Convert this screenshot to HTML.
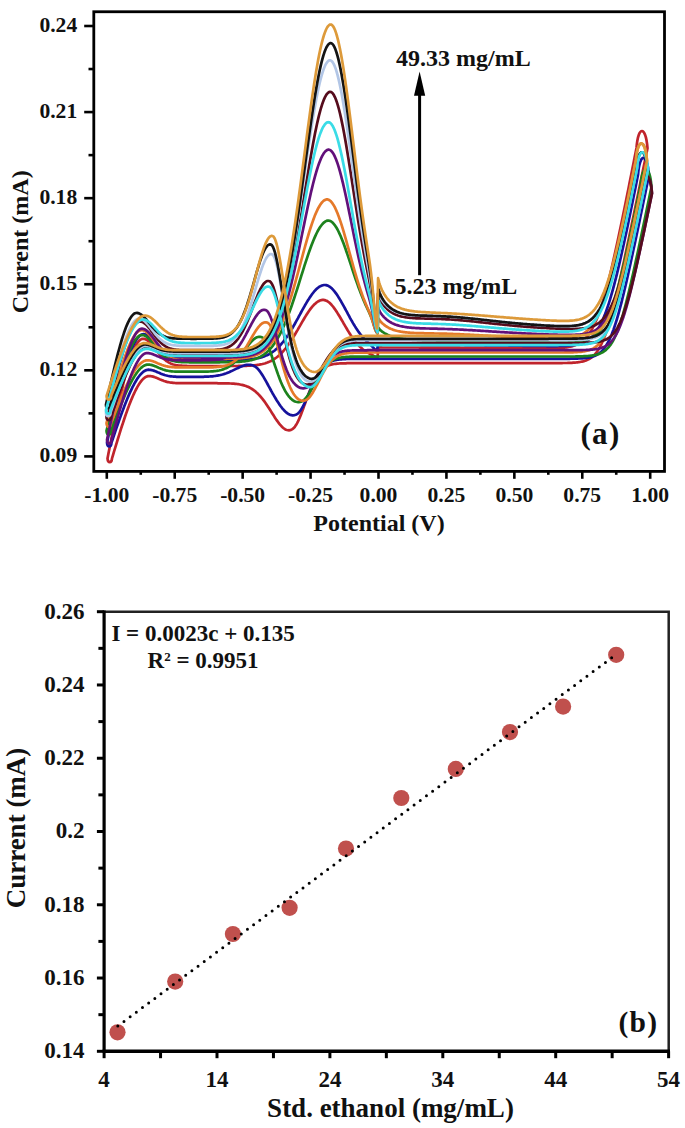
<!DOCTYPE html><html><head><meta charset="utf-8"><style>html,body{margin:0;padding:0;background:#fff;overflow:hidden;width:685px;height:1128px;}svg{display:block}text{font-family:"Liberation Serif",serif;font-weight:bold;fill:#111}</style></head><body>
<svg width="685" height="1128" viewBox="0 0 685 1128">
<g fill="none" stroke-width="2.7" stroke-linejoin="round">
<path d="M107.5,458.4 L108.5,453.3 L109.5,448.3 L110.5,443.3 L111.5,438.3 L112.5,433.3 L113.5,428.4 L114.5,423.5 L115.5,418.6 L116.5,413.9 L117.5,409.2 L118.5,404.6 L119.5,400.0 L120.5,395.6 L121.5,391.3 L122.5,387.1 L123.5,383.0 L124.5,379.0 L125.5,375.2 L126.5,371.5 L127.5,368.0 L128.5,364.6 L129.5,361.4 L130.5,358.4 L131.5,355.6 L132.5,352.9 L133.5,350.5 L134.5,348.2 L135.5,346.2 L136.5,344.4 L137.5,342.8 L138.5,341.5 L139.5,340.4 L140.5,339.6 L141.5,339.1 L142.5,338.8 L143.5,338.8 L144.5,338.9 L145.5,339.3 L146.5,339.8 L147.5,340.4 L148.5,341.2 L149.5,342.1 L150.5,343.1 L151.5,344.2 L152.5,345.4 L153.5,346.6 L154.5,347.9 L155.5,349.2 L156.5,350.5 L157.5,351.8 L158.5,353.0 L159.5,354.2 L160.5,355.4 L161.5,356.5 L162.5,357.6 L163.5,358.6 L164.5,359.5 L165.5,360.3 L166.5,361.1 L167.5,361.7 L168.5,362.3 L169.5,362.9 L170.5,363.4 L171.5,363.8 L172.5,364.2 L173.5,364.5 L174.5,364.7 L175.5,365.0 L176.5,365.2 L177.5,365.3 L178.5,365.5 L179.5,365.6 L180.5,365.7 L181.5,365.7 L182.5,365.8 L183.5,365.8 L184.5,365.9 L185.5,365.9 L186.5,365.9 L187.5,366.0 L188.5,366.0 L189.5,366.0 L190.5,366.0 L191.5,366.0 L192.5,366.0 L193.5,366.0 L194.5,366.0 L195.5,366.0 L196.5,366.0 L197.5,366.0 L198.5,366.0 L199.5,366.0 L200.5,366.0 L201.5,366.0 L202.5,366.0 L203.5,366.0 L204.5,366.0 L205.5,366.0 L206.5,366.0 L207.5,366.0 L208.5,366.0 L209.5,366.0 L210.5,366.0 L211.5,366.0 L212.5,366.0 L213.5,366.0 L214.5,366.0 L215.5,366.0 L216.5,366.0 L217.5,366.0 L218.5,366.0 L219.5,366.0 L220.5,366.0 L221.5,366.0 L222.5,366.0 L223.5,366.0 L224.5,366.0 L225.5,366.0 L226.5,366.0 L227.5,366.0 L228.5,366.0 L229.5,366.0 L230.5,366.0 L231.5,366.0 L232.5,366.0 L233.5,366.0 L234.5,366.0 L235.5,366.0 L236.5,366.0 L237.5,366.0 L238.5,365.9 L239.5,365.9 L240.5,365.9 L241.5,365.9 L242.5,365.9 L243.5,365.9 L244.5,365.8 L245.5,365.8 L246.5,365.8 L247.5,365.7 L248.5,365.7 L249.5,365.6 L250.5,365.6 L251.5,365.5 L252.5,365.4 L253.5,365.4 L254.5,365.3 L255.5,365.2 L256.5,365.0 L257.5,364.9 L258.5,364.8 L259.5,364.6 L260.5,364.4 L261.5,364.2 L262.5,364.0 L263.5,363.7 L264.5,363.5 L265.5,363.2 L266.5,362.8 L267.5,362.5 L268.5,362.1 L269.5,361.6 L270.5,361.2 L271.5,360.7 L272.5,360.1 L273.5,359.5 L274.5,358.9 L275.5,358.2 L276.5,357.5 L277.5,356.7 L278.5,355.9 L279.5,355.0 L280.5,354.0 L281.5,353.0 L282.5,352.0 L283.5,350.8 L284.5,349.7 L285.5,348.5 L286.5,347.2 L287.5,345.8 L288.5,344.5 L289.5,343.0 L290.5,341.5 L291.5,340.0 L292.5,338.4 L293.5,336.8 L294.5,335.2 L295.5,333.5 L296.5,331.8 L297.5,330.1 L298.5,328.3 L299.5,326.6 L300.5,324.9 L301.5,323.1 L302.5,321.4 L303.5,319.7 L304.5,318.0 L305.5,316.4 L306.5,314.8 L307.5,313.2 L308.5,311.7 L309.5,310.3 L310.5,308.9 L311.5,307.6 L312.5,306.4 L313.5,305.3 L314.5,304.3 L315.5,303.4 L316.5,302.5 L317.5,301.8 L318.5,301.2 L319.5,300.7 L320.5,300.3 L321.5,300.1 L322.5,299.9 L323.5,299.9 L324.5,300.1 L325.5,300.4 L326.5,300.8 L327.5,301.3 L328.5,302.0 L329.5,302.8 L330.5,303.8 L331.5,304.8 L332.5,306.0 L333.5,307.2 L334.5,308.6 L335.5,310.0 L336.5,311.5 L337.5,313.1 L338.5,314.7 L339.5,316.3 L340.5,318.0 L341.5,319.7 L342.5,321.4 L343.5,323.2 L344.5,324.9 L345.5,326.6 L346.5,328.3 L347.5,330.0 L348.5,331.6 L349.5,333.2 L350.5,334.8 L351.5,336.3 L352.5,337.7 L353.5,339.1 L354.5,340.5 L355.5,341.7 L356.5,343.0 L357.5,344.1 L358.5,345.2 L359.5,346.3 L360.5,347.2 L361.5,348.1 L362.5,349.0 L363.5,349.8 L364.5,350.5 L365.5,351.2 L366.5,351.8 L367.5,352.4 L368.5,353.0 L369.5,353.5 L370.5,354.1 L371.5,354.6 L372.5,355.2 L373.5,355.8 L374.5,356.4 L375.5,356.8 L376.5,357.1 L377.5,357.3 L378.5,347.4 L379.5,347.4 L380.5,347.4 L381.5,347.4 L382.5,347.5 L383.5,347.5 L384.5,347.5 L385.5,347.5 L386.5,347.5 L387.5,347.5 L388.5,347.5 L389.5,347.5 L390.5,347.5 L391.5,347.5 L392.5,347.5 L393.5,347.5 L394.5,347.5 L395.5,347.5 L396.5,347.5 L397.5,347.5 L398.5,347.5 L399.5,347.5 L400.5,347.5 L401.5,347.5 L402.5,347.5 L403.5,347.5 L404.5,347.5 L405.5,347.5 L406.5,347.5 L407.5,347.5 L408.5,347.5 L409.5,347.5 L410.5,347.5 L411.5,347.5 L412.5,347.5 L413.5,347.5 L414.5,347.5 L415.5,347.5 L416.5,347.5 L417.5,347.5 L418.5,347.5 L419.5,347.6 L420.5,347.6 L421.5,347.6 L422.5,347.6 L423.5,347.6 L424.5,347.6 L425.5,347.6 L426.5,347.6 L427.5,347.6 L428.5,347.6 L429.5,347.6 L430.5,347.6 L431.5,347.6 L432.5,347.6 L433.5,347.6 L434.5,347.6 L435.5,347.6 L436.5,347.6 L437.5,347.6 L438.5,347.6 L439.5,347.6 L440.5,347.6 L441.5,347.6 L442.5,347.6 L443.5,347.7 L444.5,347.7 L445.5,347.7 L446.5,347.7 L447.5,347.7 L448.5,347.7 L449.5,347.7 L450.5,347.7 L451.5,347.7 L452.5,347.7 L453.5,347.7 L454.5,347.7 L455.5,347.7 L456.5,347.7 L457.5,347.7 L458.5,347.7 L459.5,347.7 L460.5,347.8 L461.5,347.8 L462.5,347.8 L463.5,347.8 L464.5,347.8 L465.5,347.8 L466.5,347.8 L467.5,347.8 L468.5,347.8 L469.5,347.8 L470.5,347.8 L471.5,347.8 L472.5,347.8 L473.5,347.8 L474.5,347.8 L475.5,347.9 L476.5,347.9 L477.5,347.9 L478.5,347.9 L479.5,347.9 L480.5,347.9 L481.5,347.9 L482.5,347.9 L483.5,347.9 L484.5,347.9 L485.5,347.9 L486.5,347.9 L487.5,348.0 L488.5,348.0 L489.5,348.0 L490.5,348.0 L491.5,348.0 L492.5,348.0 L493.5,348.0 L494.5,348.0 L495.5,348.0 L496.5,348.0 L497.5,348.0 L498.5,348.1 L499.5,348.1 L500.5,348.1 L501.5,348.1 L502.5,348.1 L503.5,348.1 L504.5,348.1 L505.5,348.1 L506.5,348.1 L507.5,348.1 L508.5,348.2 L509.5,348.2 L510.5,348.2 L511.5,348.2 L512.5,348.2 L513.5,348.2 L514.5,348.2 L515.5,348.2 L516.5,348.2 L517.5,348.2 L518.5,348.3 L519.5,348.3 L520.5,348.3 L521.5,348.3 L522.5,348.3 L523.5,348.3 L524.5,348.3 L525.5,348.3 L526.5,348.3 L527.5,348.3 L528.5,348.4 L529.5,348.4 L530.5,348.4 L531.5,348.4 L532.5,348.4 L533.5,348.4 L534.5,348.4 L535.5,348.4 L536.5,348.4 L537.5,348.4 L538.5,348.4 L539.5,348.4 L540.5,348.4 L541.5,348.4 L542.5,348.4 L543.5,348.4 L544.5,348.4 L545.5,348.4 L546.5,348.4 L547.5,348.4 L548.5,348.4 L549.5,348.4 L550.5,348.4 L551.5,348.4 L552.5,348.3 L553.5,348.3 L554.5,348.3 L555.5,348.3 L556.5,348.2 L557.5,348.2 L558.5,348.1 L559.5,348.1 L560.5,348.0 L561.5,347.9 L562.5,347.8 L563.5,347.7 L564.5,347.6 L565.5,347.5 L566.5,347.4 L567.5,347.2 L568.5,347.0 L569.5,346.8 L570.5,346.6 L571.5,346.4 L572.5,346.1 L573.5,345.8 L574.5,345.5 L575.5,345.1 L576.5,344.7 L577.5,344.2 L578.5,343.7 L579.5,343.1 L580.5,342.5 L581.5,341.8 L582.5,341.0 L583.5,340.2 L584.5,339.3 L585.5,338.3 L586.5,337.1 L587.5,335.9 L588.5,334.6 L589.5,333.2 L590.5,331.7 L591.5,330.0 L592.5,328.2 L593.5,326.3 L594.5,324.2 L595.5,322.0 L596.5,319.7 L597.5,317.2 L598.5,314.6 L599.5,311.8 L600.5,308.9 L601.5,305.8 L602.5,302.6 L603.5,299.3 L604.5,295.9 L605.5,292.3 L606.5,288.6 L607.5,284.8 L608.5,280.9 L609.5,276.8 L610.5,272.7 L611.5,268.5 L612.5,264.2 L613.5,259.9 L614.5,255.4 L615.5,250.9 L616.5,246.4 L617.5,241.7 L618.5,237.1 L619.5,232.3 L620.5,227.6 L621.5,222.8 L622.5,217.9 L623.5,213.1 L624.5,208.2 L625.5,203.3 L626.5,198.3 L627.5,193.3 L628.5,188.4 L629.5,183.3 L630.5,178.3 L631.5,173.3 L632.5,168.2 L633.5,163.2 L634.5,158.1 L635.5,153.0 L636.5,147.9 C638.3,125.2 645.7,125.5 647.5,148.2 L647.5,148.2 L647.0,150.7 L646.0,155.5 L645.0,160.4 L644.0,165.3 L643.0,170.1 L642.0,175.0 L641.0,179.8 L640.0,184.7 L639.0,189.5 L638.0,194.4 L637.0,199.2 L636.0,204.1 L635.0,208.9 L634.0,213.7 L633.0,218.5 L632.0,223.3 L631.0,228.1 L630.0,232.9 L629.0,237.7 L628.0,242.4 L627.0,247.1 L626.0,251.8 L625.0,256.5 L624.0,261.2 L623.0,265.8 L622.0,270.3 L621.0,274.9 L620.0,279.4 L619.0,283.8 L618.0,288.2 L617.0,292.5 L616.0,296.7 L615.0,300.8 L614.0,304.9 L613.0,308.8 L612.0,312.6 L611.0,316.3 L610.0,319.9 L609.0,323.3 L608.0,326.6 L607.0,329.7 L606.0,332.7 L605.0,335.5 L604.0,338.1 L603.0,340.6 L602.0,342.8 L601.0,344.9 L600.0,346.9 L599.0,348.6 L598.0,350.2 L597.0,351.7 L596.0,353.0 L595.0,354.2 L594.0,355.3 L593.0,356.2 L592.0,357.1 L591.0,357.8 L590.0,358.5 L589.0,359.1 L588.0,359.6 L587.0,360.0 L586.0,360.4 L585.0,360.8 L584.0,361.1 L583.0,361.4 L582.0,361.6 L581.0,361.8 L580.0,362.0 L579.0,362.1 L578.0,362.3 L577.0,362.4 L576.0,362.5 L575.0,362.6 L574.0,362.6 L573.0,362.7 L572.0,362.8 L571.0,362.8 L570.0,362.9 L569.0,362.9 L568.0,362.9 L567.0,363.0 L566.0,363.0 L565.0,363.0 L564.0,363.0 L563.0,363.0 L562.0,363.1 L561.0,363.1 L560.0,363.1 L559.0,363.1 L558.0,363.1 L557.0,363.1 L556.0,363.1 L555.0,363.1 L554.0,363.1 L553.0,363.1 L552.0,363.1 L551.0,363.1 L550.0,363.1 L549.0,363.1 L548.0,363.1 L547.0,363.1 L546.0,363.1 L545.0,363.1 L544.0,363.1 L543.0,363.1 L542.0,363.1 L541.0,363.1 L540.0,363.1 L539.0,363.1 L538.0,363.1 L537.0,363.1 L536.0,363.1 L535.0,363.1 L534.0,363.1 L533.0,363.1 L532.0,363.1 L531.0,363.1 L530.0,363.1 L529.0,363.1 L528.0,363.1 L527.0,363.1 L526.0,363.1 L525.0,363.1 L524.0,363.1 L523.0,363.1 L522.0,363.1 L521.0,363.1 L520.0,363.1 L519.0,363.1 L518.0,363.1 L517.0,363.1 L516.0,363.1 L515.0,363.1 L514.0,363.1 L513.0,363.1 L512.0,363.1 L511.0,363.1 L510.0,363.1 L509.0,363.1 L508.0,363.1 L507.0,363.1 L506.0,363.1 L505.0,363.1 L504.0,363.1 L503.0,363.1 L502.0,363.1 L501.0,363.1 L500.0,363.1 L499.0,363.1 L498.0,363.1 L497.0,363.1 L496.0,363.1 L495.0,363.1 L494.0,363.1 L493.0,363.1 L492.0,363.1 L491.0,363.1 L490.0,363.1 L489.0,363.1 L488.0,363.1 L487.0,363.1 L486.0,363.1 L485.0,363.1 L484.0,363.1 L483.0,363.1 L482.0,363.1 L481.0,363.1 L480.0,363.1 L479.0,363.1 L478.0,363.1 L477.0,363.1 L476.0,363.1 L475.0,363.1 L474.0,363.1 L473.0,363.1 L472.0,363.1 L471.0,363.1 L470.0,363.1 L469.0,363.1 L468.0,363.1 L467.0,363.1 L466.0,363.1 L465.0,363.1 L464.0,363.1 L463.0,363.1 L462.0,363.1 L461.0,363.1 L460.0,363.1 L459.0,363.1 L458.0,363.1 L457.0,363.1 L456.0,363.1 L455.0,363.1 L454.0,363.1 L453.0,363.1 L452.0,363.1 L451.0,363.1 L450.0,363.1 L449.0,363.1 L448.0,363.1 L447.0,363.1 L446.0,363.1 L445.0,363.1 L444.0,363.1 L443.0,363.1 L442.0,363.1 L441.0,363.1 L440.0,363.1 L439.0,363.1 L438.0,363.1 L437.0,363.1 L436.0,363.1 L435.0,363.1 L434.0,363.1 L433.0,363.1 L432.0,363.1 L431.0,363.1 L430.0,363.1 L429.0,363.1 L428.0,363.1 L427.0,363.1 L426.0,363.1 L425.0,363.1 L424.0,363.1 L423.0,363.1 L422.0,363.1 L421.0,363.1 L420.0,363.1 L419.0,363.1 L418.0,363.1 L417.0,363.1 L416.0,363.1 L415.0,363.1 L414.0,363.1 L413.0,363.1 L412.0,363.1 L411.0,363.1 L410.0,363.1 L409.0,363.1 L408.0,363.1 L407.0,363.1 L406.0,363.1 L405.0,363.1 L404.0,363.1 L403.0,363.1 L402.0,363.1 L401.0,363.1 L400.0,363.1 L399.0,363.1 L398.0,363.1 L397.0,363.1 L396.0,363.1 L395.0,363.1 L394.0,363.1 L393.0,363.1 L392.0,363.1 L391.0,363.1 L390.0,363.1 L389.0,363.1 L388.0,363.1 L387.0,363.1 L386.0,363.1 L385.0,363.1 L384.0,363.1 L383.0,363.1 L382.0,363.1 L381.0,363.1 L380.0,363.1 L379.0,363.1 L378.0,363.1 L377.0,363.1 L376.0,363.1 L375.0,363.1 L374.0,363.1 L373.0,363.1 L372.0,363.1 L371.0,363.1 L370.0,363.1 L369.0,363.1 L368.0,363.1 L367.0,363.2 L366.0,363.2 L365.0,363.2 L364.0,363.2 L363.0,363.2 L362.0,363.2 L361.0,363.2 L360.0,363.2 L359.0,363.2 L358.0,363.2 L357.0,363.2 L356.0,363.2 L355.0,363.2 L354.0,363.2 L353.0,363.2 L352.0,363.2 L351.0,363.2 L350.0,363.2 L349.0,363.2 L348.0,363.2 L347.0,363.2 L346.0,363.3 L345.0,363.3 L344.0,363.3 L343.0,363.3 L342.0,363.4 L341.0,363.4 L340.0,363.4 L339.0,363.5 L338.0,363.6 L337.0,363.7 L336.0,363.8 L335.0,363.9 L334.0,364.0 L333.0,364.2 L332.0,364.4 L331.0,364.7 L330.0,365.0 L329.0,365.3 L328.0,365.7 L327.0,366.1 L326.0,366.7 L325.0,367.3 L324.0,368.0 L323.0,368.8 L322.0,369.6 L321.0,370.6 L320.0,371.8 L319.0,373.0 L318.0,374.4 L317.0,375.9 L316.0,377.5 L315.0,379.3 L314.0,381.3 L313.0,383.3 L312.0,385.5 L311.0,387.9 L310.0,390.3 L309.0,392.8 L308.0,395.5 L307.0,398.2 L306.0,400.9 L305.0,403.7 L304.0,406.4 L303.0,409.2 L302.0,411.8 L301.0,414.4 L300.0,416.9 L299.0,419.2 L298.0,421.4 L297.0,423.3 L296.0,425.1 L295.0,426.6 L294.0,427.8 L293.0,428.7 L292.0,429.4 L291.0,429.9 L290.0,430.2 L289.0,430.3 L288.0,430.2 L287.0,430.0 L286.0,429.7 L285.0,429.2 L284.0,428.5 L283.0,427.7 L282.0,426.8 L281.0,425.7 L280.0,424.6 L279.0,423.4 L278.0,422.0 L277.0,420.6 L276.0,419.2 L275.0,417.7 L274.0,416.1 L273.0,414.6 L272.0,413.0 L271.0,411.4 L270.0,409.8 L269.0,408.2 L268.0,406.7 L267.0,405.2 L266.0,403.7 L265.0,402.3 L264.0,400.9 L263.0,399.6 L262.0,398.3 L261.0,397.1 L260.0,396.0 L259.0,394.9 L258.0,393.8 L257.0,392.9 L256.0,392.0 L255.0,391.1 L254.0,390.4 L253.0,389.6 L252.0,389.0 L251.0,388.4 L250.0,387.8 L249.0,387.3 L248.0,386.8 L247.0,386.4 L246.0,386.0 L245.0,385.7 L244.0,385.4 L243.0,385.1 L242.0,384.9 L241.0,384.7 L240.0,384.5 L239.0,384.3 L238.0,384.1 L237.0,384.0 L236.0,383.9 L235.0,383.8 L234.0,383.7 L233.0,383.6 L232.0,383.6 L231.0,383.5 L230.0,383.5 L229.0,383.4 L228.0,383.4 L227.0,383.4 L226.0,383.3 L225.0,383.3 L224.0,383.3 L223.0,383.3 L222.0,383.3 L221.0,383.3 L220.0,383.3 L219.0,383.3 L218.0,383.3 L217.0,383.2 L216.0,383.2 L215.0,383.2 L214.0,383.2 L213.0,383.2 L212.0,383.2 L211.0,383.2 L210.0,383.2 L209.0,383.2 L208.0,383.2 L207.0,383.2 L206.0,383.2 L205.0,383.2 L204.0,383.2 L203.0,383.2 L202.0,383.2 L201.0,383.2 L200.0,383.2 L199.0,383.2 L198.0,383.2 L197.0,383.2 L196.0,383.2 L195.0,383.2 L194.0,383.2 L193.0,383.2 L192.0,383.2 L191.0,383.2 L190.0,383.2 L189.0,383.2 L188.0,383.2 L187.0,383.2 L186.0,383.2 L185.0,383.2 L184.0,383.2 L183.0,383.2 L182.0,383.2 L181.0,383.2 L180.0,383.2 L179.0,383.2 L178.0,383.1 L177.0,383.1 L176.0,383.1 L175.0,383.0 L174.0,382.9 L173.0,382.8 L172.0,382.7 L171.0,382.6 L170.0,382.5 L169.0,382.3 L168.0,382.1 L167.0,381.9 L166.0,381.6 L165.0,381.3 L164.0,381.0 L163.0,380.6 L162.0,380.2 L161.0,379.8 L160.0,379.4 L159.0,378.9 L158.0,378.5 L157.0,378.1 L156.0,377.6 L155.0,377.3 L154.0,376.9 L153.0,376.6 L152.0,376.4 L151.0,376.2 L150.0,376.1 L149.0,376.1 L148.0,376.1 L147.0,376.4 L146.0,376.8 L145.0,377.4 L144.0,378.2 L143.0,379.1 L142.0,380.2 L141.0,381.4 L140.0,382.8 L139.0,384.3 L138.0,385.9 L137.0,387.6 L136.0,389.5 L135.0,391.5 L134.0,393.6 L133.0,395.8 L132.0,398.1 L131.0,400.5 L130.0,403.1 L129.0,405.6 L128.0,408.3 L127.0,411.1 L126.0,413.9 L125.0,416.8 L124.0,419.7 L123.0,422.8 L122.0,425.8 L121.0,428.9 L120.0,432.1 L119.0,435.3 L118.0,438.5 L117.0,441.8 L116.0,445.1 L115.0,448.4 L114.0,451.7 L113.0,455.1 L112.0,458.4 C111.7,463.4 107.8,463.4 107.5,458.4 Z" stroke="#c0242c"/>
<path d="M107.0,442.6 L108.0,438.1 L109.0,433.7 L110.0,429.2 L111.0,424.8 L112.0,420.4 L113.0,416.0 L114.0,411.6 L115.0,407.3 L116.0,403.1 L117.0,398.9 L118.0,394.8 L119.0,390.8 L120.0,386.8 L121.0,383.0 L122.0,379.2 L123.0,375.6 L124.0,372.0 L125.0,368.6 L126.0,365.2 L127.0,362.1 L128.0,359.0 L129.0,356.1 L130.0,353.3 L131.0,350.7 L132.0,348.3 L133.0,346.0 L134.0,343.9 L135.0,342.0 L136.0,340.3 L137.0,338.8 L138.0,337.5 L139.0,336.4 L140.0,335.5 L141.0,334.8 L142.0,334.4 L143.0,334.2 L144.0,334.2 L145.0,334.4 L146.0,334.7 L147.0,335.2 L148.0,335.9 L149.0,336.6 L150.0,337.5 L151.0,338.5 L152.0,339.5 L153.0,340.7 L154.0,341.8 L155.0,343.1 L156.0,344.3 L157.0,345.5 L158.0,346.7 L159.0,347.9 L160.0,349.1 L161.0,350.2 L162.0,351.2 L163.0,352.2 L164.0,353.1 L165.0,353.9 L166.0,354.7 L167.0,355.4 L168.0,356.1 L169.0,356.6 L170.0,357.1 L171.0,357.6 L172.0,358.0 L173.0,358.3 L174.0,358.6 L175.0,358.8 L176.0,359.0 L177.0,359.2 L178.0,359.4 L179.0,359.5 L180.0,359.6 L181.0,359.7 L182.0,359.7 L183.0,359.8 L184.0,359.8 L185.0,359.9 L186.0,359.9 L187.0,359.9 L188.0,359.9 L189.0,359.9 L190.0,360.0 L191.0,360.0 L192.0,360.0 L193.0,360.0 L194.0,360.0 L195.0,360.0 L196.0,360.0 L197.0,360.0 L198.0,360.0 L199.0,360.0 L200.0,360.0 L201.0,360.0 L202.0,360.0 L203.0,360.0 L204.0,360.0 L205.0,360.0 L206.0,360.0 L207.0,360.0 L208.0,360.0 L209.0,360.0 L210.0,360.0 L211.0,360.0 L212.0,360.0 L213.0,360.0 L214.0,360.0 L215.0,360.0 L216.0,360.0 L217.0,360.0 L218.0,360.0 L219.0,360.0 L220.0,360.0 L221.0,360.0 L222.0,360.0 L223.0,360.0 L224.0,360.0 L225.0,360.0 L226.0,360.0 L227.0,360.0 L228.0,360.0 L229.0,360.0 L230.0,359.9 L231.0,359.9 L232.0,359.9 L233.0,359.9 L234.0,359.9 L235.0,359.9 L236.0,359.9 L237.0,359.9 L238.0,359.8 L239.0,359.8 L240.0,359.8 L241.0,359.8 L242.0,359.7 L243.0,359.7 L244.0,359.7 L245.0,359.6 L246.0,359.6 L247.0,359.5 L248.0,359.4 L249.0,359.3 L250.0,359.3 L251.0,359.2 L252.0,359.1 L253.0,358.9 L254.0,358.8 L255.0,358.7 L256.0,358.5 L257.0,358.3 L258.0,358.1 L259.0,357.9 L260.0,357.6 L261.0,357.4 L262.0,357.1 L263.0,356.8 L264.0,356.4 L265.0,356.0 L266.0,355.6 L267.0,355.2 L268.0,354.7 L269.0,354.2 L270.0,353.6 L271.0,353.0 L272.0,352.4 L273.0,351.7 L274.0,351.0 L275.0,350.2 L276.0,349.3 L277.0,348.5 L278.0,347.5 L279.0,346.5 L280.0,345.5 L281.0,344.4 L282.0,343.2 L283.0,342.0 L284.0,340.7 L285.0,339.4 L286.0,338.0 L287.0,336.6 L288.0,335.1 L289.0,333.6 L290.0,332.0 L291.0,330.4 L292.0,328.7 L293.0,327.0 L294.0,325.3 L295.0,323.5 L296.0,321.7 L297.0,319.9 L298.0,318.1 L299.0,316.2 L300.0,314.4 L301.0,312.5 L302.0,310.7 L303.0,308.9 L304.0,307.1 L305.0,305.3 L306.0,303.6 L307.0,301.9 L308.0,300.2 L309.0,298.7 L310.0,297.1 L311.0,295.7 L312.0,294.3 L313.0,293.0 L314.0,291.7 L315.0,290.6 L316.0,289.5 L317.0,288.6 L318.0,287.8 L319.0,287.0 L320.0,286.4 L321.0,285.9 L322.0,285.5 L323.0,285.2 L324.0,285.0 L325.0,285.0 L326.0,285.1 L327.0,285.4 L328.0,285.7 L329.0,286.3 L330.0,286.9 L331.0,287.7 L332.0,288.6 L333.0,289.7 L334.0,290.8 L335.0,292.1 L336.0,293.4 L337.0,294.8 L338.0,296.4 L339.0,298.0 L340.0,299.6 L341.0,301.3 L342.0,303.1 L343.0,304.9 L344.0,306.7 L345.0,308.5 L346.0,310.4 L347.0,312.2 L348.0,314.1 L349.0,315.9 L350.0,317.8 L351.0,319.6 L352.0,321.3 L353.0,323.1 L354.0,324.7 L355.0,326.4 L356.0,328.0 L357.0,329.5 L358.0,331.0 L359.0,332.4 L360.0,333.7 L361.0,335.0 L362.0,336.3 L363.0,337.4 L364.0,338.6 L365.0,339.6 L366.0,340.6 L367.0,341.6 L368.0,342.5 L369.0,343.4 L370.0,344.3 L371.0,345.2 L372.0,346.2 L373.0,347.4 L374.0,348.5 L375.0,349.6 L376.0,350.4 L377.0,350.9 L378.0,344.3 L379.0,344.5 L380.0,344.5 L381.0,344.6 L382.0,344.6 L383.0,344.6 L384.0,344.6 L385.0,344.6 L386.0,344.6 L387.0,344.6 L388.0,344.6 L389.0,344.6 L390.0,344.6 L391.0,344.6 L392.0,344.6 L393.0,344.6 L394.0,344.6 L395.0,344.7 L396.0,344.7 L397.0,344.7 L398.0,344.7 L399.0,344.7 L400.0,344.7 L401.0,344.7 L402.0,344.7 L403.0,344.7 L404.0,344.7 L405.0,344.7 L406.0,344.7 L407.0,344.7 L408.0,344.7 L409.0,344.7 L410.0,344.7 L411.0,344.7 L412.0,344.7 L413.0,344.7 L414.0,344.7 L415.0,344.7 L416.0,344.7 L417.0,344.7 L418.0,344.7 L419.0,344.7 L420.0,344.7 L421.0,344.8 L422.0,344.8 L423.0,344.8 L424.0,344.8 L425.0,344.8 L426.0,344.8 L427.0,344.8 L428.0,344.8 L429.0,344.8 L430.0,344.8 L431.0,344.8 L432.0,344.8 L433.0,344.8 L434.0,344.8 L435.0,344.8 L436.0,344.8 L437.0,344.8 L438.0,344.8 L439.0,344.9 L440.0,344.9 L441.0,344.9 L442.0,344.9 L443.0,344.9 L444.0,344.9 L445.0,344.9 L446.0,344.9 L447.0,344.9 L448.0,344.9 L449.0,344.9 L450.0,344.9 L451.0,344.9 L452.0,344.9 L453.0,344.9 L454.0,345.0 L455.0,345.0 L456.0,345.0 L457.0,345.0 L458.0,345.0 L459.0,345.0 L460.0,345.0 L461.0,345.0 L462.0,345.0 L463.0,345.0 L464.0,345.0 L465.0,345.1 L466.0,345.1 L467.0,345.1 L468.0,345.1 L469.0,345.1 L470.0,345.1 L471.0,345.1 L472.0,345.1 L473.0,345.1 L474.0,345.1 L475.0,345.1 L476.0,345.2 L477.0,345.2 L478.0,345.2 L479.0,345.2 L480.0,345.2 L481.0,345.2 L482.0,345.2 L483.0,345.2 L484.0,345.2 L485.0,345.3 L486.0,345.3 L487.0,345.3 L488.0,345.3 L489.0,345.3 L490.0,345.3 L491.0,345.3 L492.0,345.3 L493.0,345.4 L494.0,345.4 L495.0,345.4 L496.0,345.4 L497.0,345.4 L498.0,345.4 L499.0,345.4 L500.0,345.4 L501.0,345.5 L502.0,345.5 L503.0,345.5 L504.0,345.5 L505.0,345.5 L506.0,345.5 L507.0,345.5 L508.0,345.5 L509.0,345.6 L510.0,345.6 L511.0,345.6 L512.0,345.6 L513.0,345.6 L514.0,345.6 L515.0,345.6 L516.0,345.7 L517.0,345.7 L518.0,345.7 L519.0,345.7 L520.0,345.7 L521.0,345.7 L522.0,345.7 L523.0,345.8 L524.0,345.8 L525.0,345.8 L526.0,345.8 L527.0,345.8 L528.0,345.8 L529.0,345.8 L530.0,345.9 L531.0,345.9 L532.0,345.9 L533.0,345.9 L534.0,345.9 L535.0,345.9 L536.0,345.9 L537.0,346.0 L538.0,346.0 L539.0,346.0 L540.0,346.0 L541.0,346.0 L542.0,346.0 L543.0,346.0 L544.0,346.0 L545.0,346.0 L546.0,346.0 L547.0,346.1 L548.0,346.1 L549.0,346.1 L550.0,346.1 L551.0,346.1 L552.0,346.1 L553.0,346.1 L554.0,346.1 L555.0,346.1 L556.0,346.1 L557.0,346.1 L558.0,346.0 L559.0,346.0 L560.0,346.0 L561.0,346.0 L562.0,346.0 L563.0,345.9 L564.0,345.9 L565.0,345.8 L566.0,345.8 L567.0,345.7 L568.0,345.7 L569.0,345.6 L570.0,345.5 L571.0,345.4 L572.0,345.3 L573.0,345.2 L574.0,345.0 L575.0,344.9 L576.0,344.7 L577.0,344.5 L578.0,344.3 L579.0,344.0 L580.0,343.8 L581.0,343.4 L582.0,343.1 L583.0,342.7 L584.0,342.3 L585.0,341.8 L586.0,341.3 L587.0,340.7 L588.0,340.1 L589.0,339.3 L590.0,338.6 L591.0,337.7 L592.0,336.8 L593.0,335.7 L594.0,334.6 L595.0,333.4 L596.0,332.0 L597.0,330.6 L598.0,329.0 L599.0,327.3 L600.0,325.5 L601.0,323.5 L602.0,321.4 L603.0,319.2 L604.0,316.8 L605.0,314.3 L606.0,311.6 L607.0,308.8 L608.0,305.9 L609.0,302.8 L610.0,299.6 L611.0,296.2 L612.0,292.7 L613.0,289.1 L614.0,285.4 L615.0,281.5 L616.0,277.6 L617.0,273.6 L618.0,269.4 L619.0,265.2 L620.0,260.9 L621.0,256.5 L622.0,252.0 L623.0,247.5 L624.0,243.0 L625.0,238.3 L626.0,233.6 L627.0,228.9 L628.0,224.1 L629.0,219.3 L630.0,214.5 L631.0,209.6 L632.0,204.7 L633.0,199.8 L634.0,194.8 L635.0,189.9 L636.0,184.9 L637.0,179.8 L638.0,174.8 C639.8,152.1 647.2,152.5 649.0,175.2 L649.0,175.2 L648.5,177.6 L647.5,182.5 L646.5,187.3 L645.5,192.2 L644.5,197.0 L643.5,201.8 L642.5,206.7 L641.5,211.5 L640.5,216.3 L639.5,221.1 L638.5,225.9 L637.5,230.6 L636.5,235.4 L635.5,240.1 L634.5,244.9 L633.5,249.5 L632.5,254.2 L631.5,258.8 L630.5,263.4 L629.5,268.0 L628.5,272.5 L627.5,277.0 L626.5,281.4 L625.5,285.7 L624.5,290.0 L623.5,294.2 L622.5,298.3 L621.5,302.3 L620.5,306.2 L619.5,309.9 L618.5,313.6 L617.5,317.1 L616.5,320.5 L615.5,323.7 L614.5,326.7 L613.5,329.6 L612.5,332.3 L611.5,334.9 L610.5,337.3 L609.5,339.5 L608.5,341.5 L607.5,343.3 L606.5,345.0 L605.5,346.6 L604.5,348.0 L603.5,349.3 L602.5,350.4 L601.5,351.4 L600.5,352.3 L599.5,353.1 L598.5,353.8 L597.5,354.4 L596.5,355.0 L595.5,355.5 L594.5,355.9 L593.5,356.3 L592.5,356.6 L591.5,356.9 L590.5,357.2 L589.5,357.4 L588.5,357.6 L587.5,357.7 L586.5,357.9 L585.5,358.0 L584.5,358.1 L583.5,358.2 L582.5,358.3 L581.5,358.4 L580.5,358.4 L579.5,358.5 L578.5,358.5 L577.5,358.6 L576.5,358.6 L575.5,358.6 L574.5,358.7 L573.5,358.7 L572.5,358.7 L571.5,358.7 L570.5,358.7 L569.5,358.8 L568.5,358.8 L567.5,358.8 L566.5,358.8 L565.5,358.8 L564.5,358.8 L563.5,358.8 L562.5,358.8 L561.5,358.8 L560.5,358.8 L559.5,358.8 L558.5,358.8 L557.5,358.8 L556.5,358.8 L555.5,358.8 L554.5,358.8 L553.5,358.8 L552.5,358.8 L551.5,358.8 L550.5,358.8 L549.5,358.8 L548.5,358.8 L547.5,358.8 L546.5,358.8 L545.5,358.8 L544.5,358.8 L543.5,358.8 L542.5,358.8 L541.5,358.8 L540.5,358.8 L539.5,358.8 L538.5,358.8 L537.5,358.8 L536.5,358.8 L535.5,358.8 L534.5,358.8 L533.5,358.8 L532.5,358.8 L531.5,358.8 L530.5,358.8 L529.5,358.8 L528.5,358.8 L527.5,358.8 L526.5,358.8 L525.5,358.8 L524.5,358.8 L523.5,358.8 L522.5,358.8 L521.5,358.8 L520.5,358.8 L519.5,358.8 L518.5,358.8 L517.5,358.8 L516.5,358.8 L515.5,358.8 L514.5,358.8 L513.5,358.8 L512.5,358.8 L511.5,358.8 L510.5,358.8 L509.5,358.8 L508.5,358.8 L507.5,358.8 L506.5,358.8 L505.5,358.8 L504.5,358.8 L503.5,358.8 L502.5,358.8 L501.5,358.8 L500.5,358.8 L499.5,358.8 L498.5,358.8 L497.5,358.8 L496.5,358.8 L495.5,358.8 L494.5,358.8 L493.5,358.8 L492.5,358.8 L491.5,358.8 L490.5,358.8 L489.5,358.8 L488.5,358.8 L487.5,358.8 L486.5,358.8 L485.5,358.8 L484.5,358.8 L483.5,358.8 L482.5,358.8 L481.5,358.8 L480.5,358.8 L479.5,358.8 L478.5,358.8 L477.5,358.8 L476.5,358.8 L475.5,358.8 L474.5,358.8 L473.5,358.8 L472.5,358.8 L471.5,358.8 L470.5,358.8 L469.5,358.8 L468.5,358.8 L467.5,358.8 L466.5,358.8 L465.5,358.8 L464.5,358.8 L463.5,358.8 L462.5,358.8 L461.5,358.8 L460.5,358.8 L459.5,358.8 L458.5,358.8 L457.5,358.8 L456.5,358.8 L455.5,358.8 L454.5,358.8 L453.5,358.8 L452.5,358.8 L451.5,358.8 L450.5,358.8 L449.5,358.8 L448.5,358.8 L447.5,358.8 L446.5,358.8 L445.5,358.8 L444.5,358.8 L443.5,358.8 L442.5,358.8 L441.5,358.8 L440.5,358.8 L439.5,358.8 L438.5,358.8 L437.5,358.8 L436.5,358.8 L435.5,358.8 L434.5,358.8 L433.5,358.8 L432.5,358.8 L431.5,358.8 L430.5,358.8 L429.5,358.8 L428.5,358.8 L427.5,358.8 L426.5,358.8 L425.5,358.8 L424.5,358.8 L423.5,358.8 L422.5,358.8 L421.5,358.8 L420.5,358.8 L419.5,358.8 L418.5,358.8 L417.5,358.8 L416.5,358.8 L415.5,358.8 L414.5,358.8 L413.5,358.8 L412.5,358.8 L411.5,358.8 L410.5,358.8 L409.5,358.8 L408.5,358.8 L407.5,358.8 L406.5,358.8 L405.5,358.8 L404.5,358.8 L403.5,358.8 L402.5,358.8 L401.5,358.8 L400.5,358.8 L399.5,358.8 L398.5,358.8 L397.5,358.8 L396.5,358.8 L395.5,358.8 L394.5,358.8 L393.5,358.8 L392.5,358.8 L391.5,358.8 L390.5,358.8 L389.5,358.8 L388.5,358.8 L387.5,358.8 L386.5,358.8 L385.5,358.8 L384.5,358.8 L383.5,358.8 L382.5,358.8 L381.5,358.8 L380.5,358.8 L379.5,358.8 L378.5,358.8 L377.5,358.8 L376.5,358.8 L375.5,358.8 L374.5,358.8 L373.5,358.8 L372.5,358.8 L371.5,358.8 L370.5,358.8 L369.5,358.8 L368.5,358.8 L367.5,358.8 L366.5,358.9 L365.5,358.9 L364.5,358.9 L363.5,358.9 L362.5,358.9 L361.5,358.9 L360.5,358.9 L359.5,358.9 L358.5,358.9 L357.5,358.9 L356.5,358.9 L355.5,358.9 L354.5,358.9 L353.5,358.9 L352.5,358.9 L351.5,358.9 L350.5,358.9 L349.5,358.9 L348.5,359.0 L347.5,359.0 L346.5,359.0 L345.5,359.1 L344.5,359.1 L343.5,359.1 L342.5,359.2 L341.5,359.3 L340.5,359.3 L339.5,359.5 L338.5,359.6 L337.5,359.7 L336.5,359.9 L335.5,360.1 L334.5,360.3 L333.5,360.6 L332.5,360.9 L331.5,361.3 L330.5,361.7 L329.5,362.2 L328.5,362.8 L327.5,363.4 L326.5,364.1 L325.5,364.9 L324.5,365.9 L323.5,366.9 L322.5,368.0 L321.5,369.2 L320.5,370.6 L319.5,372.1 L318.5,373.7 L317.5,375.4 L316.5,377.2 L315.5,379.1 L314.5,381.1 L313.5,383.2 L312.5,385.4 L311.5,387.6 L310.5,389.9 L309.5,392.2 L308.5,394.6 L307.5,396.9 L306.5,399.1 L305.5,401.3 L304.5,403.4 L303.5,405.4 L302.5,407.3 L301.5,408.9 L300.5,410.5 L299.5,411.8 L298.5,412.9 L297.5,413.8 L296.5,414.4 L295.5,414.8 L294.5,415.1 L293.5,415.3 L292.5,415.3 L291.5,415.2 L290.5,414.9 L289.5,414.5 L288.5,414.0 L287.5,413.4 L286.5,412.6 L285.5,411.8 L284.5,410.8 L283.5,409.7 L282.5,408.6 L281.5,407.3 L280.5,406.0 L279.5,404.6 L278.5,403.1 L277.5,401.6 L276.5,400.0 L275.5,398.3 L274.5,396.6 L273.5,394.9 L272.5,393.2 L271.5,391.4 L270.5,389.5 L269.5,387.7 L268.5,385.9 L267.5,384.0 L266.5,382.2 L265.5,380.4 L264.5,378.6 L263.5,376.9 L262.5,375.3 L261.5,373.7 L260.5,372.2 L259.5,370.9 L258.5,369.6 L257.5,368.5 L256.5,367.6 L255.5,366.8 L254.5,366.2 L253.5,365.7 L252.5,365.3 L251.5,365.1 L250.5,364.9 L249.5,364.8 L248.5,364.8 L247.5,364.8 L246.5,364.9 L245.5,365.1 L244.5,365.4 L243.5,365.7 L242.5,366.0 L241.5,366.4 L240.5,366.8 L239.5,367.2 L238.5,367.7 L237.5,368.2 L236.5,368.6 L235.5,369.1 L234.5,369.6 L233.5,370.1 L232.5,370.6 L231.5,371.1 L230.5,371.5 L229.5,372.0 L228.5,372.4 L227.5,372.8 L226.5,373.2 L225.5,373.5 L224.5,373.9 L223.5,374.2 L222.5,374.5 L221.5,374.7 L220.5,375.0 L219.5,375.2 L218.5,375.4 L217.5,375.6 L216.5,375.7 L215.5,375.9 L214.5,376.0 L213.5,376.2 L212.5,376.3 L211.5,376.4 L210.5,376.4 L209.5,376.5 L208.5,376.6 L207.5,376.6 L206.5,376.7 L205.5,376.7 L204.5,376.7 L203.5,376.8 L202.5,376.8 L201.5,376.8 L200.5,376.8 L199.5,376.8 L198.5,376.9 L197.5,376.9 L196.5,376.9 L195.5,376.9 L194.5,376.9 L193.5,376.9 L192.5,376.9 L191.5,376.9 L190.5,376.9 L189.5,376.9 L188.5,376.9 L187.5,376.9 L186.5,376.9 L185.5,376.9 L184.5,376.9 L183.5,376.9 L182.5,376.9 L181.5,376.9 L180.5,376.9 L179.5,376.9 L178.5,376.8 L177.5,376.8 L176.5,376.8 L175.5,376.7 L174.5,376.7 L173.5,376.6 L172.5,376.5 L171.5,376.4 L170.5,376.3 L169.5,376.2 L168.5,376.0 L167.5,375.8 L166.5,375.5 L165.5,375.3 L164.5,375.0 L163.5,374.6 L162.5,374.3 L161.5,373.9 L160.5,373.5 L159.5,373.0 L158.5,372.6 L157.5,372.2 L156.5,371.7 L155.5,371.3 L154.5,370.9 L153.5,370.6 L152.5,370.3 L151.5,370.1 L150.5,369.9 L149.5,369.8 L148.5,369.7 L147.5,369.8 L146.5,370.1 L145.5,370.4 L144.5,371.0 L143.5,371.6 L142.5,372.5 L141.5,373.4 L140.5,374.5 L139.5,375.7 L138.5,377.0 L137.5,378.4 L136.5,380.0 L135.5,381.7 L134.5,383.4 L133.5,385.3 L132.5,387.2 L131.5,389.3 L130.5,391.4 L129.5,393.6 L128.5,395.9 L127.5,398.3 L126.5,400.7 L125.5,403.2 L124.5,405.8 L123.5,408.4 L122.5,411.1 L121.5,413.8 L120.5,416.6 L119.5,419.4 L118.5,422.2 L117.5,425.1 L116.5,427.9 L115.5,430.8 L114.5,433.8 L113.5,436.7 L112.5,439.7 L111.5,442.6 C111.2,447.6 107.3,447.6 107.0,442.6 Z" stroke="#16129c"/>
<path d="M106.5,430.9 L107.5,426.8 L108.5,422.8 L109.5,418.7 L110.5,414.7 L111.5,410.7 L112.5,406.8 L113.5,402.9 L114.5,399.0 L115.5,395.2 L116.5,391.4 L117.5,387.7 L118.5,384.1 L119.5,380.6 L120.5,377.1 L121.5,373.7 L122.5,370.5 L123.5,367.3 L124.5,364.2 L125.5,361.3 L126.5,358.4 L127.5,355.7 L128.5,353.2 L129.5,350.8 L130.5,348.5 L131.5,346.4 L132.5,344.4 L133.5,342.6 L134.5,341.0 L135.5,339.5 L136.5,338.3 L137.5,337.2 L138.5,336.4 L139.5,335.7 L140.5,335.3 L141.5,335.1 L142.5,335.0 L143.5,335.2 L144.5,335.5 L145.5,336.0 L146.5,336.7 L147.5,337.5 L148.5,338.4 L149.5,339.4 L150.5,340.5 L151.5,341.7 L152.5,342.9 L153.5,344.2 L154.5,345.5 L155.5,346.8 L156.5,348.0 L157.5,349.3 L158.5,350.5 L159.5,351.7 L160.5,352.8 L161.5,353.9 L162.5,354.8 L163.5,355.7 L164.5,356.6 L165.5,357.3 L166.5,358.0 L167.5,358.6 L168.5,359.2 L169.5,359.6 L170.5,360.1 L171.5,360.4 L172.5,360.7 L173.5,361.0 L174.5,361.2 L175.5,361.4 L176.5,361.6 L177.5,361.7 L178.5,361.8 L179.5,361.9 L180.5,362.0 L181.5,362.1 L182.5,362.1 L183.5,362.1 L184.5,362.2 L185.5,362.2 L186.5,362.2 L187.5,362.2 L188.5,362.2 L189.5,362.3 L190.5,362.3 L191.5,362.3 L192.5,362.3 L193.5,362.3 L194.5,362.3 L195.5,362.3 L196.5,362.3 L197.5,362.3 L198.5,362.3 L199.5,362.3 L200.5,362.3 L201.5,362.3 L202.5,362.3 L203.5,362.3 L204.5,362.3 L205.5,362.3 L206.5,362.3 L207.5,362.3 L208.5,362.3 L209.5,362.3 L210.5,362.3 L211.5,362.3 L212.5,362.3 L213.5,362.3 L214.5,362.3 L215.5,362.3 L216.5,362.3 L217.5,362.3 L218.5,362.3 L219.5,362.3 L220.5,362.2 L221.5,362.2 L222.5,362.2 L223.5,362.2 L224.5,362.2 L225.5,362.2 L226.5,362.2 L227.5,362.2 L228.5,362.2 L229.5,362.1 L230.5,362.1 L231.5,362.1 L232.5,362.1 L233.5,362.0 L234.5,362.0 L235.5,362.0 L236.5,361.9 L237.5,361.9 L238.5,361.8 L239.5,361.8 L240.5,361.7 L241.5,361.6 L242.5,361.5 L243.5,361.4 L244.5,361.3 L245.5,361.2 L246.5,361.0 L247.5,360.9 L248.5,360.7 L249.5,360.5 L250.5,360.3 L251.5,360.1 L252.5,359.8 L253.5,359.5 L254.5,359.2 L255.5,358.9 L256.5,358.5 L257.5,358.1 L258.5,357.7 L259.5,357.2 L260.5,356.7 L261.5,356.1 L262.5,355.5 L263.5,354.8 L264.5,354.1 L265.5,353.3 L266.5,352.5 L267.5,351.6 L268.5,350.6 L269.5,349.6 L270.5,348.5 L271.5,347.3 L272.5,346.1 L273.5,344.7 L274.5,343.3 L275.5,341.8 L276.5,340.3 L277.5,338.6 L278.5,336.8 L279.5,335.0 L280.5,333.1 L281.5,331.1 L282.5,329.0 L283.5,326.8 L284.5,324.5 L285.5,322.1 L286.5,319.7 L287.5,317.1 L288.5,314.5 L289.5,311.8 L290.5,309.0 L291.5,306.2 L292.5,303.3 L293.5,300.3 L294.5,297.3 L295.5,294.2 L296.5,291.1 L297.5,288.0 L298.5,284.8 L299.5,281.6 L300.5,278.4 L301.5,275.2 L302.5,272.1 L303.5,268.9 L304.5,265.7 L305.5,262.6 L306.5,259.6 L307.5,256.6 L308.5,253.6 L309.5,250.8 L310.5,248.0 L311.5,245.3 L312.5,242.7 L313.5,240.2 L314.5,237.9 L315.5,235.6 L316.5,233.5 L317.5,231.5 L318.5,229.7 L319.5,228.0 L320.5,226.5 L321.5,225.2 L322.5,224.0 L323.5,222.9 L324.5,222.1 L325.5,221.4 L326.5,220.9 L327.5,220.6 L328.5,220.6 L329.5,220.8 L330.5,221.1 L331.5,221.7 L332.5,222.5 L333.5,223.6 L334.5,224.8 L335.5,226.2 L336.5,227.8 L337.5,229.5 L338.5,231.5 L339.5,233.6 L340.5,235.8 L341.5,238.2 L342.5,240.7 L343.5,243.3 L344.5,246.0 L345.5,248.8 L346.5,251.7 L347.5,254.6 L348.5,257.6 L349.5,260.6 L350.5,263.6 L351.5,266.7 L352.5,269.7 L353.5,272.7 L354.5,275.7 L355.5,278.7 L356.5,281.6 L357.5,284.4 L358.5,287.2 L359.5,289.9 L360.5,292.6 L361.5,295.1 L362.5,297.6 L363.5,300.0 L364.5,302.3 L365.5,304.6 L366.5,306.7 L367.5,308.8 L368.5,310.9 L369.5,313.1 L370.5,315.4 L371.5,317.9 L372.5,320.8 L373.5,324.1 L374.5,327.4 L375.5,330.2 L376.5,332.2 L377.5,333.4 L378.5,327.8 L379.5,329.1 L380.5,330.2 L381.5,331.1 L382.5,331.8 L383.5,332.5 L384.5,333.2 L385.5,333.8 L386.5,334.3 L387.5,334.8 L388.5,335.2 L389.5,335.7 L390.5,336.0 L391.5,336.4 L392.5,336.7 L393.5,337.0 L394.5,337.3 L395.5,337.5 L396.5,337.8 L397.5,338.0 L398.5,338.2 L399.5,338.4 L400.5,338.5 L401.5,338.7 L402.5,338.8 L403.5,339.0 L404.5,339.1 L405.5,339.2 L406.5,339.3 L407.5,339.4 L408.5,339.5 L409.5,339.6 L410.5,339.7 L411.5,339.7 L412.5,339.8 L413.5,339.9 L414.5,339.9 L415.5,340.0 L416.5,340.0 L417.5,340.1 L418.5,340.1 L419.5,340.1 L420.5,340.2 L421.5,340.2 L422.5,340.3 L423.5,340.3 L424.5,340.3 L425.5,340.3 L426.5,340.4 L427.5,340.4 L428.5,340.4 L429.5,340.4 L430.5,340.5 L431.5,340.5 L432.5,340.5 L433.5,340.5 L434.5,340.5 L435.5,340.5 L436.5,340.6 L437.5,340.6 L438.5,340.6 L439.5,340.6 L440.5,340.6 L441.5,340.6 L442.5,340.7 L443.5,340.7 L444.5,340.7 L445.5,340.7 L446.5,340.7 L447.5,340.7 L448.5,340.7 L449.5,340.7 L450.5,340.8 L451.5,340.8 L452.5,340.8 L453.5,340.8 L454.5,340.8 L455.5,340.8 L456.5,340.8 L457.5,340.8 L458.5,340.9 L459.5,340.9 L460.5,340.9 L461.5,340.9 L462.5,340.9 L463.5,340.9 L464.5,340.9 L465.5,341.0 L466.5,341.0 L467.5,341.0 L468.5,341.0 L469.5,341.0 L470.5,341.0 L471.5,341.0 L472.5,341.1 L473.5,341.1 L474.5,341.1 L475.5,341.1 L476.5,341.1 L477.5,341.1 L478.5,341.1 L479.5,341.2 L480.5,341.2 L481.5,341.2 L482.5,341.2 L483.5,341.2 L484.5,341.2 L485.5,341.2 L486.5,341.3 L487.5,341.3 L488.5,341.3 L489.5,341.3 L490.5,341.3 L491.5,341.3 L492.5,341.4 L493.5,341.4 L494.5,341.4 L495.5,341.4 L496.5,341.4 L497.5,341.4 L498.5,341.5 L499.5,341.5 L500.5,341.5 L501.5,341.5 L502.5,341.5 L503.5,341.6 L504.5,341.6 L505.5,341.6 L506.5,341.6 L507.5,341.6 L508.5,341.6 L509.5,341.7 L510.5,341.7 L511.5,341.7 L512.5,341.7 L513.5,341.7 L514.5,341.8 L515.5,341.8 L516.5,341.8 L517.5,341.8 L518.5,341.8 L519.5,341.9 L520.5,341.9 L521.5,341.9 L522.5,341.9 L523.5,341.9 L524.5,342.0 L525.5,342.0 L526.5,342.0 L527.5,342.0 L528.5,342.0 L529.5,342.1 L530.5,342.1 L531.5,342.1 L532.5,342.1 L533.5,342.1 L534.5,342.2 L535.5,342.2 L536.5,342.2 L537.5,342.2 L538.5,342.2 L539.5,342.3 L540.5,342.3 L541.5,342.3 L542.5,342.3 L543.5,342.3 L544.5,342.4 L545.5,342.4 L546.5,342.4 L547.5,342.4 L548.5,342.4 L549.5,342.4 L550.5,342.5 L551.5,342.5 L552.5,342.5 L553.5,342.5 L554.5,342.5 L555.5,342.5 L556.5,342.5 L557.5,342.5 L558.5,342.5 L559.5,342.5 L560.5,342.5 L561.5,342.5 L562.5,342.5 L563.5,342.5 L564.5,342.5 L565.5,342.5 L566.5,342.5 L567.5,342.5 L568.5,342.4 L569.5,342.4 L570.5,342.4 L571.5,342.3 L572.5,342.3 L573.5,342.2 L574.5,342.1 L575.5,342.0 L576.5,342.0 L577.5,341.8 L578.5,341.7 L579.5,341.6 L580.5,341.4 L581.5,341.3 L582.5,341.1 L583.5,340.8 L584.5,340.6 L585.5,340.3 L586.5,340.0 L587.5,339.7 L588.5,339.3 L589.5,338.8 L590.5,338.4 L591.5,337.8 L592.5,337.3 L593.5,336.6 L594.5,335.9 L595.5,335.1 L596.5,334.3 L597.5,333.3 L598.5,332.3 L599.5,331.1 L600.5,329.9 L601.5,328.6 L602.5,327.1 L603.5,325.5 L604.5,323.8 L605.5,322.0 L606.5,320.0 L607.5,317.9 L608.5,315.7 L609.5,313.3 L610.5,310.8 L611.5,308.1 L612.5,305.3 L613.5,302.3 L614.5,299.2 L615.5,296.0 L616.5,292.6 L617.5,289.1 L618.5,285.5 L619.5,281.8 L620.5,277.9 L621.5,274.0 L622.5,269.9 L623.5,265.8 L624.5,261.6 L625.5,257.2 L626.5,252.9 L627.5,248.4 L628.5,243.9 L629.5,239.3 L630.5,234.7 L631.5,230.0 L632.5,225.2 L633.5,220.5 L634.5,215.7 L635.5,210.8 L636.5,205.9 L637.5,201.0 L638.5,196.1 L639.5,191.2 L640.5,186.2 C642.3,163.6 649.7,164.1 651.5,186.7 L651.5,186.7 L651.0,189.1 L650.0,193.9 L649.0,198.8 L648.0,203.6 L647.0,208.4 L646.0,213.2 L645.0,218.0 L644.0,222.8 L643.0,227.6 L642.0,232.3 L641.0,237.1 L640.0,241.8 L639.0,246.5 L638.0,251.2 L637.0,255.8 L636.0,260.4 L635.0,265.0 L634.0,269.5 L633.0,274.0 L632.0,278.4 L631.0,282.7 L630.0,287.0 L629.0,291.2 L628.0,295.3 L627.0,299.3 L626.0,303.3 L625.0,307.0 L624.0,310.7 L623.0,314.3 L622.0,317.6 L621.0,320.9 L620.0,324.0 L619.0,326.9 L618.0,329.6 L617.0,332.2 L616.0,334.6 L615.0,336.8 L614.0,338.9 L613.0,340.8 L612.0,342.5 L611.0,344.1 L610.0,345.5 L609.0,346.8 L608.0,347.9 L607.0,348.9 L606.0,349.9 L605.0,350.7 L604.0,351.4 L603.0,352.0 L602.0,352.6 L601.0,353.1 L600.0,353.5 L599.0,353.9 L598.0,354.3 L597.0,354.6 L596.0,354.8 L595.0,355.0 L594.0,355.2 L593.0,355.4 L592.0,355.6 L591.0,355.7 L590.0,355.8 L589.0,355.9 L588.0,356.0 L587.0,356.1 L586.0,356.1 L585.0,356.2 L584.0,356.2 L583.0,356.3 L582.0,356.3 L581.0,356.3 L580.0,356.4 L579.0,356.4 L578.0,356.4 L577.0,356.4 L576.0,356.4 L575.0,356.5 L574.0,356.5 L573.0,356.5 L572.0,356.5 L571.0,356.5 L570.0,356.5 L569.0,356.5 L568.0,356.5 L567.0,356.5 L566.0,356.5 L565.0,356.5 L564.0,356.5 L563.0,356.5 L562.0,356.5 L561.0,356.5 L560.0,356.5 L559.0,356.5 L558.0,356.5 L557.0,356.5 L556.0,356.5 L555.0,356.5 L554.0,356.5 L553.0,356.5 L552.0,356.5 L551.0,356.5 L550.0,356.5 L549.0,356.5 L548.0,356.5 L547.0,356.5 L546.0,356.5 L545.0,356.5 L544.0,356.5 L543.0,356.5 L542.0,356.5 L541.0,356.5 L540.0,356.5 L539.0,356.5 L538.0,356.5 L537.0,356.5 L536.0,356.5 L535.0,356.5 L534.0,356.5 L533.0,356.5 L532.0,356.5 L531.0,356.5 L530.0,356.5 L529.0,356.5 L528.0,356.5 L527.0,356.5 L526.0,356.5 L525.0,356.5 L524.0,356.5 L523.0,356.5 L522.0,356.5 L521.0,356.5 L520.0,356.5 L519.0,356.5 L518.0,356.5 L517.0,356.5 L516.0,356.5 L515.0,356.5 L514.0,356.5 L513.0,356.5 L512.0,356.5 L511.0,356.5 L510.0,356.5 L509.0,356.5 L508.0,356.5 L507.0,356.5 L506.0,356.5 L505.0,356.5 L504.0,356.5 L503.0,356.5 L502.0,356.5 L501.0,356.5 L500.0,356.5 L499.0,356.5 L498.0,356.5 L497.0,356.5 L496.0,356.5 L495.0,356.5 L494.0,356.5 L493.0,356.5 L492.0,356.5 L491.0,356.5 L490.0,356.5 L489.0,356.5 L488.0,356.5 L487.0,356.5 L486.0,356.5 L485.0,356.5 L484.0,356.5 L483.0,356.5 L482.0,356.5 L481.0,356.5 L480.0,356.5 L479.0,356.5 L478.0,356.5 L477.0,356.5 L476.0,356.5 L475.0,356.5 L474.0,356.5 L473.0,356.5 L472.0,356.5 L471.0,356.5 L470.0,356.5 L469.0,356.5 L468.0,356.5 L467.0,356.5 L466.0,356.5 L465.0,356.5 L464.0,356.5 L463.0,356.5 L462.0,356.5 L461.0,356.5 L460.0,356.5 L459.0,356.5 L458.0,356.5 L457.0,356.5 L456.0,356.5 L455.0,356.5 L454.0,356.5 L453.0,356.5 L452.0,356.5 L451.0,356.5 L450.0,356.5 L449.0,356.5 L448.0,356.5 L447.0,356.5 L446.0,356.5 L445.0,356.5 L444.0,356.5 L443.0,356.5 L442.0,356.5 L441.0,356.5 L440.0,356.5 L439.0,356.5 L438.0,356.5 L437.0,356.5 L436.0,356.5 L435.0,356.5 L434.0,356.5 L433.0,356.5 L432.0,356.5 L431.0,356.5 L430.0,356.5 L429.0,356.5 L428.0,356.5 L427.0,356.5 L426.0,356.5 L425.0,356.5 L424.0,356.5 L423.0,356.5 L422.0,356.5 L421.0,356.5 L420.0,356.5 L419.0,356.5 L418.0,356.5 L417.0,356.5 L416.0,356.5 L415.0,356.5 L414.0,356.5 L413.0,356.5 L412.0,356.5 L411.0,356.5 L410.0,356.5 L409.0,356.5 L408.0,356.5 L407.0,356.5 L406.0,356.5 L405.0,356.5 L404.0,356.5 L403.0,356.5 L402.0,356.5 L401.0,356.5 L400.0,356.5 L399.0,356.5 L398.0,356.5 L397.0,356.5 L396.0,356.5 L395.0,356.5 L394.0,356.5 L393.0,356.5 L392.0,356.5 L391.0,356.5 L390.0,356.5 L389.0,356.5 L388.0,356.5 L387.0,356.5 L386.0,356.5 L385.0,356.5 L384.0,356.5 L383.0,356.5 L382.0,356.5 L381.0,356.5 L380.0,356.5 L379.0,356.5 L378.0,356.5 L377.0,356.5 L376.0,356.5 L375.0,356.6 L374.0,356.6 L373.0,356.6 L372.0,356.6 L371.0,356.6 L370.0,356.6 L369.0,356.6 L368.0,356.6 L367.0,356.6 L366.0,356.6 L365.0,356.6 L364.0,356.6 L363.0,356.6 L362.0,356.6 L361.0,356.6 L360.0,356.6 L359.0,356.6 L358.0,356.6 L357.0,356.6 L356.0,356.6 L355.0,356.6 L354.0,356.6 L353.0,356.7 L352.0,356.7 L351.0,356.7 L350.0,356.7 L349.0,356.8 L348.0,356.8 L347.0,356.9 L346.0,356.9 L345.0,357.0 L344.0,357.1 L343.0,357.2 L342.0,357.3 L341.0,357.5 L340.0,357.7 L339.0,357.9 L338.0,358.1 L337.0,358.4 L336.0,358.8 L335.0,359.1 L334.0,359.6 L333.0,360.1 L332.0,360.6 L331.0,361.3 L330.0,362.0 L329.0,362.8 L328.0,363.7 L327.0,364.6 L326.0,365.7 L325.0,366.9 L324.0,368.1 L323.0,369.5 L322.0,370.9 L321.0,372.4 L320.0,374.0 L319.0,375.7 L318.0,377.4 L317.0,379.2 L316.0,381.1 L315.0,382.9 L314.0,384.8 L313.0,386.7 L312.0,388.5 L311.0,390.3 L310.0,392.0 L309.0,393.7 L308.0,395.2 L307.0,396.6 L306.0,397.9 L305.0,399.0 L304.0,400.0 L303.0,400.7 L302.0,401.3 L301.0,401.7 L300.0,402.0 L299.0,402.1 L298.0,402.1 L297.0,402.0 L296.0,401.8 L295.0,401.5 L294.0,401.0 L293.0,400.4 L292.0,399.6 L291.0,398.7 L290.0,397.7 L289.0,396.6 L288.0,395.3 L287.0,393.9 L286.0,392.3 L285.0,390.6 L284.0,388.7 L283.0,386.7 L282.0,384.5 L281.0,382.2 L280.0,379.7 L279.0,377.1 L278.0,374.4 L277.0,371.5 L276.0,368.6 L275.0,365.7 L274.0,362.7 L273.0,359.7 L272.0,356.7 L271.0,353.8 L270.0,351.0 L269.0,348.4 L268.0,346.0 L267.0,343.8 L266.0,341.8 L265.0,340.2 L264.0,338.9 L263.0,337.9 L262.0,337.3 L261.0,337.0 L260.0,336.8 L259.0,336.8 L258.0,337.0 L257.0,337.3 L256.0,337.7 L255.0,338.4 L254.0,339.1 L253.0,340.0 L252.0,340.9 L251.0,342.0 L250.0,343.1 L249.0,344.3 L248.0,345.6 L247.0,346.9 L246.0,348.2 L245.0,349.6 L244.0,350.9 L243.0,352.2 L242.0,353.6 L241.0,354.9 L240.0,356.1 L239.0,357.4 L238.0,358.5 L237.0,359.7 L236.0,360.7 L235.0,361.7 L234.0,362.7 L233.0,363.6 L232.0,364.4 L231.0,365.2 L230.0,365.9 L229.0,366.6 L228.0,367.2 L227.0,367.7 L226.0,368.2 L225.0,368.6 L224.0,369.0 L223.0,369.4 L222.0,369.7 L221.0,370.0 L220.0,370.2 L219.0,370.5 L218.0,370.7 L217.0,370.8 L216.0,371.0 L215.0,371.1 L214.0,371.2 L213.0,371.3 L212.0,371.4 L211.0,371.4 L210.0,371.5 L209.0,371.5 L208.0,371.6 L207.0,371.6 L206.0,371.6 L205.0,371.7 L204.0,371.7 L203.0,371.7 L202.0,371.7 L201.0,371.7 L200.0,371.7 L199.0,371.7 L198.0,371.7 L197.0,371.7 L196.0,371.7 L195.0,371.7 L194.0,371.7 L193.0,371.7 L192.0,371.7 L191.0,371.7 L190.0,371.7 L189.0,371.7 L188.0,371.7 L187.0,371.7 L186.0,371.7 L185.0,371.7 L184.0,371.7 L183.0,371.7 L182.0,371.7 L181.0,371.7 L180.0,371.7 L179.0,371.7 L178.0,371.7 L177.0,371.7 L176.0,371.6 L175.0,371.6 L174.0,371.5 L173.0,371.5 L172.0,371.4 L171.0,371.3 L170.0,371.1 L169.0,371.0 L168.0,370.8 L167.0,370.6 L166.0,370.4 L165.0,370.1 L164.0,369.8 L163.0,369.5 L162.0,369.1 L161.0,368.7 L160.0,368.3 L159.0,367.9 L158.0,367.4 L157.0,367.0 L156.0,366.6 L155.0,366.2 L154.0,365.8 L153.0,365.4 L152.0,365.1 L151.0,364.9 L150.0,364.7 L149.0,364.6 L148.0,364.6 L147.0,364.6 L146.0,364.9 L145.0,365.2 L144.0,365.7 L143.0,366.3 L142.0,367.1 L141.0,367.9 L140.0,368.9 L139.0,370.0 L138.0,371.2 L137.0,372.5 L136.0,373.9 L135.0,375.4 L134.0,377.0 L133.0,378.7 L132.0,380.5 L131.0,382.4 L130.0,384.3 L129.0,386.3 L128.0,388.4 L127.0,390.5 L126.0,392.8 L125.0,395.0 L124.0,397.4 L123.0,399.7 L122.0,402.2 L121.0,404.6 L120.0,407.2 L119.0,409.7 L118.0,412.3 L117.0,414.9 L116.0,417.5 L115.0,420.2 L114.0,422.8 L113.0,425.5 L112.0,428.2 L111.0,430.9 C110.7,435.9 106.8,435.9 106.5,430.9 Z" stroke="#1d821d"/>
<path d="M106.5,423.1 L107.5,419.2 L108.5,415.2 L109.5,411.3 L110.5,407.3 L111.5,403.4 L112.5,399.6 L113.5,395.7 L114.5,392.0 L115.5,388.2 L116.5,384.6 L117.5,381.0 L118.5,377.4 L119.5,374.0 L120.5,370.6 L121.5,367.3 L122.5,364.1 L123.5,361.0 L124.5,358.0 L125.5,355.2 L126.5,352.4 L127.5,349.8 L128.5,347.3 L129.5,345.0 L130.5,342.8 L131.5,340.7 L132.5,338.8 L133.5,337.1 L134.5,335.6 L135.5,334.2 L136.5,333.0 L137.5,332.1 L138.5,331.3 L139.5,330.7 L140.5,330.3 L141.5,330.2 L142.5,330.2 L143.5,330.4 L144.5,330.8 L145.5,331.4 L146.5,332.1 L147.5,333.0 L148.5,334.0 L149.5,335.1 L150.5,336.2 L151.5,337.5 L152.5,338.8 L153.5,340.2 L154.5,341.5 L155.5,342.9 L156.5,344.2 L157.5,345.6 L158.5,346.8 L159.5,348.0 L160.5,349.2 L161.5,350.3 L162.5,351.3 L163.5,352.2 L164.5,353.1 L165.5,353.8 L166.5,354.5 L167.5,355.2 L168.5,355.7 L169.5,356.2 L170.5,356.6 L171.5,357.0 L172.5,357.3 L173.5,357.6 L174.5,357.8 L175.5,358.0 L176.5,358.2 L177.5,358.3 L178.5,358.4 L179.5,358.5 L180.5,358.6 L181.5,358.6 L182.5,358.7 L183.5,358.7 L184.5,358.7 L185.5,358.8 L186.5,358.8 L187.5,358.8 L188.5,358.8 L189.5,358.8 L190.5,358.8 L191.5,358.8 L192.5,358.8 L193.5,358.8 L194.5,358.8 L195.5,358.8 L196.5,358.8 L197.5,358.8 L198.5,358.8 L199.5,358.8 L200.5,358.8 L201.5,358.8 L202.5,358.8 L203.5,358.8 L204.5,358.8 L205.5,358.8 L206.5,358.8 L207.5,358.8 L208.5,358.8 L209.5,358.8 L210.5,358.8 L211.5,358.8 L212.5,358.8 L213.5,358.8 L214.5,358.8 L215.5,358.8 L216.5,358.8 L217.5,358.8 L218.5,358.8 L219.5,358.8 L220.5,358.8 L221.5,358.8 L222.5,358.8 L223.5,358.8 L224.5,358.8 L225.5,358.8 L226.5,358.8 L227.5,358.7 L228.5,358.7 L229.5,358.7 L230.5,358.7 L231.5,358.7 L232.5,358.6 L233.5,358.6 L234.5,358.6 L235.5,358.5 L236.5,358.5 L237.5,358.5 L238.5,358.4 L239.5,358.3 L240.5,358.3 L241.5,358.2 L242.5,358.1 L243.5,358.0 L244.5,357.9 L245.5,357.7 L246.5,357.6 L247.5,357.4 L248.5,357.3 L249.5,357.1 L250.5,356.8 L251.5,356.6 L252.5,356.3 L253.5,356.0 L254.5,355.7 L255.5,355.3 L256.5,355.0 L257.5,354.5 L258.5,354.0 L259.5,353.5 L260.5,352.9 L261.5,352.3 L262.5,351.7 L263.5,350.9 L264.5,350.1 L265.5,349.3 L266.5,348.4 L267.5,347.4 L268.5,346.3 L269.5,345.1 L270.5,343.9 L271.5,342.6 L272.5,341.2 L273.5,339.7 L274.5,338.1 L275.5,336.4 L276.5,334.6 L277.5,332.8 L278.5,330.8 L279.5,328.7 L280.5,326.5 L281.5,324.2 L282.5,321.8 L283.5,319.2 L284.5,316.6 L285.5,313.9 L286.5,311.0 L287.5,308.1 L288.5,305.1 L289.5,302.0 L290.5,298.7 L291.5,295.5 L292.5,292.1 L293.5,288.6 L294.5,285.1 L295.5,281.6 L296.5,277.9 L297.5,274.3 L298.5,270.6 L299.5,266.9 L300.5,263.2 L301.5,259.5 L302.5,255.8 L303.5,252.1 L304.5,248.5 L305.5,244.9 L306.5,241.3 L307.5,237.9 L308.5,234.5 L309.5,231.2 L310.5,228.0 L311.5,225.0 L312.5,222.1 L313.5,219.3 L314.5,216.6 L315.5,214.1 L316.5,211.8 L317.5,209.7 L318.5,207.7 L319.5,206.0 L320.5,204.4 L321.5,203.0 L322.5,201.9 L323.5,200.9 L324.5,200.2 L325.5,199.7 L326.5,199.4 L327.5,199.4 L328.5,199.7 L329.5,200.2 L330.5,201.0 L331.5,202.1 L332.5,203.4 L333.5,204.9 L334.5,206.7 L335.5,208.7 L336.5,210.9 L337.5,213.3 L338.5,215.9 L339.5,218.7 L340.5,221.6 L341.5,224.7 L342.5,227.9 L343.5,231.2 L344.5,234.6 L345.5,238.1 L346.5,241.7 L347.5,245.3 L348.5,248.9 L349.5,252.5 L350.5,256.2 L351.5,259.8 L352.5,263.4 L353.5,267.0 L354.5,270.5 L355.5,273.9 L356.5,277.3 L357.5,280.6 L358.5,283.8 L359.5,286.9 L360.5,289.9 L361.5,292.8 L362.5,295.6 L363.5,298.3 L364.5,300.8 L365.5,303.3 L366.5,305.7 L367.5,308.0 L368.5,310.3 L369.5,312.6 L370.5,315.0 L371.5,317.7 L372.5,320.7 L373.5,324.0 L374.5,327.4 L375.5,330.2 L376.5,332.2 L377.5,333.4 L378.5,318.5 L379.5,320.1 L380.5,321.4 L381.5,322.5 L382.5,323.5 L383.5,324.3 L384.5,325.1 L385.5,325.9 L386.5,326.5 L387.5,327.1 L388.5,327.7 L389.5,328.2 L390.5,328.7 L391.5,329.1 L392.5,329.5 L393.5,329.9 L394.5,330.2 L395.5,330.5 L396.5,330.8 L397.5,331.0 L398.5,331.2 L399.5,331.4 L400.5,331.6 L401.5,331.8 L402.5,331.9 L403.5,332.1 L404.5,332.2 L405.5,332.3 L406.5,332.4 L407.5,332.5 L408.5,332.6 L409.5,332.7 L410.5,332.8 L411.5,332.8 L412.5,332.9 L413.5,332.9 L414.5,333.0 L415.5,333.0 L416.5,333.1 L417.5,333.1 L418.5,333.1 L419.5,333.2 L420.5,333.2 L421.5,333.2 L422.5,333.2 L423.5,333.2 L424.5,333.3 L425.5,333.3 L426.5,333.3 L427.5,333.3 L428.5,333.3 L429.5,333.4 L430.5,333.4 L431.5,333.4 L432.5,333.4 L433.5,333.4 L434.5,333.5 L435.5,333.5 L436.5,333.5 L437.5,333.5 L438.5,333.5 L439.5,333.6 L440.5,333.6 L441.5,333.6 L442.5,333.6 L443.5,333.7 L444.5,333.7 L445.5,333.7 L446.5,333.7 L447.5,333.8 L448.5,333.8 L449.5,333.8 L450.5,333.9 L451.5,333.9 L452.5,333.9 L453.5,334.0 L454.5,334.0 L455.5,334.1 L456.5,334.1 L457.5,334.1 L458.5,334.2 L459.5,334.2 L460.5,334.3 L461.5,334.3 L462.5,334.4 L463.5,334.4 L464.5,334.5 L465.5,334.5 L466.5,334.6 L467.5,334.6 L468.5,334.7 L469.5,334.7 L470.5,334.8 L471.5,334.8 L472.5,334.9 L473.5,334.9 L474.5,335.0 L475.5,335.0 L476.5,335.1 L477.5,335.2 L478.5,335.2 L479.5,335.3 L480.5,335.3 L481.5,335.4 L482.5,335.4 L483.5,335.5 L484.5,335.6 L485.5,335.6 L486.5,335.7 L487.5,335.7 L488.5,335.8 L489.5,335.9 L490.5,335.9 L491.5,336.0 L492.5,336.0 L493.5,336.1 L494.5,336.2 L495.5,336.2 L496.5,336.3 L497.5,336.3 L498.5,336.4 L499.5,336.4 L500.5,336.5 L501.5,336.6 L502.5,336.6 L503.5,336.7 L504.5,336.7 L505.5,336.8 L506.5,336.8 L507.5,336.9 L508.5,336.9 L509.5,337.0 L510.5,337.0 L511.5,337.1 L512.5,337.1 L513.5,337.2 L514.5,337.2 L515.5,337.3 L516.5,337.3 L517.5,337.4 L518.5,337.4 L519.5,337.5 L520.5,337.5 L521.5,337.6 L522.5,337.6 L523.5,337.7 L524.5,337.7 L525.5,337.8 L526.5,337.8 L527.5,337.8 L528.5,337.9 L529.5,337.9 L530.5,338.0 L531.5,338.0 L532.5,338.0 L533.5,338.1 L534.5,338.1 L535.5,338.1 L536.5,338.2 L537.5,338.2 L538.5,338.3 L539.5,338.3 L540.5,338.3 L541.5,338.3 L542.5,338.4 L543.5,338.4 L544.5,338.4 L545.5,338.5 L546.5,338.5 L547.5,338.5 L548.5,338.5 L549.5,338.5 L550.5,338.6 L551.5,338.6 L552.5,338.6 L553.5,338.6 L554.5,338.6 L555.5,338.6 L556.5,338.6 L557.5,338.6 L558.5,338.6 L559.5,338.6 L560.5,338.5 L561.5,338.5 L562.5,338.5 L563.5,338.4 L564.5,338.4 L565.5,338.3 L566.5,338.2 L567.5,338.2 L568.5,338.1 L569.5,337.9 L570.5,337.8 L571.5,337.7 L572.5,337.5 L573.5,337.3 L574.5,337.1 L575.5,336.9 L576.5,336.6 L577.5,336.3 L578.5,335.9 L579.5,335.6 L580.5,335.1 L581.5,334.7 L582.5,334.1 L583.5,333.6 L584.5,332.9 L585.5,332.2 L586.5,331.4 L587.5,330.6 L588.5,329.6 L589.5,328.6 L590.5,327.4 L591.5,326.2 L592.5,324.9 L593.5,323.4 L594.5,321.8 L595.5,320.1 L596.5,318.3 L597.5,316.3 L598.5,314.2 L599.5,312.0 L600.5,309.6 L601.5,307.0 L602.5,304.4 L603.5,301.5 L604.5,298.6 L605.5,295.5 L606.5,292.2 L607.5,288.9 L608.5,285.4 L609.5,281.8 L610.5,278.0 L611.5,274.2 L612.5,270.2 L613.5,266.2 L614.5,262.0 L615.5,257.8 L616.5,253.5 L617.5,249.1 L618.5,244.6 L619.5,240.1 L620.5,235.5 L621.5,230.9 L622.5,226.2 L623.5,221.5 L624.5,216.7 L625.5,211.9 L626.5,207.1 L627.5,202.2 L628.5,197.3 L629.5,192.4 L630.5,187.4 L631.5,182.5 L632.5,177.5 L633.5,172.5 L634.5,167.4 L635.5,162.4 L636.0,159.9 C637.8,137.4 645.2,138.1 647.0,160.6 L647.0,160.6 L646.0,165.4 L645.0,170.3 L644.0,175.1 L643.0,180.0 L642.0,184.8 L641.0,189.7 L640.0,194.5 L639.0,199.3 L638.0,204.1 L637.0,209.0 L636.0,213.8 L635.0,218.5 L634.0,223.3 L633.0,228.1 L632.0,232.8 L631.0,237.5 L630.0,242.2 L629.0,246.9 L628.0,251.6 L627.0,256.2 L626.0,260.7 L625.0,265.2 L624.0,269.7 L623.0,274.1 L622.0,278.5 L621.0,282.8 L620.0,287.0 L619.0,291.1 L618.0,295.1 L617.0,299.0 L616.0,302.8 L615.0,306.5 L614.0,310.1 L613.0,313.5 L612.0,316.7 L611.0,319.8 L610.0,322.7 L609.0,325.5 L608.0,328.1 L607.0,330.5 L606.0,332.7 L605.0,334.8 L604.0,336.7 L603.0,338.4 L602.0,340.0 L601.0,341.4 L600.0,342.7 L599.0,343.8 L598.0,344.9 L597.0,345.8 L596.0,346.6 L595.0,347.4 L594.0,348.0 L593.0,348.6 L592.0,349.1 L591.0,349.5 L590.0,349.9 L589.0,350.2 L588.0,350.5 L587.0,350.8 L586.0,351.0 L585.0,351.2 L584.0,351.4 L583.0,351.5 L582.0,351.7 L581.0,351.8 L580.0,351.9 L579.0,352.0 L578.0,352.0 L577.0,352.1 L576.0,352.2 L575.0,352.2 L574.0,352.2 L573.0,352.3 L572.0,352.3 L571.0,352.3 L570.0,352.4 L569.0,352.4 L568.0,352.4 L567.0,352.4 L566.0,352.4 L565.0,352.4 L564.0,352.5 L563.0,352.5 L562.0,352.5 L561.0,352.5 L560.0,352.5 L559.0,352.5 L558.0,352.5 L557.0,352.5 L556.0,352.5 L555.0,352.5 L554.0,352.5 L553.0,352.5 L552.0,352.5 L551.0,352.5 L550.0,352.5 L549.0,352.5 L548.0,352.5 L547.0,352.5 L546.0,352.5 L545.0,352.5 L544.0,352.5 L543.0,352.5 L542.0,352.5 L541.0,352.5 L540.0,352.5 L539.0,352.5 L538.0,352.5 L537.0,352.5 L536.0,352.5 L535.0,352.5 L534.0,352.5 L533.0,352.5 L532.0,352.5 L531.0,352.5 L530.0,352.5 L529.0,352.5 L528.0,352.5 L527.0,352.5 L526.0,352.5 L525.0,352.5 L524.0,352.5 L523.0,352.5 L522.0,352.5 L521.0,352.5 L520.0,352.5 L519.0,352.5 L518.0,352.5 L517.0,352.5 L516.0,352.5 L515.0,352.5 L514.0,352.5 L513.0,352.5 L512.0,352.5 L511.0,352.5 L510.0,352.5 L509.0,352.5 L508.0,352.5 L507.0,352.5 L506.0,352.5 L505.0,352.5 L504.0,352.5 L503.0,352.5 L502.0,352.5 L501.0,352.5 L500.0,352.5 L499.0,352.5 L498.0,352.5 L497.0,352.5 L496.0,352.5 L495.0,352.5 L494.0,352.5 L493.0,352.5 L492.0,352.5 L491.0,352.5 L490.0,352.5 L489.0,352.5 L488.0,352.5 L487.0,352.5 L486.0,352.5 L485.0,352.5 L484.0,352.5 L483.0,352.5 L482.0,352.5 L481.0,352.5 L480.0,352.5 L479.0,352.5 L478.0,352.5 L477.0,352.5 L476.0,352.5 L475.0,352.5 L474.0,352.5 L473.0,352.5 L472.0,352.5 L471.0,352.5 L470.0,352.5 L469.0,352.5 L468.0,352.5 L467.0,352.5 L466.0,352.5 L465.0,352.5 L464.0,352.5 L463.0,352.5 L462.0,352.5 L461.0,352.5 L460.0,352.5 L459.0,352.5 L458.0,352.5 L457.0,352.5 L456.0,352.5 L455.0,352.5 L454.0,352.5 L453.0,352.5 L452.0,352.5 L451.0,352.5 L450.0,352.5 L449.0,352.5 L448.0,352.5 L447.0,352.5 L446.0,352.5 L445.0,352.5 L444.0,352.5 L443.0,352.5 L442.0,352.5 L441.0,352.5 L440.0,352.5 L439.0,352.5 L438.0,352.5 L437.0,352.5 L436.0,352.5 L435.0,352.5 L434.0,352.5 L433.0,352.5 L432.0,352.5 L431.0,352.5 L430.0,352.5 L429.0,352.5 L428.0,352.5 L427.0,352.5 L426.0,352.5 L425.0,352.5 L424.0,352.5 L423.0,352.5 L422.0,352.5 L421.0,352.5 L420.0,352.5 L419.0,352.5 L418.0,352.5 L417.0,352.5 L416.0,352.5 L415.0,352.5 L414.0,352.5 L413.0,352.5 L412.0,352.5 L411.0,352.5 L410.0,352.5 L409.0,352.5 L408.0,352.5 L407.0,352.5 L406.0,352.5 L405.0,352.5 L404.0,352.5 L403.0,352.5 L402.0,352.5 L401.0,352.5 L400.0,352.5 L399.0,352.5 L398.0,352.5 L397.0,352.5 L396.0,352.5 L395.0,352.5 L394.0,352.5 L393.0,352.5 L392.0,352.5 L391.0,352.5 L390.0,352.5 L389.0,352.5 L388.0,352.5 L387.0,352.5 L386.0,352.5 L385.0,352.5 L384.0,352.5 L383.0,352.5 L382.0,352.5 L381.0,352.5 L380.0,352.5 L379.0,352.5 L378.0,352.5 L377.0,352.5 L376.0,352.5 L375.0,352.5 L374.0,352.5 L373.0,352.5 L372.0,352.5 L371.0,352.5 L370.0,352.5 L369.0,352.5 L368.0,352.6 L367.0,352.6 L366.0,352.6 L365.0,352.6 L364.0,352.6 L363.0,352.6 L362.0,352.6 L361.0,352.6 L360.0,352.6 L359.0,352.6 L358.0,352.6 L357.0,352.6 L356.0,352.7 L355.0,352.7 L354.0,352.7 L353.0,352.8 L352.0,352.8 L351.0,352.9 L350.0,352.9 L349.0,353.0 L348.0,353.1 L347.0,353.2 L346.0,353.4 L345.0,353.5 L344.0,353.7 L343.0,354.0 L342.0,354.2 L341.0,354.5 L340.0,354.9 L339.0,355.3 L338.0,355.8 L337.0,356.3 L336.0,356.9 L335.0,357.6 L334.0,358.3 L333.0,359.2 L332.0,360.1 L331.0,361.2 L330.0,362.3 L329.0,363.6 L328.0,364.9 L327.0,366.3 L326.0,367.9 L325.0,369.5 L324.0,371.2 L323.0,373.0 L322.0,374.9 L321.0,376.8 L320.0,378.8 L319.0,380.8 L318.0,382.8 L317.0,384.8 L316.0,386.7 L315.0,388.6 L314.0,390.4 L313.0,392.2 L312.0,393.8 L311.0,395.3 L310.0,396.6 L309.0,397.8 L308.0,398.8 L307.0,399.5 L306.0,400.1 L305.0,400.5 L304.0,400.7 L303.0,400.7 L302.0,400.7 L301.0,400.5 L300.0,400.1 L299.0,399.6 L298.0,398.9 L297.0,398.1 L296.0,397.0 L295.0,395.8 L294.0,394.5 L293.0,392.9 L292.0,391.1 L291.0,389.2 L290.0,387.0 L289.0,384.6 L288.0,382.0 L287.0,379.3 L286.0,376.3 L285.0,373.1 L284.0,369.8 L283.0,366.3 L282.0,362.7 L281.0,358.9 L280.0,355.2 L279.0,351.4 L278.0,347.6 L277.0,344.0 L276.0,340.5 L275.0,337.1 L274.0,334.0 L273.0,331.2 L272.0,328.8 L271.0,326.7 L270.0,325.0 L269.0,323.8 L268.0,323.0 L267.0,322.5 L266.0,322.3 L265.0,322.3 L264.0,322.5 L263.0,322.9 L262.0,323.5 L261.0,324.3 L260.0,325.3 L259.0,326.4 L258.0,327.6 L257.0,329.0 L256.0,330.4 L255.0,332.0 L254.0,333.6 L253.0,335.3 L252.0,337.0 L251.0,338.7 L250.0,340.5 L249.0,342.2 L248.0,343.9 L247.0,345.6 L246.0,347.2 L245.0,348.8 L244.0,350.3 L243.0,351.8 L242.0,353.2 L241.0,354.5 L240.0,355.7 L239.0,356.9 L238.0,358.0 L237.0,359.0 L236.0,359.9 L235.0,360.7 L234.0,361.5 L233.0,362.2 L232.0,362.9 L231.0,363.4 L230.0,363.9 L229.0,364.4 L228.0,364.8 L227.0,365.2 L226.0,365.5 L225.0,365.8 L224.0,366.0 L223.0,366.2 L222.0,366.4 L221.0,366.6 L220.0,366.7 L219.0,366.8 L218.0,366.9 L217.0,367.0 L216.0,367.1 L215.0,367.2 L214.0,367.2 L213.0,367.3 L212.0,367.3 L211.0,367.3 L210.0,367.3 L209.0,367.4 L208.0,367.4 L207.0,367.4 L206.0,367.4 L205.0,367.4 L204.0,367.4 L203.0,367.4 L202.0,367.4 L201.0,367.4 L200.0,367.4 L199.0,367.4 L198.0,367.4 L197.0,367.4 L196.0,367.4 L195.0,367.4 L194.0,367.4 L193.0,367.4 L192.0,367.4 L191.0,367.4 L190.0,367.4 L189.0,367.4 L188.0,367.4 L187.0,367.4 L186.0,367.4 L185.0,367.4 L184.0,367.4 L183.0,367.4 L182.0,367.4 L181.0,367.4 L180.0,367.4 L179.0,367.4 L178.0,367.4 L177.0,367.4 L176.0,367.3 L175.0,367.3 L174.0,367.2 L173.0,367.2 L172.0,367.1 L171.0,367.0 L170.0,366.9 L169.0,366.8 L168.0,366.6 L167.0,366.4 L166.0,366.2 L165.0,365.9 L164.0,365.7 L163.0,365.3 L162.0,365.0 L161.0,364.6 L160.0,364.2 L159.0,363.8 L158.0,363.4 L157.0,362.9 L156.0,362.5 L155.0,362.1 L154.0,361.7 L153.0,361.3 L152.0,361.0 L151.0,360.7 L150.0,360.5 L149.0,360.4 L148.0,360.3 L147.0,360.3 L146.0,360.4 L145.0,360.7 L144.0,361.1 L143.0,361.6 L142.0,362.3 L141.0,363.1 L140.0,364.0 L139.0,365.0 L138.0,366.1 L137.0,367.3 L136.0,368.6 L135.0,370.1 L134.0,371.6 L133.0,373.2 L132.0,374.9 L131.0,376.6 L130.0,378.5 L129.0,380.4 L128.0,382.4 L127.0,384.4 L126.0,386.6 L125.0,388.7 L124.0,391.0 L123.0,393.2 L122.0,395.6 L121.0,397.9 L120.0,400.3 L119.0,402.8 L118.0,405.3 L117.0,407.8 L116.0,410.3 L115.0,412.8 L114.0,415.4 L113.0,418.0 L112.0,420.5 L111.0,423.1 C110.7,428.1 106.8,428.1 106.5,423.1 Z" stroke="#e5792a"/>
<path d="M107.0,439.8 L108.0,435.0 L109.0,430.2 L110.0,425.5 L111.0,420.8 L112.0,416.1 L113.0,411.5 L114.0,406.9 L115.0,402.3 L116.0,397.9 L117.0,393.5 L118.0,389.1 L119.0,384.9 L120.0,380.7 L121.0,376.7 L122.0,372.7 L123.0,368.9 L124.0,365.2 L125.0,361.6 L126.0,358.2 L127.0,354.9 L128.0,351.8 L129.0,348.8 L130.0,346.1 L131.0,343.4 L132.0,341.0 L133.0,338.8 L134.0,336.8 L135.0,334.9 L136.0,333.3 L137.0,331.9 L138.0,330.8 L139.0,329.9 L140.0,329.2 L141.0,328.8 L142.0,328.7 L143.0,328.8 L144.0,329.1 L145.0,329.5 L146.0,330.1 L147.0,330.8 L148.0,331.7 L149.0,332.7 L150.0,333.9 L151.0,335.1 L152.0,336.3 L153.0,337.7 L154.0,339.0 L155.0,340.4 L156.0,341.7 L157.0,343.1 L158.0,344.4 L159.0,345.6 L160.0,346.8 L161.0,348.0 L162.0,349.1 L163.0,350.0 L164.0,351.0 L165.0,351.8 L166.0,352.6 L167.0,353.2 L168.0,353.8 L169.0,354.4 L170.0,354.9 L171.0,355.3 L172.0,355.6 L173.0,355.9 L174.0,356.2 L175.0,356.4 L176.0,356.6 L177.0,356.7 L178.0,356.9 L179.0,357.0 L180.0,357.1 L181.0,357.1 L182.0,357.2 L183.0,357.2 L184.0,357.3 L185.0,357.3 L186.0,357.3 L187.0,357.3 L188.0,357.4 L189.0,357.4 L190.0,357.4 L191.0,357.4 L192.0,357.4 L193.0,357.4 L194.0,357.4 L195.0,357.4 L196.0,357.4 L197.0,357.4 L198.0,357.4 L199.0,357.4 L200.0,357.4 L201.0,357.4 L202.0,357.4 L203.0,357.4 L204.0,357.4 L205.0,357.4 L206.0,357.4 L207.0,357.4 L208.0,357.4 L209.0,357.4 L210.0,357.4 L211.0,357.4 L212.0,357.4 L213.0,357.4 L214.0,357.4 L215.0,357.4 L216.0,357.4 L217.0,357.4 L218.0,357.4 L219.0,357.4 L220.0,357.4 L221.0,357.4 L222.0,357.4 L223.0,357.4 L224.0,357.4 L225.0,357.3 L226.0,357.3 L227.0,357.3 L228.0,357.3 L229.0,357.3 L230.0,357.3 L231.0,357.3 L232.0,357.2 L233.0,357.2 L234.0,357.2 L235.0,357.1 L236.0,357.1 L237.0,357.1 L238.0,357.0 L239.0,356.9 L240.0,356.9 L241.0,356.8 L242.0,356.7 L243.0,356.6 L244.0,356.5 L245.0,356.4 L246.0,356.2 L247.0,356.1 L248.0,355.9 L249.0,355.7 L250.0,355.5 L251.0,355.3 L252.0,355.0 L253.0,354.7 L254.0,354.3 L255.0,354.0 L256.0,353.6 L257.0,353.1 L258.0,352.6 L259.0,352.1 L260.0,351.5 L261.0,350.9 L262.0,350.2 L263.0,349.4 L264.0,348.5 L265.0,347.6 L266.0,346.6 L267.0,345.6 L268.0,344.4 L269.0,343.2 L270.0,341.8 L271.0,340.4 L272.0,338.8 L273.0,337.2 L274.0,335.4 L275.0,333.5 L276.0,331.5 L277.0,329.4 L278.0,327.1 L279.0,324.7 L280.0,322.2 L281.0,319.5 L282.0,316.7 L283.0,313.7 L284.0,310.6 L285.0,307.4 L286.0,304.0 L287.0,300.5 L288.0,296.9 L289.0,293.1 L290.0,289.2 L291.0,285.2 L292.0,281.0 L293.0,276.7 L294.0,272.3 L295.0,267.9 L296.0,263.3 L297.0,258.7 L298.0,253.9 L299.0,249.2 L300.0,244.3 L301.0,239.5 L302.0,234.6 L303.0,229.7 L304.0,224.9 L305.0,220.0 L306.0,215.2 L307.0,210.5 L308.0,205.8 L309.0,201.2 L310.0,196.7 L311.0,192.3 L312.0,188.1 L313.0,184.0 L314.0,180.1 L315.0,176.4 L316.0,172.8 L317.0,169.5 L318.0,166.4 L319.0,163.5 L320.0,160.9 L321.0,158.5 L322.0,156.4 L323.0,154.6 L324.0,153.0 L325.0,151.7 L326.0,150.8 L327.0,150.1 L328.0,149.7 L329.0,149.7 L330.0,150.0 L331.0,150.7 L332.0,151.7 L333.0,153.1 L334.0,154.8 L335.0,156.9 L336.0,159.3 L337.0,161.9 L338.0,164.9 L339.0,168.1 L340.0,171.6 L341.0,175.4 L342.0,179.3 L343.0,183.4 L344.0,187.8 L345.0,192.2 L346.0,196.8 L347.0,201.5 L348.0,206.3 L349.0,211.2 L350.0,216.1 L351.0,221.1 L352.0,226.0 L353.0,231.0 L354.0,235.9 L355.0,240.7 L356.0,245.5 L357.0,250.2 L358.0,254.9 L359.0,259.4 L360.0,263.8 L361.0,268.0 L362.0,272.2 L363.0,276.2 L364.0,280.0 L365.0,283.7 L366.0,287.3 L367.0,290.8 L368.0,294.3 L369.0,297.7 L370.0,301.4 L371.0,305.3 L372.0,309.7 L373.0,314.8 L374.0,320.2 L375.0,325.2 L376.0,329.2 L377.0,331.7 L378.0,307.6 L379.0,310.0 L380.0,311.9 L381.0,313.5 L382.0,314.8 L383.0,316.0 L384.0,317.1 L385.0,318.1 L386.0,319.0 L387.0,319.9 L388.0,320.6 L389.0,321.3 L390.0,322.0 L391.0,322.5 L392.0,323.1 L393.0,323.6 L394.0,324.0 L395.0,324.4 L396.0,324.8 L397.0,325.1 L398.0,325.4 L399.0,325.7 L400.0,326.0 L401.0,326.2 L402.0,326.4 L403.0,326.6 L404.0,326.8 L405.0,327.0 L406.0,327.1 L407.0,327.3 L408.0,327.4 L409.0,327.5 L410.0,327.6 L411.0,327.7 L412.0,327.8 L413.0,327.9 L414.0,327.9 L415.0,328.0 L416.0,328.1 L417.0,328.1 L418.0,328.2 L419.0,328.2 L420.0,328.3 L421.0,328.3 L422.0,328.3 L423.0,328.4 L424.0,328.4 L425.0,328.4 L426.0,328.5 L427.0,328.5 L428.0,328.5 L429.0,328.5 L430.0,328.6 L431.0,328.6 L432.0,328.6 L433.0,328.6 L434.0,328.7 L435.0,328.7 L436.0,328.7 L437.0,328.7 L438.0,328.8 L439.0,328.8 L440.0,328.8 L441.0,328.8 L442.0,328.9 L443.0,328.9 L444.0,328.9 L445.0,329.0 L446.0,329.0 L447.0,329.0 L448.0,329.1 L449.0,329.1 L450.0,329.1 L451.0,329.2 L452.0,329.2 L453.0,329.3 L454.0,329.3 L455.0,329.4 L456.0,329.4 L457.0,329.4 L458.0,329.5 L459.0,329.5 L460.0,329.6 L461.0,329.6 L462.0,329.7 L463.0,329.7 L464.0,329.8 L465.0,329.8 L466.0,329.9 L467.0,330.0 L468.0,330.0 L469.0,330.1 L470.0,330.1 L471.0,330.2 L472.0,330.2 L473.0,330.3 L474.0,330.4 L475.0,330.4 L476.0,330.5 L477.0,330.5 L478.0,330.6 L479.0,330.7 L480.0,330.7 L481.0,330.8 L482.0,330.9 L483.0,330.9 L484.0,331.0 L485.0,331.0 L486.0,331.1 L487.0,331.2 L488.0,331.2 L489.0,331.3 L490.0,331.4 L491.0,331.4 L492.0,331.5 L493.0,331.6 L494.0,331.6 L495.0,331.7 L496.0,331.7 L497.0,331.8 L498.0,331.9 L499.0,331.9 L500.0,332.0 L501.0,332.1 L502.0,332.1 L503.0,332.2 L504.0,332.2 L505.0,332.3 L506.0,332.4 L507.0,332.4 L508.0,332.5 L509.0,332.5 L510.0,332.6 L511.0,332.7 L512.0,332.7 L513.0,332.8 L514.0,332.8 L515.0,332.9 L516.0,332.9 L517.0,333.0 L518.0,333.0 L519.0,333.1 L520.0,333.2 L521.0,333.2 L522.0,333.3 L523.0,333.3 L524.0,333.4 L525.0,333.4 L526.0,333.5 L527.0,333.5 L528.0,333.6 L529.0,333.6 L530.0,333.7 L531.0,333.7 L532.0,333.8 L533.0,333.8 L534.0,333.8 L535.0,333.9 L536.0,333.9 L537.0,334.0 L538.0,334.0 L539.0,334.1 L540.0,334.1 L541.0,334.2 L542.0,334.2 L543.0,334.2 L544.0,334.3 L545.0,334.3 L546.0,334.4 L547.0,334.4 L548.0,334.4 L549.0,334.5 L550.0,334.5 L551.0,334.5 L552.0,334.6 L553.0,334.6 L554.0,334.6 L555.0,334.7 L556.0,334.7 L557.0,334.7 L558.0,334.8 L559.0,334.8 L560.0,334.8 L561.0,334.8 L562.0,334.8 L563.0,334.9 L564.0,334.9 L565.0,334.9 L566.0,334.9 L567.0,334.9 L568.0,334.9 L569.0,334.9 L570.0,334.9 L571.0,334.9 L572.0,334.9 L573.0,334.8 L574.0,334.8 L575.0,334.8 L576.0,334.7 L577.0,334.7 L578.0,334.6 L579.0,334.6 L580.0,334.5 L581.0,334.4 L582.0,334.3 L583.0,334.1 L584.0,334.0 L585.0,333.8 L586.0,333.6 L587.0,333.4 L588.0,333.1 L589.0,332.9 L590.0,332.6 L591.0,332.2 L592.0,331.8 L593.0,331.4 L594.0,330.9 L595.0,330.4 L596.0,329.8 L597.0,329.1 L598.0,328.4 L599.0,327.6 L600.0,326.7 L601.0,325.7 L602.0,324.7 L603.0,323.5 L604.0,322.3 L605.0,320.9 L606.0,319.4 L607.0,317.8 L608.0,316.1 L609.0,314.2 L610.0,312.2 L611.0,310.1 L612.0,307.8 L613.0,305.4 L614.0,302.8 L615.0,300.1 L616.0,297.2 L617.0,294.2 L618.0,291.1 L619.0,287.8 L620.0,284.4 L621.0,280.9 L622.0,277.2 L623.0,273.5 L624.0,269.6 L625.0,265.6 L626.0,261.6 L627.0,257.4 L628.0,253.1 L629.0,248.8 L630.0,244.4 L631.0,239.9 L632.0,235.4 L633.0,230.8 L634.0,226.2 L635.0,221.5 L636.0,216.7 L637.0,212.0 L638.0,207.1 L639.0,202.3 L640.0,197.4 L641.0,192.5 C642.8,170.1 650.2,170.8 652.0,193.3 L652.0,193.3 L651.5,195.7 L650.5,200.5 L649.5,205.3 L648.5,210.1 L647.5,214.9 L646.5,219.7 L645.5,224.5 L644.5,229.2 L643.5,233.9 L642.5,238.6 L641.5,243.3 L640.5,248.0 L639.5,252.6 L638.5,257.2 L637.5,261.7 L636.5,266.2 L635.5,270.6 L634.5,275.0 L633.5,279.3 L632.5,283.5 L631.5,287.7 L630.5,291.7 L629.5,295.7 L628.5,299.5 L627.5,303.2 L626.5,306.8 L625.5,310.2 L624.5,313.5 L623.5,316.7 L622.5,319.6 L621.5,322.4 L620.5,325.1 L619.5,327.5 L618.5,329.8 L617.5,331.9 L616.5,333.8 L615.5,335.6 L614.5,337.2 L613.5,338.7 L612.5,340.0 L611.5,341.2 L610.5,342.3 L609.5,343.3 L608.5,344.1 L607.5,344.9 L606.5,345.5 L605.5,346.1 L604.5,346.6 L603.5,347.1 L602.5,347.5 L601.5,347.8 L600.5,348.2 L599.5,348.4 L598.5,348.7 L597.5,348.9 L596.5,349.0 L595.5,349.2 L594.5,349.3 L593.5,349.5 L592.5,349.6 L591.5,349.6 L590.5,349.7 L589.5,349.8 L588.5,349.8 L587.5,349.9 L586.5,349.9 L585.5,350.0 L584.5,350.0 L583.5,350.0 L582.5,350.1 L581.5,350.1 L580.5,350.1 L579.5,350.1 L578.5,350.1 L577.5,350.2 L576.5,350.2 L575.5,350.2 L574.5,350.2 L573.5,350.2 L572.5,350.2 L571.5,350.2 L570.5,350.2 L569.5,350.2 L568.5,350.2 L567.5,350.2 L566.5,350.2 L565.5,350.2 L564.5,350.2 L563.5,350.2 L562.5,350.2 L561.5,350.2 L560.5,350.2 L559.5,350.2 L558.5,350.2 L557.5,350.2 L556.5,350.2 L555.5,350.2 L554.5,350.2 L553.5,350.2 L552.5,350.2 L551.5,350.2 L550.5,350.2 L549.5,350.2 L548.5,350.2 L547.5,350.2 L546.5,350.2 L545.5,350.2 L544.5,350.2 L543.5,350.2 L542.5,350.2 L541.5,350.2 L540.5,350.2 L539.5,350.2 L538.5,350.2 L537.5,350.2 L536.5,350.2 L535.5,350.2 L534.5,350.2 L533.5,350.2 L532.5,350.2 L531.5,350.2 L530.5,350.2 L529.5,350.2 L528.5,350.2 L527.5,350.2 L526.5,350.2 L525.5,350.2 L524.5,350.2 L523.5,350.2 L522.5,350.2 L521.5,350.2 L520.5,350.2 L519.5,350.2 L518.5,350.2 L517.5,350.2 L516.5,350.2 L515.5,350.2 L514.5,350.2 L513.5,350.2 L512.5,350.2 L511.5,350.2 L510.5,350.2 L509.5,350.2 L508.5,350.2 L507.5,350.2 L506.5,350.2 L505.5,350.2 L504.5,350.2 L503.5,350.2 L502.5,350.2 L501.5,350.2 L500.5,350.2 L499.5,350.2 L498.5,350.2 L497.5,350.2 L496.5,350.2 L495.5,350.2 L494.5,350.2 L493.5,350.2 L492.5,350.2 L491.5,350.2 L490.5,350.2 L489.5,350.2 L488.5,350.2 L487.5,350.2 L486.5,350.2 L485.5,350.2 L484.5,350.2 L483.5,350.2 L482.5,350.2 L481.5,350.2 L480.5,350.2 L479.5,350.2 L478.5,350.2 L477.5,350.2 L476.5,350.2 L475.5,350.2 L474.5,350.2 L473.5,350.2 L472.5,350.2 L471.5,350.2 L470.5,350.2 L469.5,350.2 L468.5,350.2 L467.5,350.2 L466.5,350.2 L465.5,350.2 L464.5,350.2 L463.5,350.2 L462.5,350.2 L461.5,350.2 L460.5,350.2 L459.5,350.2 L458.5,350.2 L457.5,350.2 L456.5,350.2 L455.5,350.2 L454.5,350.2 L453.5,350.2 L452.5,350.2 L451.5,350.2 L450.5,350.2 L449.5,350.2 L448.5,350.2 L447.5,350.2 L446.5,350.2 L445.5,350.2 L444.5,350.2 L443.5,350.2 L442.5,350.2 L441.5,350.2 L440.5,350.2 L439.5,350.2 L438.5,350.2 L437.5,350.2 L436.5,350.2 L435.5,350.2 L434.5,350.2 L433.5,350.2 L432.5,350.2 L431.5,350.2 L430.5,350.2 L429.5,350.2 L428.5,350.2 L427.5,350.2 L426.5,350.2 L425.5,350.2 L424.5,350.2 L423.5,350.2 L422.5,350.2 L421.5,350.2 L420.5,350.2 L419.5,350.2 L418.5,350.2 L417.5,350.2 L416.5,350.2 L415.5,350.2 L414.5,350.2 L413.5,350.2 L412.5,350.2 L411.5,350.2 L410.5,350.2 L409.5,350.2 L408.5,350.2 L407.5,350.2 L406.5,350.2 L405.5,350.2 L404.5,350.2 L403.5,350.2 L402.5,350.2 L401.5,350.2 L400.5,350.2 L399.5,350.2 L398.5,350.2 L397.5,350.2 L396.5,350.2 L395.5,350.2 L394.5,350.2 L393.5,350.2 L392.5,350.2 L391.5,350.2 L390.5,350.2 L389.5,350.2 L388.5,350.2 L387.5,350.2 L386.5,350.2 L385.5,350.2 L384.5,350.2 L383.5,350.2 L382.5,350.2 L381.5,350.2 L380.5,350.2 L379.5,350.2 L378.5,350.2 L377.5,350.2 L376.5,350.2 L375.5,350.2 L374.5,350.2 L373.5,350.2 L372.5,350.2 L371.5,350.2 L370.5,350.2 L369.5,350.2 L368.5,350.2 L367.5,350.2 L366.5,350.3 L365.5,350.3 L364.5,350.3 L363.5,350.3 L362.5,350.3 L361.5,350.3 L360.5,350.3 L359.5,350.3 L358.5,350.3 L357.5,350.3 L356.5,350.3 L355.5,350.3 L354.5,350.4 L353.5,350.4 L352.5,350.4 L351.5,350.5 L350.5,350.5 L349.5,350.6 L348.5,350.6 L347.5,350.7 L346.5,350.8 L345.5,350.9 L344.5,351.1 L343.5,351.3 L342.5,351.4 L341.5,351.7 L340.5,351.9 L339.5,352.2 L338.5,352.6 L337.5,353.0 L336.5,353.4 L335.5,354.0 L334.5,354.5 L333.5,355.2 L332.5,355.9 L331.5,356.7 L330.5,357.6 L329.5,358.5 L328.5,359.6 L327.5,360.7 L326.5,361.9 L325.5,363.1 L324.5,364.5 L323.5,365.9 L322.5,367.3 L321.5,368.9 L320.5,370.4 L319.5,372.0 L318.5,373.6 L317.5,375.1 L316.5,376.7 L315.5,378.2 L314.5,379.7 L313.5,381.1 L312.5,382.4 L311.5,383.7 L310.5,384.8 L309.5,385.7 L308.5,386.5 L307.5,387.2 L306.5,387.7 L305.5,388.0 L304.5,388.2 L303.5,388.3 L302.5,388.3 L301.5,388.1 L300.5,387.9 L299.5,387.5 L298.5,387.0 L297.5,386.4 L296.5,385.6 L295.5,384.8 L294.5,383.7 L293.5,382.6 L292.5,381.3 L291.5,379.8 L290.5,378.1 L289.5,376.3 L288.5,374.3 L287.5,372.1 L286.5,369.7 L285.5,367.1 L284.5,364.3 L283.5,361.3 L282.5,358.1 L281.5,354.7 L280.5,351.3 L279.5,347.6 L278.5,343.9 L277.5,340.2 L276.5,336.5 L275.5,332.8 L274.5,329.2 L273.5,325.7 L272.5,322.5 L271.5,319.6 L270.5,316.9 L269.5,314.7 L268.5,312.8 L267.5,311.4 L266.5,310.4 L265.5,310.0 L264.5,309.8 L263.5,309.8 L262.5,310.0 L261.5,310.5 L260.5,311.1 L259.5,312.0 L258.5,313.0 L257.5,314.2 L256.5,315.6 L255.5,317.0 L254.5,318.6 L253.5,320.3 L252.5,322.1 L251.5,323.9 L250.5,325.8 L249.5,327.7 L248.5,329.6 L247.5,331.5 L246.5,333.4 L245.5,335.3 L244.5,337.1 L243.5,338.9 L242.5,340.6 L241.5,342.2 L240.5,343.8 L239.5,345.3 L238.5,346.7 L237.5,348.0 L236.5,349.2 L235.5,350.4 L234.5,351.4 L233.5,352.4 L232.5,353.3 L231.5,354.1 L230.5,354.8 L229.5,355.5 L228.5,356.1 L227.5,356.6 L226.5,357.1 L225.5,357.6 L224.5,357.9 L223.5,358.3 L222.5,358.6 L221.5,358.8 L220.5,359.0 L219.5,359.2 L218.5,359.4 L217.5,359.5 L216.5,359.7 L215.5,359.8 L214.5,359.8 L213.5,359.9 L212.5,360.0 L211.5,360.0 L210.5,360.1 L209.5,360.1 L208.5,360.1 L207.5,360.2 L206.5,360.2 L205.5,360.2 L204.5,360.2 L203.5,360.2 L202.5,360.2 L201.5,360.2 L200.5,360.3 L199.5,360.3 L198.5,360.3 L197.5,360.3 L196.5,360.3 L195.5,360.3 L194.5,360.3 L193.5,360.3 L192.5,360.3 L191.5,360.3 L190.5,360.3 L189.5,360.3 L188.5,360.3 L187.5,360.3 L186.5,360.3 L185.5,360.3 L184.5,360.3 L183.5,360.3 L182.5,360.3 L181.5,360.3 L180.5,360.2 L179.5,360.2 L178.5,360.2 L177.5,360.2 L176.5,360.2 L175.5,360.2 L174.5,360.1 L173.5,360.1 L172.5,360.0 L171.5,359.9 L170.5,359.8 L169.5,359.7 L168.5,359.6 L167.5,359.4 L166.5,359.2 L165.5,359.0 L164.5,358.8 L163.5,358.5 L162.5,358.2 L161.5,357.8 L160.5,357.4 L159.5,357.0 L158.5,356.6 L157.5,356.2 L156.5,355.7 L155.5,355.3 L154.5,354.9 L153.5,354.5 L152.5,354.1 L151.5,353.8 L150.5,353.5 L149.5,353.3 L148.5,353.2 L147.5,353.1 L146.5,353.1 L145.5,353.3 L144.5,353.7 L143.5,354.3 L142.5,355.1 L141.5,356.1 L140.5,357.2 L139.5,358.5 L138.5,360.0 L137.5,361.6 L136.5,363.4 L135.5,365.3 L134.5,367.3 L133.5,369.5 L132.5,371.8 L131.5,374.3 L130.5,376.8 L129.5,379.5 L128.5,382.3 L127.5,385.1 L126.5,388.1 L125.5,391.2 L124.5,394.3 L123.5,397.5 L122.5,400.8 L121.5,404.1 L120.5,407.5 L119.5,411.0 L118.5,414.5 L117.5,418.0 L116.5,421.6 L115.5,425.2 L114.5,428.8 L113.5,432.4 L112.5,436.1 L111.5,439.8 C111.2,444.8 107.3,444.8 107.0,439.8 Z" stroke="#62107a"/>
<path d="M111.0,416.5 L112.0,413.5 L113.0,410.6 L114.0,407.6 L115.0,404.7 L116.0,401.8 L117.0,398.9 L118.0,396.0 L119.0,393.2 L120.0,390.4 L121.0,387.7 L122.0,385.0 L123.0,382.3 L124.0,379.8 L125.0,377.2 L126.0,374.8 L127.0,372.4 L128.0,370.1 L129.0,367.9 L130.0,365.7 L131.0,363.7 L132.0,361.7 L133.0,359.9 L134.0,358.2 L135.0,356.5 L136.0,355.0 L137.0,353.6 L138.0,352.4 L139.0,351.2 L140.0,350.2 L141.0,349.4 L142.0,348.7 L143.0,348.1 L144.0,347.7 L145.0,347.4 L146.0,347.4 L147.0,347.4 L148.0,347.5 L149.0,347.7 L150.0,347.9 L151.0,348.2 L152.0,348.6 L153.0,348.9 L154.0,349.4 L155.0,349.8 L156.0,350.2 L157.0,350.7 L158.0,351.1 L159.0,351.5 L160.0,351.9 L161.0,352.3 L162.0,352.6 L163.0,352.9 L164.0,353.2 L165.0,353.4 L166.0,353.6 L167.0,353.8 L168.0,353.9 L169.0,354.1 L170.0,354.2 L171.0,354.2 L172.0,354.3 L173.0,354.4 L174.0,354.4 L175.0,354.4 L176.0,354.5 L177.0,354.5 L178.0,354.5 L179.0,354.5 L180.0,354.5 L181.0,354.5 L182.0,354.5 L183.0,354.5 L184.0,354.5 L185.0,354.5 L186.0,354.5 L187.0,354.5 L188.0,354.5 L189.0,354.5 L190.0,354.5 L191.0,354.5 L192.0,354.5 L193.0,354.5 L194.0,354.5 L195.0,354.5 L196.0,354.5 L197.0,354.5 L198.0,354.5 L199.0,354.5 L200.0,354.5 L201.0,354.5 L202.0,354.5 L203.0,354.5 L204.0,354.5 L205.0,354.5 L206.0,354.5 L207.0,354.5 L208.0,354.5 L209.0,354.5 L210.0,354.5 L211.0,354.5 L212.0,354.5 L213.0,354.5 L214.0,354.5 L215.0,354.5 L216.0,354.5 L217.0,354.5 L218.0,354.5 L219.0,354.5 L220.0,354.5 L221.0,354.5 L222.0,354.5 L223.0,354.5 L224.0,354.5 L225.0,354.5 L226.0,354.5 L227.0,354.5 L228.0,354.4 L229.0,354.4 L230.0,354.4 L231.0,354.4 L232.0,354.4 L233.0,354.3 L234.0,354.3 L235.0,354.3 L236.0,354.2 L237.0,354.2 L238.0,354.1 L239.0,354.1 L240.0,354.0 L241.0,353.9 L242.0,353.9 L243.0,353.8 L244.0,353.6 L245.0,353.5 L246.0,353.4 L247.0,353.2 L248.0,353.0 L249.0,352.8 L250.0,352.6 L251.0,352.4 L252.0,352.1 L253.0,351.8 L254.0,351.4 L255.0,351.1 L256.0,350.6 L257.0,350.2 L258.0,349.6 L259.0,349.1 L260.0,348.4 L261.0,347.8 L262.0,347.0 L263.0,346.2 L264.0,345.3 L265.0,344.3 L266.0,343.2 L267.0,342.0 L268.0,340.8 L269.0,339.4 L270.0,337.9 L271.0,336.3 L272.0,334.6 L273.0,332.8 L274.0,330.8 L275.0,328.7 L276.0,326.4 L277.0,324.0 L278.0,321.4 L279.0,318.7 L280.0,315.8 L281.0,312.7 L282.0,309.5 L283.0,306.1 L284.0,302.5 L285.0,298.7 L286.0,294.8 L287.0,290.6 L288.0,286.3 L289.0,281.8 L290.0,277.2 L291.0,272.4 L292.0,267.4 L293.0,262.2 L294.0,256.9 L295.0,251.4 L296.0,245.9 L297.0,240.1 L298.0,234.3 L299.0,228.4 L300.0,222.4 L301.0,216.3 L302.0,210.1 L303.0,204.0 L304.0,197.8 L305.0,191.5 L306.0,185.3 L307.0,179.2 L308.0,173.1 L309.0,167.0 L310.0,161.1 L311.0,155.3 L312.0,149.6 L313.0,144.1 L314.0,138.7 L315.0,133.6 L316.0,128.7 L317.0,124.0 L318.0,119.6 L319.0,115.4 L320.0,111.6 L321.0,108.0 L322.0,104.8 L323.0,101.9 L324.0,99.3 L325.0,97.2 L326.0,95.3 L327.0,93.9 L328.0,92.8 L329.0,92.1 L330.0,91.8 L331.0,92.0 L332.0,92.6 L333.0,93.7 L334.0,95.3 L335.0,97.3 L336.0,99.7 L337.0,102.6 L338.0,105.9 L339.0,109.5 L340.0,113.5 L341.0,117.9 L342.0,122.6 L343.0,127.6 L344.0,132.8 L345.0,138.3 L346.0,144.0 L347.0,149.9 L348.0,156.0 L349.0,162.2 L350.0,168.5 L351.0,174.9 L352.0,181.4 L353.0,187.8 L354.0,194.3 L355.0,200.7 L356.0,207.1 L357.0,213.4 L358.0,219.7 L359.0,225.8 L360.0,231.8 L361.0,237.6 L362.0,243.3 L363.0,248.8 L364.0,254.2 L365.0,259.4 L366.0,264.5 L367.0,269.5 L368.0,274.4 L369.0,279.3 L370.0,284.6 L371.0,290.3 L372.0,296.9 L373.0,304.4 L374.0,312.5 L375.0,320.2 L376.0,326.2 L377.0,330.1 L378.0,293.5 L379.0,296.7 L380.0,299.2 L381.0,301.2 L382.0,302.8 L383.0,304.3 L384.0,305.6 L385.0,306.8 L386.0,307.9 L387.0,308.9 L388.0,309.8 L389.0,310.7 L390.0,311.4 L391.0,312.1 L392.0,312.7 L393.0,313.3 L394.0,313.8 L395.0,314.3 L396.0,314.7 L397.0,315.1 L398.0,315.5 L399.0,315.8 L400.0,316.1 L401.0,316.4 L402.0,316.6 L403.0,316.8 L404.0,317.0 L405.0,317.2 L406.0,317.4 L407.0,317.5 L408.0,317.6 L409.0,317.7 L410.0,317.8 L411.0,317.9 L412.0,318.0 L413.0,318.1 L414.0,318.1 L415.0,318.2 L416.0,318.3 L417.0,318.3 L418.0,318.3 L419.0,318.4 L420.0,318.4 L421.0,318.5 L422.0,318.5 L423.0,318.5 L424.0,318.5 L425.0,318.6 L426.0,318.6 L427.0,318.6 L428.0,318.6 L429.0,318.7 L430.0,318.7 L431.0,318.7 L432.0,318.7 L433.0,318.8 L434.0,318.8 L435.0,318.8 L436.0,318.8 L437.0,318.9 L438.0,318.9 L439.0,318.9 L440.0,319.0 L441.0,319.0 L442.0,319.1 L443.0,319.1 L444.0,319.2 L445.0,319.2 L446.0,319.3 L447.0,319.3 L448.0,319.4 L449.0,319.4 L450.0,319.5 L451.0,319.5 L452.0,319.6 L453.0,319.7 L454.0,319.7 L455.0,319.8 L456.0,319.9 L457.0,320.0 L458.0,320.0 L459.0,320.1 L460.0,320.2 L461.0,320.3 L462.0,320.4 L463.0,320.5 L464.0,320.6 L465.0,320.6 L466.0,320.7 L467.0,320.8 L468.0,320.9 L469.0,321.0 L470.0,321.1 L471.0,321.2 L472.0,321.3 L473.0,321.4 L474.0,321.5 L475.0,321.6 L476.0,321.7 L477.0,321.9 L478.0,322.0 L479.0,322.1 L480.0,322.2 L481.0,322.3 L482.0,322.4 L483.0,322.5 L484.0,322.6 L485.0,322.7 L486.0,322.8 L487.0,322.9 L488.0,323.0 L489.0,323.2 L490.0,323.3 L491.0,323.4 L492.0,323.5 L493.0,323.6 L494.0,323.7 L495.0,323.8 L496.0,323.9 L497.0,324.0 L498.0,324.1 L499.0,324.2 L500.0,324.3 L501.0,324.4 L502.0,324.5 L503.0,324.6 L504.0,324.7 L505.0,324.8 L506.0,324.9 L507.0,325.0 L508.0,325.1 L509.0,325.2 L510.0,325.3 L511.0,325.4 L512.0,325.5 L513.0,325.6 L514.0,325.7 L515.0,325.8 L516.0,325.9 L517.0,326.0 L518.0,326.1 L519.0,326.1 L520.0,326.2 L521.0,326.3 L522.0,326.4 L523.0,326.5 L524.0,326.6 L525.0,326.6 L526.0,326.7 L527.0,326.8 L528.0,326.9 L529.0,326.9 L530.0,327.0 L531.0,327.1 L532.0,327.2 L533.0,327.2 L534.0,327.3 L535.0,327.4 L536.0,327.4 L537.0,327.5 L538.0,327.6 L539.0,327.6 L540.0,327.7 L541.0,327.8 L542.0,327.8 L543.0,327.9 L544.0,327.9 L545.0,328.0 L546.0,328.0 L547.0,328.1 L548.0,328.2 L549.0,328.2 L550.0,328.3 L551.0,328.3 L552.0,328.4 L553.0,328.4 L554.0,328.5 L555.0,328.5 L556.0,328.6 L557.0,328.6 L558.0,328.6 L559.0,328.7 L560.0,328.7 L561.0,328.8 L562.0,328.8 L563.0,328.8 L564.0,328.9 L565.0,328.9 L566.0,328.9 L567.0,328.9 L568.0,328.9 L569.0,329.0 L570.0,329.0 L571.0,329.0 L572.0,329.0 L573.0,329.0 L574.0,329.0 L575.0,328.9 L576.0,328.9 L577.0,328.9 L578.0,328.8 L579.0,328.8 L580.0,328.7 L581.0,328.6 L582.0,328.6 L583.0,328.4 L584.0,328.3 L585.0,328.2 L586.0,328.0 L587.0,327.8 L588.0,327.6 L589.0,327.4 L590.0,327.1 L591.0,326.8 L592.0,326.5 L593.0,326.1 L594.0,325.7 L595.0,325.2 L596.0,324.7 L597.0,324.1 L598.0,323.5 L599.0,322.8 L600.0,322.0 L601.0,321.1 L602.0,320.2 L603.0,319.1 L604.0,318.0 L605.0,316.7 L606.0,315.4 L607.0,313.9 L608.0,312.3 L609.0,310.6 L610.0,308.7 L611.0,306.7 L612.0,304.6 L613.0,302.3 L614.0,299.9 L615.0,297.4 L616.0,294.7 L617.0,291.8 L618.0,288.9 L619.0,285.7 L620.0,282.5 L621.0,279.1 L622.0,275.6 L623.0,272.0 L624.0,268.2 L625.0,264.3 L626.0,260.4 L627.0,256.3 L628.0,252.2 L629.0,247.9 L630.0,243.6 L631.0,239.2 L632.0,234.7 L633.0,230.2 L634.0,225.6 L635.0,221.0 L636.0,216.3 L637.0,211.6 L638.0,206.8 L639.0,202.0 L640.0,197.2 L641.0,192.3 C642.8,170.0 650.2,171.0 652.0,193.3 L652.0,193.3 L651.5,195.7 L650.5,200.5 L649.5,205.3 L648.5,210.1 L647.5,214.8 L646.5,219.6 L645.5,224.3 L644.5,229.1 L643.5,233.8 L642.5,238.4 L641.5,243.0 L640.5,247.6 L639.5,252.2 L638.5,256.7 L637.5,261.2 L636.5,265.6 L635.5,269.9 L634.5,274.2 L633.5,278.4 L632.5,282.5 L631.5,286.5 L630.5,290.4 L629.5,294.1 L628.5,297.8 L627.5,301.3 L626.5,304.7 L625.5,307.9 L624.5,310.9 L623.5,313.8 L622.5,316.6 L621.5,319.1 L620.5,321.5 L619.5,323.7 L618.5,325.7 L617.5,327.6 L616.5,329.3 L615.5,330.8 L614.5,332.2 L613.5,333.5 L612.5,334.6 L611.5,335.6 L610.5,336.5 L609.5,337.3 L608.5,338.0 L607.5,338.7 L606.5,339.2 L605.5,339.7 L604.5,340.1 L603.5,340.5 L602.5,340.8 L601.5,341.1 L600.5,341.4 L599.5,341.6 L598.5,341.8 L597.5,341.9 L596.5,342.1 L595.5,342.2 L594.5,342.3 L593.5,342.4 L592.5,342.5 L591.5,342.6 L590.5,342.6 L589.5,342.7 L588.5,342.7 L587.5,342.8 L586.5,342.8 L585.5,342.9 L584.5,342.9 L583.5,342.9 L582.5,342.9 L581.5,342.9 L580.5,343.0 L579.5,343.0 L578.5,343.0 L577.5,343.0 L576.5,343.0 L575.5,343.0 L574.5,343.0 L573.5,343.0 L572.5,343.0 L571.5,343.0 L570.5,343.0 L569.5,343.0 L568.5,343.0 L567.5,343.0 L566.5,343.0 L565.5,343.0 L564.5,343.0 L563.5,343.0 L562.5,343.1 L561.5,343.1 L560.5,343.1 L559.5,343.1 L558.5,343.1 L557.5,343.1 L556.5,343.1 L555.5,343.1 L554.5,343.1 L553.5,343.1 L552.5,343.1 L551.5,343.1 L550.5,343.1 L549.5,343.1 L548.5,343.1 L547.5,343.1 L546.5,343.1 L545.5,343.1 L544.5,343.1 L543.5,343.1 L542.5,343.1 L541.5,343.1 L540.5,343.1 L539.5,343.1 L538.5,343.1 L537.5,343.1 L536.5,343.1 L535.5,343.1 L534.5,343.1 L533.5,343.1 L532.5,343.1 L531.5,343.1 L530.5,343.1 L529.5,343.1 L528.5,343.1 L527.5,343.1 L526.5,343.1 L525.5,343.1 L524.5,343.1 L523.5,343.1 L522.5,343.1 L521.5,343.1 L520.5,343.1 L519.5,343.1 L518.5,343.1 L517.5,343.1 L516.5,343.1 L515.5,343.1 L514.5,343.1 L513.5,343.1 L512.5,343.1 L511.5,343.1 L510.5,343.1 L509.5,343.1 L508.5,343.1 L507.5,343.1 L506.5,343.1 L505.5,343.1 L504.5,343.1 L503.5,343.1 L502.5,343.1 L501.5,343.1 L500.5,343.1 L499.5,343.1 L498.5,343.1 L497.5,343.1 L496.5,343.1 L495.5,343.1 L494.5,343.1 L493.5,343.1 L492.5,343.1 L491.5,343.1 L490.5,343.1 L489.5,343.1 L488.5,343.1 L487.5,343.1 L486.5,343.1 L485.5,343.1 L484.5,343.1 L483.5,343.1 L482.5,343.1 L481.5,343.1 L480.5,343.1 L479.5,343.1 L478.5,343.1 L477.5,343.1 L476.5,343.1 L475.5,343.1 L474.5,343.1 L473.5,343.1 L472.5,343.1 L471.5,343.1 L470.5,343.1 L469.5,343.1 L468.5,343.1 L467.5,343.1 L466.5,343.1 L465.5,343.1 L464.5,343.1 L463.5,343.1 L462.5,343.1 L461.5,343.1 L460.5,343.1 L459.5,343.1 L458.5,343.1 L457.5,343.1 L456.5,343.1 L455.5,343.1 L454.5,343.1 L453.5,343.1 L452.5,343.1 L451.5,343.1 L450.5,343.1 L449.5,343.1 L448.5,343.1 L447.5,343.1 L446.5,343.1 L445.5,343.1 L444.5,343.1 L443.5,343.1 L442.5,343.1 L441.5,343.1 L440.5,343.1 L439.5,343.1 L438.5,343.1 L437.5,343.1 L436.5,343.1 L435.5,343.1 L434.5,343.1 L433.5,343.1 L432.5,343.1 L431.5,343.1 L430.5,343.1 L429.5,343.1 L428.5,343.1 L427.5,343.1 L426.5,343.1 L425.5,343.1 L424.5,343.1 L423.5,343.1 L422.5,343.1 L421.5,343.1 L420.5,343.1 L419.5,343.1 L418.5,343.1 L417.5,343.1 L416.5,343.1 L415.5,343.1 L414.5,343.1 L413.5,343.1 L412.5,343.1 L411.5,343.1 L410.5,343.1 L409.5,343.1 L408.5,343.1 L407.5,343.1 L406.5,343.1 L405.5,343.1 L404.5,343.1 L403.5,343.1 L402.5,343.1 L401.5,343.1 L400.5,343.1 L399.5,343.1 L398.5,343.1 L397.5,343.1 L396.5,343.1 L395.5,343.1 L394.5,343.1 L393.5,343.1 L392.5,343.1 L391.5,343.1 L390.5,343.1 L389.5,343.1 L388.5,343.1 L387.5,343.1 L386.5,343.1 L385.5,343.1 L384.5,343.1 L383.5,343.1 L382.5,343.1 L381.5,343.1 L380.5,343.1 L379.5,343.1 L378.5,343.1 L377.5,343.1 L376.5,343.1 L375.5,343.1 L374.5,343.1 L373.5,343.1 L372.5,343.1 L371.5,343.1 L370.5,343.1 L369.5,343.1 L368.5,343.1 L367.5,343.1 L366.5,343.1 L365.5,343.1 L364.5,343.1 L363.5,343.1 L362.5,343.1 L361.5,343.1 L360.5,343.1 L359.5,343.1 L358.5,343.2 L357.5,343.2 L356.5,343.2 L355.5,343.2 L354.5,343.3 L353.5,343.3 L352.5,343.4 L351.5,343.4 L350.5,343.5 L349.5,343.6 L348.5,343.7 L347.5,343.9 L346.5,344.1 L345.5,344.3 L344.5,344.5 L343.5,344.8 L342.5,345.1 L341.5,345.4 L340.5,345.9 L339.5,346.3 L338.5,346.9 L337.5,347.5 L336.5,348.2 L335.5,349.0 L334.5,349.8 L333.5,350.7 L332.5,351.8 L331.5,352.9 L330.5,354.1 L329.5,355.4 L328.5,356.8 L327.5,358.3 L326.5,359.8 L325.5,361.4 L324.5,363.1 L323.5,364.8 L322.5,366.5 L321.5,368.3 L320.5,370.1 L319.5,371.8 L318.5,373.5 L317.5,375.2 L316.5,376.7 L315.5,378.2 L314.5,379.6 L313.5,380.8 L312.5,381.9 L311.5,382.8 L310.5,383.5 L309.5,384.1 L308.5,384.4 L307.5,384.5 L306.5,384.5 L305.5,384.4 L304.5,384.2 L303.5,383.8 L302.5,383.2 L301.5,382.5 L300.5,381.6 L299.5,380.6 L298.5,379.3 L297.5,377.9 L296.5,376.3 L295.5,374.4 L294.5,372.3 L293.5,370.0 L292.5,367.4 L291.5,364.6 L290.5,361.4 L289.5,358.0 L288.5,354.3 L287.5,350.4 L286.5,346.2 L285.5,341.7 L284.5,337.0 L283.5,332.2 L282.5,327.2 L281.5,322.2 L280.5,317.1 L279.5,312.1 L278.5,307.3 L277.5,302.6 L276.5,298.3 L275.5,294.3 L274.5,290.7 L273.5,287.6 L272.5,285.1 L271.5,283.2 L270.5,281.9 L269.5,281.2 L268.5,281.0 L267.5,281.0 L266.5,281.3 L265.5,282.0 L264.5,282.9 L263.5,284.0 L262.5,285.5 L261.5,287.1 L260.5,288.9 L259.5,291.0 L258.5,293.1 L257.5,295.5 L256.5,297.9 L255.5,300.4 L254.5,303.0 L253.5,305.6 L252.5,308.2 L251.5,310.8 L250.5,313.4 L249.5,316.0 L248.5,318.5 L247.5,320.9 L246.5,323.2 L245.5,325.5 L244.5,327.6 L243.5,329.6 L242.5,331.6 L241.5,333.4 L240.5,335.1 L239.5,336.6 L238.5,338.1 L237.5,339.4 L236.5,340.6 L235.5,341.8 L234.5,342.8 L233.5,343.7 L232.5,344.5 L231.5,345.3 L230.5,345.9 L229.5,346.5 L228.5,347.0 L227.5,347.5 L226.5,347.9 L225.5,348.2 L224.5,348.5 L223.5,348.8 L222.5,349.0 L221.5,349.2 L220.5,349.4 L219.5,349.5 L218.5,349.6 L217.5,349.7 L216.5,349.8 L215.5,349.9 L214.5,350.0 L213.5,350.0 L212.5,350.1 L211.5,350.1 L210.5,350.1 L209.5,350.1 L208.5,350.2 L207.5,350.2 L206.5,350.2 L205.5,350.2 L204.5,350.2 L203.5,350.2 L202.5,350.2 L201.5,350.2 L200.5,350.2 L199.5,350.2 L198.5,350.2 L197.5,350.2 L196.5,350.2 L195.5,350.2 L194.5,350.2 L193.5,350.2 L192.5,350.2 L191.5,350.2 L190.5,350.2 L189.5,350.2 L188.5,350.2 L187.5,350.2 L186.5,350.2 L185.5,350.2 L184.5,350.2 L183.5,350.1 L182.5,350.1 L181.5,350.1 L180.5,350.0 L179.5,350.0 L178.5,349.9 L177.5,349.9 L176.5,349.8 L175.5,349.6 L174.5,349.5 L173.5,349.3 L172.5,349.1 L171.5,348.9 L170.5,348.6 L169.5,348.3 L168.5,347.9 L167.5,347.5 L166.5,346.9 L165.5,346.4 L164.5,345.7 L163.5,345.0 L162.5,344.2 L161.5,343.3 L160.5,342.4 L159.5,341.4 L158.5,340.3 L157.5,339.1 L156.5,337.8 L155.5,336.6 L154.5,335.2 L153.5,333.9 L152.5,332.5 L151.5,331.2 L150.5,329.8 L149.5,328.5 L148.5,327.3 L147.5,326.1 L146.5,325.0 L145.5,324.1 L144.5,323.3 L143.5,322.6 L142.5,322.1 L141.5,321.7 L140.5,321.6 L139.5,321.6 L138.5,321.8 L137.5,322.3 L136.5,323.0 L135.5,324.0 L134.5,325.2 L133.5,326.6 L132.5,328.1 L131.5,329.9 L130.5,331.9 L129.5,334.1 L128.5,336.4 L127.5,338.9 L126.5,341.6 L125.5,344.4 L124.5,347.3 L123.5,350.4 L122.5,353.6 L121.5,357.0 L120.5,360.4 L119.5,364.0 L118.5,367.7 L117.5,371.4 L116.5,375.2 L115.5,379.2 L114.5,383.1 L113.5,387.2 L112.5,391.3 L111.5,395.4 L110.5,399.6 L109.5,403.8 L108.5,408.0 L107.5,412.3 L106.5,416.5 C106.2,421.5 111.3,421.5 111.0,416.5 Z" stroke="#560c1c"/>
<path d="M110.5,412.5 L111.5,409.6 L112.5,406.8 L113.5,404.0 L114.5,401.1 L115.5,398.3 L116.5,395.5 L117.5,392.8 L118.5,390.1 L119.5,387.4 L120.5,384.7 L121.5,382.1 L122.5,379.6 L123.5,377.1 L124.5,374.7 L125.5,372.3 L126.5,370.0 L127.5,367.8 L128.5,365.7 L129.5,363.6 L130.5,361.6 L131.5,359.8 L132.5,358.0 L133.5,356.3 L134.5,354.8 L135.5,353.3 L136.5,352.0 L137.5,350.7 L138.5,349.7 L139.5,348.7 L140.5,347.9 L141.5,347.2 L142.5,346.6 L143.5,346.2 L144.5,346.0 L145.5,345.9 L146.5,346.0 L147.5,346.1 L148.5,346.2 L149.5,346.5 L150.5,346.8 L151.5,347.1 L152.5,347.5 L153.5,347.9 L154.5,348.4 L155.5,348.8 L156.5,349.2 L157.5,349.7 L158.5,350.1 L159.5,350.5 L160.5,350.8 L161.5,351.2 L162.5,351.5 L163.5,351.7 L164.5,352.0 L165.5,352.2 L166.5,352.3 L167.5,352.5 L168.5,352.6 L169.5,352.7 L170.5,352.8 L171.5,352.9 L172.5,352.9 L173.5,353.0 L174.5,353.0 L175.5,353.0 L176.5,353.0 L177.5,353.1 L178.5,353.1 L179.5,353.1 L180.5,353.1 L181.5,353.1 L182.5,353.1 L183.5,353.1 L184.5,353.1 L185.5,353.1 L186.5,353.1 L187.5,353.1 L188.5,353.1 L189.5,353.1 L190.5,353.1 L191.5,353.1 L192.5,353.1 L193.5,353.1 L194.5,353.1 L195.5,353.1 L196.5,353.1 L197.5,353.1 L198.5,353.1 L199.5,353.1 L200.5,353.1 L201.5,353.1 L202.5,353.1 L203.5,353.1 L204.5,353.1 L205.5,353.1 L206.5,353.1 L207.5,353.1 L208.5,353.1 L209.5,353.1 L210.5,353.1 L211.5,353.1 L212.5,353.1 L213.5,353.1 L214.5,353.1 L215.5,353.1 L216.5,353.1 L217.5,353.1 L218.5,353.1 L219.5,353.1 L220.5,353.1 L221.5,353.1 L222.5,353.1 L223.5,353.1 L224.5,353.0 L225.5,353.0 L226.5,353.0 L227.5,353.0 L228.5,353.0 L229.5,353.0 L230.5,353.0 L231.5,352.9 L232.5,352.9 L233.5,352.9 L234.5,352.8 L235.5,352.8 L236.5,352.8 L237.5,352.7 L238.5,352.6 L239.5,352.6 L240.5,352.5 L241.5,352.4 L242.5,352.3 L243.5,352.2 L244.5,352.0 L245.5,351.9 L246.5,351.7 L247.5,351.5 L248.5,351.3 L249.5,351.1 L250.5,350.8 L251.5,350.5 L252.5,350.2 L253.5,349.8 L254.5,349.4 L255.5,349.0 L256.5,348.5 L257.5,347.9 L258.5,347.3 L259.5,346.6 L260.5,345.9 L261.5,345.1 L262.5,344.2 L263.5,343.2 L264.5,342.2 L265.5,341.0 L266.5,339.8 L267.5,338.4 L268.5,336.9 L269.5,335.4 L270.5,333.6 L271.5,331.8 L272.5,329.8 L273.5,327.6 L274.5,325.4 L275.5,322.9 L276.5,320.3 L277.5,317.5 L278.5,314.5 L279.5,311.4 L280.5,308.0 L281.5,304.5 L282.5,300.8 L283.5,296.9 L284.5,292.8 L285.5,288.5 L286.5,283.9 L287.5,279.2 L288.5,274.3 L289.5,269.2 L290.5,263.9 L291.5,258.4 L292.5,252.7 L293.5,246.9 L294.5,240.8 L295.5,234.7 L296.5,228.3 L297.5,221.9 L298.5,215.3 L299.5,208.6 L300.5,201.9 L301.5,195.0 L302.5,188.2 L303.5,181.2 L304.5,174.3 L305.5,167.4 L306.5,160.4 L307.5,153.6 L308.5,146.8 L309.5,140.1 L310.5,133.6 L311.5,127.2 L312.5,120.9 L313.5,114.9 L314.5,109.0 L315.5,103.4 L316.5,98.1 L317.5,93.0 L318.5,88.3 L319.5,83.8 L320.5,79.7 L321.5,76.0 L322.5,72.6 L323.5,69.6 L324.5,67.0 L325.5,64.8 L326.5,63.1 L327.5,61.7 L328.5,60.8 L329.5,60.3 L330.5,60.4 L331.5,60.9 L332.5,62.0 L333.5,63.6 L334.5,65.7 L335.5,68.2 L336.5,71.3 L337.5,74.8 L338.5,78.8 L339.5,83.2 L340.5,88.0 L341.5,93.1 L342.5,98.6 L343.5,104.5 L344.5,110.6 L345.5,116.9 L346.5,123.5 L347.5,130.3 L348.5,137.3 L349.5,144.3 L350.5,151.5 L351.5,158.8 L352.5,166.0 L353.5,173.3 L354.5,180.6 L355.5,187.8 L356.5,195.0 L357.5,202.0 L358.5,209.0 L359.5,215.8 L360.5,222.5 L361.5,229.0 L362.5,235.3 L363.5,241.4 L364.5,247.4 L365.5,253.1 L366.5,258.7 L367.5,264.3 L368.5,269.8 L369.5,275.5 L370.5,281.6 L371.5,288.5 L372.5,296.4 L373.5,305.3 L374.5,314.3 L375.5,322.0 L376.5,327.6 L377.5,331.0 L378.5,292.2 L379.5,295.1 L380.5,297.3 L381.5,299.2 L382.5,300.7 L383.5,302.2 L384.5,303.4 L385.5,304.6 L386.5,305.6 L387.5,306.6 L388.5,307.4 L389.5,308.2 L390.5,308.9 L391.5,309.6 L392.5,310.2 L393.5,310.7 L394.5,311.2 L395.5,311.7 L396.5,312.1 L397.5,312.5 L398.5,312.8 L399.5,313.1 L400.5,313.4 L401.5,313.7 L402.5,313.9 L403.5,314.1 L404.5,314.3 L405.5,314.5 L406.5,314.6 L407.5,314.7 L408.5,314.9 L409.5,315.0 L410.5,315.1 L411.5,315.2 L412.5,315.2 L413.5,315.3 L414.5,315.4 L415.5,315.4 L416.5,315.5 L417.5,315.5 L418.5,315.6 L419.5,315.6 L420.5,315.6 L421.5,315.7 L422.5,315.7 L423.5,315.7 L424.5,315.7 L425.5,315.8 L426.5,315.8 L427.5,315.8 L428.5,315.8 L429.5,315.9 L430.5,315.9 L431.5,315.9 L432.5,316.0 L433.5,316.0 L434.5,316.0 L435.5,316.0 L436.5,316.1 L437.5,316.1 L438.5,316.1 L439.5,316.2 L440.5,316.2 L441.5,316.3 L442.5,316.3 L443.5,316.4 L444.5,316.4 L445.5,316.5 L446.5,316.5 L447.5,316.6 L448.5,316.6 L449.5,316.7 L450.5,316.8 L451.5,316.8 L452.5,316.9 L453.5,317.0 L454.5,317.0 L455.5,317.1 L456.5,317.2 L457.5,317.3 L458.5,317.3 L459.5,317.4 L460.5,317.5 L461.5,317.6 L462.5,317.7 L463.5,317.8 L464.5,317.9 L465.5,318.0 L466.5,318.1 L467.5,318.2 L468.5,318.3 L469.5,318.4 L470.5,318.5 L471.5,318.6 L472.5,318.7 L473.5,318.8 L474.5,318.9 L475.5,319.0 L476.5,319.1 L477.5,319.2 L478.5,319.3 L479.5,319.4 L480.5,319.5 L481.5,319.7 L482.5,319.8 L483.5,319.9 L484.5,320.0 L485.5,320.1 L486.5,320.2 L487.5,320.3 L488.5,320.4 L489.5,320.5 L490.5,320.7 L491.5,320.8 L492.5,320.9 L493.5,321.0 L494.5,321.1 L495.5,321.2 L496.5,321.3 L497.5,321.4 L498.5,321.5 L499.5,321.6 L500.5,321.8 L501.5,321.9 L502.5,322.0 L503.5,322.1 L504.5,322.2 L505.5,322.3 L506.5,322.4 L507.5,322.5 L508.5,322.6 L509.5,322.7 L510.5,322.8 L511.5,322.9 L512.5,323.0 L513.5,323.1 L514.5,323.2 L515.5,323.3 L516.5,323.3 L517.5,323.4 L518.5,323.5 L519.5,323.6 L520.5,323.7 L521.5,323.8 L522.5,323.9 L523.5,324.0 L524.5,324.0 L525.5,324.1 L526.5,324.2 L527.5,324.3 L528.5,324.4 L529.5,324.4 L530.5,324.5 L531.5,324.6 L532.5,324.7 L533.5,324.7 L534.5,324.8 L535.5,324.9 L536.5,324.9 L537.5,325.0 L538.5,325.1 L539.5,325.2 L540.5,325.2 L541.5,325.3 L542.5,325.3 L543.5,325.4 L544.5,325.5 L545.5,325.5 L546.5,325.6 L547.5,325.6 L548.5,325.7 L549.5,325.7 L550.5,325.8 L551.5,325.8 L552.5,325.9 L553.5,325.9 L554.5,326.0 L555.5,326.0 L556.5,326.0 L557.5,326.1 L558.5,326.1 L559.5,326.1 L560.5,326.2 L561.5,326.2 L562.5,326.2 L563.5,326.2 L564.5,326.2 L565.5,326.2 L566.5,326.2 L567.5,326.2 L568.5,326.1 L569.5,326.1 L570.5,326.1 L571.5,326.0 L572.5,325.9 L573.5,325.9 L574.5,325.8 L575.5,325.7 L576.5,325.5 L577.5,325.4 L578.5,325.2 L579.5,325.0 L580.5,324.8 L581.5,324.5 L582.5,324.2 L583.5,323.9 L584.5,323.5 L585.5,323.1 L586.5,322.7 L587.5,322.2 L588.5,321.6 L589.5,321.0 L590.5,320.3 L591.5,319.5 L592.5,318.6 L593.5,317.7 L594.5,316.7 L595.5,315.6 L596.5,314.3 L597.5,313.0 L598.5,311.5 L599.5,310.0 L600.5,308.3 L601.5,306.4 L602.5,304.5 L603.5,302.4 L604.5,300.1 L605.5,297.7 L606.5,295.2 L607.5,292.5 L608.5,289.7 L609.5,286.8 L610.5,283.7 L611.5,280.4 L612.5,277.1 L613.5,273.6 L614.5,270.0 L615.5,266.2 L616.5,262.4 L617.5,258.4 L618.5,254.4 L619.5,250.2 L620.5,246.0 L621.5,241.7 L622.5,237.3 L623.5,232.9 L624.5,228.4 L625.5,223.8 L626.5,219.2 L627.5,214.5 L628.5,209.8 L629.5,205.0 L630.5,200.2 L631.5,195.4 L632.5,190.5 L633.5,185.6 L634.5,180.7 L635.5,175.7 L636.5,170.8 L637.0,168.3 C638.8,146.1 646.2,147.3 648.0,169.5 L648.0,169.5 L647.0,174.3 L646.0,179.1 L645.0,184.0 L644.0,188.8 L643.0,193.6 L642.0,198.4 L641.0,203.2 L640.0,208.0 L639.0,212.8 L638.0,217.5 L637.0,222.3 L636.0,227.0 L635.0,231.7 L634.0,236.3 L633.0,240.9 L632.0,245.5 L631.0,250.1 L630.0,254.6 L629.0,259.0 L628.0,263.4 L627.0,267.8 L626.0,272.0 L625.0,276.2 L624.0,280.3 L623.0,284.3 L622.0,288.1 L621.0,291.9 L620.0,295.5 L619.0,299.0 L618.0,302.3 L617.0,305.5 L616.0,308.6 L615.0,311.4 L614.0,314.1 L613.0,316.6 L612.0,319.0 L611.0,321.2 L610.0,323.2 L609.0,325.0 L608.0,326.7 L607.0,328.2 L606.0,329.6 L605.0,330.8 L604.0,331.9 L603.0,332.9 L602.0,333.8 L601.0,334.6 L600.0,335.3 L599.0,335.9 L598.0,336.4 L597.0,336.9 L596.0,337.3 L595.0,337.7 L594.0,338.0 L593.0,338.3 L592.0,338.5 L591.0,338.8 L590.0,338.9 L589.0,339.1 L588.0,339.2 L587.0,339.4 L586.0,339.5 L585.0,339.6 L584.0,339.7 L583.0,339.7 L582.0,339.8 L581.0,339.8 L580.0,339.9 L579.0,339.9 L578.0,340.0 L577.0,340.0 L576.0,340.0 L575.0,340.0 L574.0,340.1 L573.0,340.1 L572.0,340.1 L571.0,340.1 L570.0,340.1 L569.0,340.1 L568.0,340.1 L567.0,340.1 L566.0,340.1 L565.0,340.2 L564.0,340.2 L563.0,340.2 L562.0,340.2 L561.0,340.2 L560.0,340.2 L559.0,340.2 L558.0,340.2 L557.0,340.2 L556.0,340.2 L555.0,340.2 L554.0,340.2 L553.0,340.2 L552.0,340.2 L551.0,340.2 L550.0,340.2 L549.0,340.2 L548.0,340.2 L547.0,340.2 L546.0,340.2 L545.0,340.2 L544.0,340.2 L543.0,340.2 L542.0,340.2 L541.0,340.2 L540.0,340.2 L539.0,340.2 L538.0,340.2 L537.0,340.2 L536.0,340.2 L535.0,340.2 L534.0,340.2 L533.0,340.2 L532.0,340.2 L531.0,340.2 L530.0,340.2 L529.0,340.2 L528.0,340.2 L527.0,340.2 L526.0,340.2 L525.0,340.2 L524.0,340.2 L523.0,340.2 L522.0,340.2 L521.0,340.2 L520.0,340.2 L519.0,340.2 L518.0,340.2 L517.0,340.2 L516.0,340.2 L515.0,340.2 L514.0,340.2 L513.0,340.2 L512.0,340.2 L511.0,340.2 L510.0,340.2 L509.0,340.2 L508.0,340.2 L507.0,340.2 L506.0,340.2 L505.0,340.2 L504.0,340.2 L503.0,340.2 L502.0,340.2 L501.0,340.2 L500.0,340.2 L499.0,340.2 L498.0,340.2 L497.0,340.2 L496.0,340.2 L495.0,340.2 L494.0,340.2 L493.0,340.2 L492.0,340.2 L491.0,340.2 L490.0,340.2 L489.0,340.2 L488.0,340.2 L487.0,340.2 L486.0,340.2 L485.0,340.2 L484.0,340.2 L483.0,340.2 L482.0,340.2 L481.0,340.2 L480.0,340.2 L479.0,340.2 L478.0,340.2 L477.0,340.2 L476.0,340.2 L475.0,340.2 L474.0,340.2 L473.0,340.2 L472.0,340.2 L471.0,340.2 L470.0,340.2 L469.0,340.2 L468.0,340.2 L467.0,340.2 L466.0,340.2 L465.0,340.2 L464.0,340.2 L463.0,340.2 L462.0,340.2 L461.0,340.2 L460.0,340.2 L459.0,340.2 L458.0,340.2 L457.0,340.2 L456.0,340.2 L455.0,340.2 L454.0,340.2 L453.0,340.2 L452.0,340.2 L451.0,340.2 L450.0,340.2 L449.0,340.2 L448.0,340.2 L447.0,340.2 L446.0,340.2 L445.0,340.2 L444.0,340.2 L443.0,340.2 L442.0,340.2 L441.0,340.2 L440.0,340.2 L439.0,340.2 L438.0,340.2 L437.0,340.2 L436.0,340.2 L435.0,340.2 L434.0,340.2 L433.0,340.2 L432.0,340.2 L431.0,340.2 L430.0,340.2 L429.0,340.2 L428.0,340.2 L427.0,340.2 L426.0,340.2 L425.0,340.2 L424.0,340.2 L423.0,340.2 L422.0,340.2 L421.0,340.2 L420.0,340.2 L419.0,340.2 L418.0,340.2 L417.0,340.2 L416.0,340.2 L415.0,340.2 L414.0,340.2 L413.0,340.2 L412.0,340.2 L411.0,340.2 L410.0,340.2 L409.0,340.2 L408.0,340.2 L407.0,340.2 L406.0,340.2 L405.0,340.2 L404.0,340.2 L403.0,340.2 L402.0,340.2 L401.0,340.2 L400.0,340.2 L399.0,340.2 L398.0,340.2 L397.0,340.2 L396.0,340.2 L395.0,340.2 L394.0,340.2 L393.0,340.2 L392.0,340.2 L391.0,340.2 L390.0,340.2 L389.0,340.2 L388.0,340.2 L387.0,340.2 L386.0,340.2 L385.0,340.2 L384.0,340.2 L383.0,340.2 L382.0,340.2 L381.0,340.2 L380.0,340.2 L379.0,340.2 L378.0,340.2 L377.0,340.2 L376.0,340.2 L375.0,340.2 L374.0,340.2 L373.0,340.2 L372.0,340.2 L371.0,340.2 L370.0,340.2 L369.0,340.2 L368.0,340.2 L367.0,340.2 L366.0,340.2 L365.0,340.2 L364.0,340.2 L363.0,340.3 L362.0,340.3 L361.0,340.3 L360.0,340.3 L359.0,340.3 L358.0,340.4 L357.0,340.4 L356.0,340.5 L355.0,340.5 L354.0,340.6 L353.0,340.7 L352.0,340.8 L351.0,340.9 L350.0,341.1 L349.0,341.3 L348.0,341.5 L347.0,341.7 L346.0,342.0 L345.0,342.4 L344.0,342.8 L343.0,343.2 L342.0,343.7 L341.0,344.3 L340.0,345.0 L339.0,345.7 L338.0,346.5 L337.0,347.4 L336.0,348.4 L335.0,349.5 L334.0,350.7 L333.0,352.0 L332.0,353.3 L331.0,354.8 L330.0,356.3 L329.0,357.9 L328.0,359.5 L327.0,361.2 L326.0,363.0 L325.0,364.7 L324.0,366.5 L323.0,368.3 L322.0,370.0 L321.0,371.7 L320.0,373.3 L319.0,374.8 L318.0,376.2 L317.0,377.5 L316.0,378.6 L315.0,379.6 L314.0,380.4 L313.0,381.0 L312.0,381.4 L311.0,381.6 L310.0,381.6 L309.0,381.5 L308.0,381.3 L307.0,380.9 L306.0,380.3 L305.0,379.6 L304.0,378.8 L303.0,377.7 L302.0,376.4 L301.0,375.0 L300.0,373.3 L299.0,371.4 L298.0,369.2 L297.0,366.7 L296.0,363.9 L295.0,360.9 L294.0,357.5 L293.0,353.7 L292.0,349.6 L291.0,345.1 L290.0,340.3 L289.0,335.1 L288.0,329.7 L287.0,323.9 L286.0,317.9 L285.0,311.8 L284.0,305.5 L283.0,299.2 L282.0,293.0 L281.0,286.9 L280.0,281.1 L279.0,275.6 L278.0,270.5 L277.0,266.0 L276.0,262.2 L275.0,259.0 L274.0,256.7 L273.0,255.1 L272.0,254.3 L271.0,254.1 L270.0,254.2 L269.0,254.8 L268.0,255.7 L267.0,257.0 L266.0,258.5 L265.0,260.5 L264.0,262.7 L263.0,265.1 L262.0,267.8 L261.0,270.7 L260.0,273.7 L259.0,276.9 L258.0,280.3 L257.0,283.6 L256.0,287.1 L255.0,290.5 L254.0,294.0 L253.0,297.4 L252.0,300.8 L251.0,304.0 L250.0,307.2 L249.0,310.3 L248.0,313.3 L247.0,316.1 L246.0,318.8 L245.0,321.3 L244.0,323.7 L243.0,325.9 L242.0,328.0 L241.0,329.9 L240.0,331.6 L239.0,333.2 L238.0,334.7 L237.0,336.1 L236.0,337.3 L235.0,338.4 L234.0,339.3 L233.0,340.2 L232.0,341.0 L231.0,341.7 L230.0,342.3 L229.0,342.8 L228.0,343.3 L227.0,343.7 L226.0,344.0 L225.0,344.3 L224.0,344.6 L223.0,344.8 L222.0,345.0 L221.0,345.1 L220.0,345.3 L219.0,345.4 L218.0,345.5 L217.0,345.6 L216.0,345.6 L215.0,345.7 L214.0,345.7 L213.0,345.8 L212.0,345.8 L211.0,345.8 L210.0,345.8 L209.0,345.9 L208.0,345.9 L207.0,345.9 L206.0,345.9 L205.0,345.9 L204.0,345.9 L203.0,345.9 L202.0,345.9 L201.0,345.9 L200.0,345.9 L199.0,345.9 L198.0,345.9 L197.0,345.9 L196.0,345.9 L195.0,345.9 L194.0,345.9 L193.0,345.9 L192.0,345.9 L191.0,345.9 L190.0,345.9 L189.0,345.9 L188.0,345.9 L187.0,345.9 L186.0,345.9 L185.0,345.9 L184.0,345.9 L183.0,345.9 L182.0,345.8 L181.0,345.8 L180.0,345.8 L179.0,345.7 L178.0,345.7 L177.0,345.6 L176.0,345.5 L175.0,345.4 L174.0,345.3 L173.0,345.2 L172.0,345.0 L171.0,344.8 L170.0,344.5 L169.0,344.2 L168.0,343.9 L167.0,343.5 L166.0,343.1 L165.0,342.5 L164.0,342.0 L163.0,341.3 L162.0,340.6 L161.0,339.8 L160.0,338.9 L159.0,338.0 L158.0,337.0 L157.0,335.9 L156.0,334.8 L155.0,333.6 L154.0,332.3 L153.0,331.0 L152.0,329.7 L151.0,328.4 L150.0,327.2 L149.0,325.9 L148.0,324.7 L147.0,323.6 L146.0,322.5 L145.0,321.5 L144.0,320.7 L143.0,320.0 L142.0,319.4 L141.0,319.0 L140.0,318.8 L139.0,318.7 L138.0,318.8 L137.0,319.2 L136.0,319.8 L135.0,320.7 L134.0,321.7 L133.0,323.0 L132.0,324.6 L131.0,326.3 L130.0,328.2 L129.0,330.3 L128.0,332.6 L127.0,335.0 L126.0,337.6 L125.0,340.4 L124.0,343.3 L123.0,346.4 L122.0,349.6 L121.0,352.9 L120.0,356.4 L119.0,359.9 L118.0,363.6 L117.0,367.3 L116.0,371.2 L115.0,375.1 L114.0,379.0 L113.0,383.1 L112.0,387.2 L111.0,391.3 L110.0,395.5 L109.0,399.7 L108.0,404.0 L107.0,408.2 L106.0,412.5 C105.7,417.5 110.8,417.5 110.5,412.5 Z" stroke="#b2c6e6"/>
<path d="M110.5,404.5 L111.5,401.9 L112.5,399.3 L113.5,396.7 L114.5,394.1 L115.5,391.5 L116.5,389.0 L117.5,386.5 L118.5,384.0 L119.5,381.5 L120.5,379.1 L121.5,376.8 L122.5,374.4 L123.5,372.2 L124.5,370.0 L125.5,367.8 L126.5,365.7 L127.5,363.7 L128.5,361.8 L129.5,359.9 L130.5,358.2 L131.5,356.5 L132.5,354.9 L133.5,353.4 L134.5,352.0 L135.5,350.7 L136.5,349.5 L137.5,348.4 L138.5,347.5 L139.5,346.7 L140.5,346.0 L141.5,345.4 L142.5,345.0 L143.5,344.7 L144.5,344.5 L145.5,344.5 L146.5,344.6 L147.5,344.7 L148.5,344.9 L149.5,345.2 L150.5,345.5 L151.5,345.9 L152.5,346.3 L153.5,346.7 L154.5,347.1 L155.5,347.6 L156.5,348.0 L157.5,348.4 L158.5,348.8 L159.5,349.2 L160.5,349.6 L161.5,349.9 L162.5,350.2 L163.5,350.4 L164.5,350.6 L165.5,350.8 L166.5,351.0 L167.5,351.1 L168.5,351.2 L169.5,351.3 L170.5,351.4 L171.5,351.5 L172.5,351.5 L173.5,351.6 L174.5,351.6 L175.5,351.6 L176.5,351.6 L177.5,351.6 L178.5,351.6 L179.5,351.6 L180.5,351.7 L181.5,351.7 L182.5,351.7 L183.5,351.7 L184.5,351.7 L185.5,351.7 L186.5,351.7 L187.5,351.7 L188.5,351.7 L189.5,351.7 L190.5,351.7 L191.5,351.7 L192.5,351.7 L193.5,351.7 L194.5,351.7 L195.5,351.7 L196.5,351.7 L197.5,351.7 L198.5,351.7 L199.5,351.7 L200.5,351.7 L201.5,351.7 L202.5,351.7 L203.5,351.7 L204.5,351.7 L205.5,351.7 L206.5,351.7 L207.5,351.7 L208.5,351.7 L209.5,351.7 L210.5,351.7 L211.5,351.7 L212.5,351.7 L213.5,351.7 L214.5,351.7 L215.5,351.7 L216.5,351.7 L217.5,351.7 L218.5,351.6 L219.5,351.6 L220.5,351.6 L221.5,351.6 L222.5,351.6 L223.5,351.6 L224.5,351.6 L225.5,351.6 L226.5,351.6 L227.5,351.6 L228.5,351.6 L229.5,351.6 L230.5,351.5 L231.5,351.5 L232.5,351.5 L233.5,351.5 L234.5,351.4 L235.5,351.4 L236.5,351.3 L237.5,351.3 L238.5,351.2 L239.5,351.2 L240.5,351.1 L241.5,351.0 L242.5,350.9 L243.5,350.8 L244.5,350.7 L245.5,350.5 L246.5,350.4 L247.5,350.2 L248.5,350.0 L249.5,349.7 L250.5,349.5 L251.5,349.2 L252.5,348.9 L253.5,348.5 L254.5,348.1 L255.5,347.7 L256.5,347.2 L257.5,346.7 L258.5,346.1 L259.5,345.4 L260.5,344.7 L261.5,343.9 L262.5,343.0 L263.5,342.1 L264.5,341.0 L265.5,339.9 L266.5,338.7 L267.5,337.3 L268.5,335.9 L269.5,334.3 L270.5,332.6 L271.5,330.7 L272.5,328.7 L273.5,326.6 L274.5,324.3 L275.5,321.8 L276.5,319.2 L277.5,316.4 L278.5,313.4 L279.5,310.3 L280.5,306.9 L281.5,303.3 L282.5,299.6 L283.5,295.6 L284.5,291.4 L285.5,287.0 L286.5,282.4 L287.5,277.6 L288.5,272.6 L289.5,267.4 L290.5,261.9 L291.5,256.3 L292.5,250.4 L293.5,244.4 L294.5,238.2 L295.5,231.8 L296.5,225.2 L297.5,218.5 L298.5,211.7 L299.5,204.7 L300.5,197.7 L301.5,190.5 L302.5,183.3 L303.5,176.0 L304.5,168.7 L305.5,161.4 L306.5,154.1 L307.5,146.8 L308.5,139.6 L309.5,132.4 L310.5,125.4 L311.5,118.5 L312.5,111.8 L313.5,105.3 L314.5,98.9 L315.5,92.8 L316.5,87.0 L317.5,81.4 L318.5,76.2 L319.5,71.2 L320.5,66.6 L321.5,62.4 L322.5,58.6 L323.5,55.1 L324.5,52.1 L325.5,49.5 L326.5,47.3 L327.5,45.6 L328.5,44.3 L329.5,43.5 L330.5,43.1 L331.5,43.3 L332.5,44.0 L333.5,45.3 L334.5,47.2 L335.5,49.6 L336.5,52.5 L337.5,55.9 L338.5,59.7 L339.5,64.1 L340.5,68.9 L341.5,74.1 L342.5,79.7 L343.5,85.6 L344.5,91.9 L345.5,98.4 L346.5,105.3 L347.5,112.3 L348.5,119.6 L349.5,127.0 L350.5,134.5 L351.5,142.2 L352.5,149.9 L353.5,157.6 L354.5,165.3 L355.5,173.1 L356.5,180.7 L357.5,188.3 L358.5,195.8 L359.5,203.1 L360.5,210.3 L361.5,217.3 L362.5,224.2 L363.5,230.8 L364.5,237.3 L365.5,243.6 L366.5,249.8 L367.5,255.8 L368.5,261.9 L369.5,268.2 L370.5,275.0 L371.5,282.6 L372.5,291.5 L373.5,301.4 L374.5,311.6 L375.5,320.3 L376.5,326.6 L377.5,330.5 L378.5,289.2 L379.5,292.4 L380.5,294.9 L381.5,297.0 L382.5,298.8 L383.5,300.3 L384.5,301.7 L385.5,303.0 L386.5,304.2 L387.5,305.2 L388.5,306.2 L389.5,307.1 L390.5,307.9 L391.5,308.7 L392.5,309.3 L393.5,310.0 L394.5,310.5 L395.5,311.0 L396.5,311.5 L397.5,311.9 L398.5,312.3 L399.5,312.7 L400.5,313.0 L401.5,313.3 L402.5,313.5 L403.5,313.8 L404.5,314.0 L405.5,314.2 L406.5,314.3 L407.5,314.5 L408.5,314.6 L409.5,314.8 L410.5,314.9 L411.5,315.0 L412.5,315.1 L413.5,315.2 L414.5,315.2 L415.5,315.3 L416.5,315.4 L417.5,315.4 L418.5,315.5 L419.5,315.5 L420.5,315.6 L421.5,315.6 L422.5,315.6 L423.5,315.7 L424.5,315.7 L425.5,315.7 L426.5,315.7 L427.5,315.8 L428.5,315.8 L429.5,315.8 L430.5,315.9 L431.5,315.9 L432.5,315.9 L433.5,316.0 L434.5,316.0 L435.5,316.0 L436.5,316.1 L437.5,316.1 L438.5,316.1 L439.5,316.2 L440.5,316.2 L441.5,316.3 L442.5,316.3 L443.5,316.3 L444.5,316.4 L445.5,316.4 L446.5,316.5 L447.5,316.6 L448.5,316.6 L449.5,316.7 L450.5,316.7 L451.5,316.8 L452.5,316.9 L453.5,317.0 L454.5,317.0 L455.5,317.1 L456.5,317.2 L457.5,317.3 L458.5,317.3 L459.5,317.4 L460.5,317.5 L461.5,317.6 L462.5,317.7 L463.5,317.8 L464.5,317.9 L465.5,318.0 L466.5,318.1 L467.5,318.2 L468.5,318.3 L469.5,318.4 L470.5,318.5 L471.5,318.6 L472.5,318.7 L473.5,318.8 L474.5,318.9 L475.5,319.0 L476.5,319.1 L477.5,319.2 L478.5,319.3 L479.5,319.4 L480.5,319.5 L481.5,319.7 L482.5,319.8 L483.5,319.9 L484.5,320.0 L485.5,320.1 L486.5,320.2 L487.5,320.3 L488.5,320.4 L489.5,320.5 L490.5,320.7 L491.5,320.8 L492.5,320.9 L493.5,321.0 L494.5,321.1 L495.5,321.2 L496.5,321.3 L497.5,321.4 L498.5,321.5 L499.5,321.6 L500.5,321.8 L501.5,321.9 L502.5,322.0 L503.5,322.1 L504.5,322.2 L505.5,322.3 L506.5,322.4 L507.5,322.5 L508.5,322.6 L509.5,322.7 L510.5,322.8 L511.5,322.9 L512.5,323.0 L513.5,323.1 L514.5,323.2 L515.5,323.3 L516.5,323.3 L517.5,323.4 L518.5,323.5 L519.5,323.6 L520.5,323.7 L521.5,323.8 L522.5,323.9 L523.5,324.0 L524.5,324.0 L525.5,324.1 L526.5,324.2 L527.5,324.3 L528.5,324.4 L529.5,324.4 L530.5,324.5 L531.5,324.6 L532.5,324.7 L533.5,324.7 L534.5,324.8 L535.5,324.9 L536.5,324.9 L537.5,325.0 L538.5,325.1 L539.5,325.1 L540.5,325.2 L541.5,325.3 L542.5,325.3 L543.5,325.4 L544.5,325.5 L545.5,325.5 L546.5,325.6 L547.5,325.6 L548.5,325.7 L549.5,325.7 L550.5,325.8 L551.5,325.8 L552.5,325.9 L553.5,325.9 L554.5,326.0 L555.5,326.0 L556.5,326.0 L557.5,326.1 L558.5,326.1 L559.5,326.1 L560.5,326.1 L561.5,326.2 L562.5,326.2 L563.5,326.2 L564.5,326.2 L565.5,326.2 L566.5,326.2 L567.5,326.1 L568.5,326.1 L569.5,326.1 L570.5,326.0 L571.5,326.0 L572.5,325.9 L573.5,325.8 L574.5,325.7 L575.5,325.6 L576.5,325.4 L577.5,325.3 L578.5,325.1 L579.5,324.9 L580.5,324.6 L581.5,324.4 L582.5,324.1 L583.5,323.7 L584.5,323.3 L585.5,322.9 L586.5,322.4 L587.5,321.9 L588.5,321.3 L589.5,320.6 L590.5,319.9 L591.5,319.1 L592.5,318.2 L593.5,317.2 L594.5,316.1 L595.5,314.9 L596.5,313.7 L597.5,312.3 L598.5,310.7 L599.5,309.1 L600.5,307.3 L601.5,305.4 L602.5,303.4 L603.5,301.2 L604.5,298.9 L605.5,296.5 L606.5,293.9 L607.5,291.1 L608.5,288.2 L609.5,285.2 L610.5,282.0 L611.5,278.7 L612.5,275.3 L613.5,271.8 L614.5,268.1 L615.5,264.3 L616.5,260.4 L617.5,256.4 L618.5,252.3 L619.5,248.1 L620.5,243.9 L621.5,239.5 L622.5,235.1 L623.5,230.6 L624.5,226.1 L625.5,221.5 L626.5,216.8 L627.5,212.1 L628.5,207.4 L629.5,202.6 L630.5,197.8 L631.5,192.9 L632.5,188.0 L633.5,183.1 L634.5,178.2 L635.5,173.3 L636.5,168.3 C638.3,146.1 645.7,147.3 647.5,169.5 L647.5,169.5 L647.0,171.9 L646.0,176.7 L645.0,181.6 L644.0,186.4 L643.0,191.2 L642.0,196.0 L641.0,200.8 L640.0,205.6 L639.0,210.4 L638.0,215.1 L637.0,219.9 L636.0,224.6 L635.0,229.3 L634.0,233.9 L633.0,238.6 L632.0,243.2 L631.0,247.7 L630.0,252.2 L629.0,256.7 L628.0,261.1 L627.0,265.5 L626.0,269.7 L625.0,273.9 L624.0,278.0 L623.0,282.0 L622.0,285.9 L621.0,289.7 L620.0,293.4 L619.0,296.9 L618.0,300.2 L617.0,303.5 L616.0,306.5 L615.0,309.4 L614.0,312.1 L613.0,314.7 L612.0,317.1 L611.0,319.3 L610.0,321.3 L609.0,323.2 L608.0,324.9 L607.0,326.4 L606.0,327.9 L605.0,329.1 L604.0,330.3 L603.0,331.3 L602.0,332.2 L601.0,333.0 L600.0,333.7 L599.0,334.3 L598.0,334.9 L597.0,335.4 L596.0,335.8 L595.0,336.2 L594.0,336.5 L593.0,336.8 L592.0,337.1 L591.0,337.3 L590.0,337.5 L589.0,337.6 L588.0,337.8 L587.0,337.9 L586.0,338.0 L585.0,338.1 L584.0,338.2 L583.0,338.3 L582.0,338.3 L581.0,338.4 L580.0,338.4 L579.0,338.5 L578.0,338.5 L577.0,338.6 L576.0,338.6 L575.0,338.6 L574.0,338.6 L573.0,338.6 L572.0,338.7 L571.0,338.7 L570.0,338.7 L569.0,338.7 L568.0,338.7 L567.0,338.7 L566.0,338.7 L565.0,338.7 L564.0,338.7 L563.0,338.7 L562.0,338.7 L561.0,338.7 L560.0,338.7 L559.0,338.7 L558.0,338.7 L557.0,338.7 L556.0,338.7 L555.0,338.7 L554.0,338.7 L553.0,338.7 L552.0,338.7 L551.0,338.7 L550.0,338.7 L549.0,338.7 L548.0,338.8 L547.0,338.8 L546.0,338.8 L545.0,338.8 L544.0,338.8 L543.0,338.8 L542.0,338.8 L541.0,338.8 L540.0,338.8 L539.0,338.8 L538.0,338.8 L537.0,338.8 L536.0,338.8 L535.0,338.8 L534.0,338.8 L533.0,338.8 L532.0,338.8 L531.0,338.8 L530.0,338.8 L529.0,338.8 L528.0,338.8 L527.0,338.8 L526.0,338.8 L525.0,338.8 L524.0,338.8 L523.0,338.8 L522.0,338.8 L521.0,338.8 L520.0,338.8 L519.0,338.8 L518.0,338.8 L517.0,338.8 L516.0,338.8 L515.0,338.8 L514.0,338.8 L513.0,338.8 L512.0,338.8 L511.0,338.8 L510.0,338.8 L509.0,338.8 L508.0,338.8 L507.0,338.8 L506.0,338.8 L505.0,338.8 L504.0,338.8 L503.0,338.8 L502.0,338.8 L501.0,338.8 L500.0,338.8 L499.0,338.8 L498.0,338.8 L497.0,338.8 L496.0,338.8 L495.0,338.8 L494.0,338.8 L493.0,338.8 L492.0,338.8 L491.0,338.8 L490.0,338.8 L489.0,338.8 L488.0,338.8 L487.0,338.8 L486.0,338.8 L485.0,338.8 L484.0,338.8 L483.0,338.8 L482.0,338.8 L481.0,338.8 L480.0,338.8 L479.0,338.8 L478.0,338.8 L477.0,338.8 L476.0,338.8 L475.0,338.8 L474.0,338.8 L473.0,338.8 L472.0,338.8 L471.0,338.8 L470.0,338.8 L469.0,338.8 L468.0,338.8 L467.0,338.8 L466.0,338.8 L465.0,338.8 L464.0,338.8 L463.0,338.8 L462.0,338.8 L461.0,338.8 L460.0,338.8 L459.0,338.8 L458.0,338.8 L457.0,338.8 L456.0,338.8 L455.0,338.8 L454.0,338.8 L453.0,338.8 L452.0,338.8 L451.0,338.8 L450.0,338.8 L449.0,338.8 L448.0,338.8 L447.0,338.8 L446.0,338.8 L445.0,338.8 L444.0,338.8 L443.0,338.8 L442.0,338.8 L441.0,338.8 L440.0,338.8 L439.0,338.8 L438.0,338.8 L437.0,338.8 L436.0,338.8 L435.0,338.8 L434.0,338.8 L433.0,338.8 L432.0,338.8 L431.0,338.8 L430.0,338.8 L429.0,338.8 L428.0,338.8 L427.0,338.8 L426.0,338.8 L425.0,338.8 L424.0,338.8 L423.0,338.8 L422.0,338.8 L421.0,338.8 L420.0,338.8 L419.0,338.8 L418.0,338.8 L417.0,338.8 L416.0,338.8 L415.0,338.8 L414.0,338.8 L413.0,338.8 L412.0,338.8 L411.0,338.8 L410.0,338.8 L409.0,338.8 L408.0,338.8 L407.0,338.8 L406.0,338.8 L405.0,338.8 L404.0,338.8 L403.0,338.8 L402.0,338.8 L401.0,338.8 L400.0,338.8 L399.0,338.8 L398.0,338.8 L397.0,338.8 L396.0,338.8 L395.0,338.8 L394.0,338.8 L393.0,338.8 L392.0,338.8 L391.0,338.8 L390.0,338.8 L389.0,338.8 L388.0,338.8 L387.0,338.8 L386.0,338.8 L385.0,338.8 L384.0,338.8 L383.0,338.8 L382.0,338.8 L381.0,338.8 L380.0,338.8 L379.0,338.8 L378.0,338.8 L377.0,338.8 L376.0,338.8 L375.0,338.8 L374.0,338.8 L373.0,338.8 L372.0,338.8 L371.0,338.8 L370.0,338.8 L369.0,338.8 L368.0,338.8 L367.0,338.8 L366.0,338.8 L365.0,338.8 L364.0,338.8 L363.0,338.8 L362.0,338.8 L361.0,338.8 L360.0,338.9 L359.0,338.9 L358.0,338.9 L357.0,339.0 L356.0,339.0 L355.0,339.1 L354.0,339.2 L353.0,339.3 L352.0,339.4 L351.0,339.5 L350.0,339.7 L349.0,339.9 L348.0,340.1 L347.0,340.4 L346.0,340.8 L345.0,341.1 L344.0,341.6 L343.0,342.1 L342.0,342.6 L341.0,343.2 L340.0,344.0 L339.0,344.8 L338.0,345.6 L337.0,346.6 L336.0,347.7 L335.0,348.8 L334.0,350.1 L333.0,351.4 L332.0,352.8 L331.0,354.3 L330.0,355.8 L329.0,357.5 L328.0,359.1 L327.0,360.9 L326.0,362.6 L325.0,364.3 L324.0,366.1 L323.0,367.8 L322.0,369.4 L321.0,371.0 L320.0,372.4 L319.0,373.8 L318.0,375.0 L317.0,376.1 L316.0,377.0 L315.0,377.8 L314.0,378.3 L313.0,378.7 L312.0,378.8 L311.0,378.8 L310.0,378.6 L309.0,378.3 L308.0,377.8 L307.0,377.2 L306.0,376.5 L305.0,375.7 L304.0,374.6 L303.0,373.5 L302.0,372.1 L301.0,370.6 L300.0,368.9 L299.0,366.9 L298.0,364.8 L297.0,362.4 L296.0,359.7 L295.0,356.8 L294.0,353.5 L293.0,350.0 L292.0,346.1 L291.0,341.8 L290.0,337.2 L289.0,332.3 L288.0,327.0 L287.0,321.5 L286.0,315.6 L285.0,309.5 L284.0,303.3 L283.0,296.9 L282.0,290.5 L281.0,284.1 L280.0,277.9 L279.0,272.0 L278.0,266.4 L277.0,261.3 L276.0,256.7 L275.0,252.7 L274.0,249.5 L273.0,247.0 L272.0,245.4 L271.0,244.6 L270.0,244.4 L269.0,244.6 L268.0,245.1 L267.0,246.1 L266.0,247.4 L265.0,249.0 L264.0,250.9 L263.0,253.2 L262.0,255.7 L261.0,258.5 L260.0,261.4 L259.0,264.6 L258.0,267.8 L257.0,271.2 L256.0,274.7 L255.0,278.2 L254.0,281.8 L253.0,285.3 L252.0,288.8 L251.0,292.2 L250.0,295.6 L249.0,298.9 L248.0,302.0 L247.0,305.1 L246.0,308.0 L245.0,310.7 L244.0,313.3 L243.0,315.8 L242.0,318.1 L241.0,320.2 L240.0,322.2 L239.0,324.0 L238.0,325.6 L237.0,327.2 L236.0,328.5 L235.0,329.8 L234.0,330.9 L233.0,331.9 L232.0,332.8 L231.0,333.6 L230.0,334.3 L229.0,335.0 L228.0,335.5 L227.0,336.0 L226.0,336.4 L225.0,336.8 L224.0,337.1 L223.0,337.4 L222.0,337.6 L221.0,337.8 L220.0,337.9 L219.0,338.1 L218.0,338.2 L217.0,338.3 L216.0,338.4 L215.0,338.5 L214.0,338.5 L213.0,338.6 L212.0,338.6 L211.0,338.6 L210.0,338.7 L209.0,338.7 L208.0,338.7 L207.0,338.7 L206.0,338.7 L205.0,338.7 L204.0,338.7 L203.0,338.7 L202.0,338.7 L201.0,338.7 L200.0,338.7 L199.0,338.7 L198.0,338.7 L197.0,338.7 L196.0,338.8 L195.0,338.8 L194.0,338.8 L193.0,338.8 L192.0,338.8 L191.0,338.8 L190.0,338.7 L189.0,338.7 L188.0,338.7 L187.0,338.7 L186.0,338.7 L185.0,338.7 L184.0,338.7 L183.0,338.7 L182.0,338.7 L181.0,338.7 L180.0,338.7 L179.0,338.7 L178.0,338.6 L177.0,338.6 L176.0,338.5 L175.0,338.5 L174.0,338.4 L173.0,338.3 L172.0,338.2 L171.0,338.1 L170.0,337.9 L169.0,337.8 L168.0,337.5 L167.0,337.3 L166.0,337.0 L165.0,336.6 L164.0,336.3 L163.0,335.8 L162.0,335.3 L161.0,334.7 L160.0,334.1 L159.0,333.3 L158.0,332.6 L157.0,331.7 L156.0,330.8 L155.0,329.8 L154.0,328.7 L153.0,327.6 L152.0,326.5 L151.0,325.3 L150.0,324.0 L149.0,322.8 L148.0,321.6 L147.0,320.4 L146.0,319.2 L145.0,318.1 L144.0,317.0 L143.0,316.1 L142.0,315.2 L141.0,314.5 L140.0,313.9 L139.0,313.4 L138.0,313.1 L137.0,312.9 L136.0,313.0 L135.0,313.3 L134.0,313.8 L133.0,314.7 L132.0,315.8 L131.0,317.1 L130.0,318.7 L129.0,320.6 L128.0,322.6 L127.0,324.9 L126.0,327.3 L125.0,330.0 L124.0,332.8 L123.0,335.9 L122.0,339.0 L121.0,342.4 L120.0,345.9 L119.0,349.5 L118.0,353.2 L117.0,357.1 L116.0,361.1 L115.0,365.1 L114.0,369.3 L113.0,373.5 L112.0,377.8 L111.0,382.2 L110.0,386.6 L109.0,391.0 L108.0,395.5 L107.0,400.0 L106.0,404.5 C105.7,409.5 110.8,409.5 110.5,404.5 Z" stroke="#141414"/>
<path d="M110.5,409.9 L111.5,407.4 L112.5,404.8 L113.5,402.3 L114.5,399.8 L115.5,397.3 L116.5,394.8 L117.5,392.3 L118.5,389.9 L119.5,387.5 L120.5,385.1 L121.5,382.8 L122.5,380.5 L123.5,378.2 L124.5,376.1 L125.5,373.9 L126.5,371.9 L127.5,369.8 L128.5,367.9 L129.5,366.0 L130.5,364.2 L131.5,362.5 L132.5,360.9 L133.5,359.3 L134.5,357.9 L135.5,356.5 L136.5,355.2 L137.5,354.0 L138.5,353.0 L139.5,352.0 L140.5,351.2 L141.5,350.5 L142.5,349.9 L143.5,349.4 L144.5,349.1 L145.5,348.9 L146.5,348.8 L147.5,348.8 L148.5,348.9 L149.5,349.1 L150.5,349.4 L151.5,349.7 L152.5,350.0 L153.5,350.4 L154.5,350.8 L155.5,351.2 L156.5,351.7 L157.5,352.1 L158.5,352.5 L159.5,352.9 L160.5,353.3 L161.5,353.7 L162.5,354.0 L163.5,354.3 L164.5,354.6 L165.5,354.8 L166.5,355.0 L167.5,355.2 L168.5,355.4 L169.5,355.5 L170.5,355.6 L171.5,355.7 L172.5,355.7 L173.5,355.8 L174.5,355.8 L175.5,355.9 L176.5,355.9 L177.5,355.9 L178.5,355.9 L179.5,355.9 L180.5,355.9 L181.5,356.0 L182.5,356.0 L183.5,356.0 L184.5,356.0 L185.5,356.0 L186.5,356.0 L187.5,356.0 L188.5,356.0 L189.5,356.0 L190.5,356.0 L191.5,356.0 L192.5,356.0 L193.5,356.0 L194.5,356.0 L195.5,356.0 L196.5,356.0 L197.5,356.0 L198.5,356.0 L199.5,356.0 L200.5,356.0 L201.5,356.0 L202.5,356.0 L203.5,356.0 L204.5,356.0 L205.5,356.0 L206.5,356.0 L207.5,356.0 L208.5,356.0 L209.5,356.0 L210.5,356.0 L211.5,356.0 L212.5,356.0 L213.5,356.0 L214.5,356.0 L215.5,356.0 L216.5,356.0 L217.5,356.0 L218.5,355.9 L219.5,355.9 L220.5,355.9 L221.5,355.9 L222.5,355.9 L223.5,355.9 L224.5,355.9 L225.5,355.9 L226.5,355.9 L227.5,355.9 L228.5,355.9 L229.5,355.8 L230.5,355.8 L231.5,355.8 L232.5,355.8 L233.5,355.7 L234.5,355.7 L235.5,355.6 L236.5,355.6 L237.5,355.5 L238.5,355.5 L239.5,355.4 L240.5,355.3 L241.5,355.2 L242.5,355.1 L243.5,355.0 L244.5,354.9 L245.5,354.7 L246.5,354.6 L247.5,354.4 L248.5,354.2 L249.5,353.9 L250.5,353.7 L251.5,353.4 L252.5,353.1 L253.5,352.7 L254.5,352.3 L255.5,351.9 L256.5,351.4 L257.5,350.9 L258.5,350.3 L259.5,349.6 L260.5,348.9 L261.5,348.2 L262.5,347.3 L263.5,346.4 L264.5,345.4 L265.5,344.4 L266.5,343.2 L267.5,341.9 L268.5,340.6 L269.5,339.1 L270.5,337.5 L271.5,335.8 L272.5,334.0 L273.5,332.1 L274.5,330.0 L275.5,327.8 L276.5,325.4 L277.5,323.0 L278.5,320.3 L279.5,317.5 L280.5,314.6 L281.5,311.5 L282.5,308.2 L283.5,304.8 L284.5,301.2 L285.5,297.5 L286.5,293.6 L287.5,289.5 L288.5,285.3 L289.5,281.0 L290.5,276.5 L291.5,271.9 L292.5,267.1 L293.5,262.2 L294.5,257.2 L295.5,252.1 L296.5,246.9 L297.5,241.6 L298.5,236.2 L299.5,230.8 L300.5,225.3 L301.5,219.8 L302.5,214.3 L303.5,208.8 L304.5,203.3 L305.5,197.9 L306.5,192.5 L307.5,187.1 L308.5,181.9 L309.5,176.8 L310.5,171.8 L311.5,167.0 L312.5,162.3 L313.5,157.8 L314.5,153.5 L315.5,149.5 L316.5,145.6 L317.5,142.0 L318.5,138.7 L319.5,135.6 L320.5,132.9 L321.5,130.4 L322.5,128.2 L323.5,126.4 L324.5,124.9 L325.5,123.7 L326.5,122.8 L327.5,122.3 L328.5,122.2 L329.5,122.4 L330.5,123.1 L331.5,124.2 L332.5,125.7 L333.5,127.6 L334.5,129.8 L335.5,132.5 L336.5,135.4 L337.5,138.7 L338.5,142.4 L339.5,146.3 L340.5,150.5 L341.5,154.9 L342.5,159.6 L343.5,164.5 L344.5,169.6 L345.5,174.8 L346.5,180.1 L347.5,185.6 L348.5,191.2 L349.5,196.8 L350.5,202.5 L351.5,208.1 L352.5,213.8 L353.5,219.4 L354.5,225.0 L355.5,230.5 L356.5,235.9 L357.5,241.3 L358.5,246.5 L359.5,251.6 L360.5,256.5 L361.5,261.3 L362.5,265.9 L363.5,270.4 L364.5,274.7 L365.5,278.9 L366.5,282.9 L367.5,286.8 L368.5,290.8 L369.5,294.7 L370.5,299.0 L371.5,303.7 L372.5,309.1 L373.5,315.1 L374.5,321.2 L375.5,326.3 L376.5,330.0 L377.5,332.3 L378.5,300.6 L379.5,303.1 L380.5,305.1 L381.5,306.9 L382.5,308.4 L383.5,309.8 L384.5,311.0 L385.5,312.1 L386.5,313.2 L387.5,314.1 L388.5,315.0 L389.5,315.8 L390.5,316.5 L391.5,317.2 L392.5,317.8 L393.5,318.3 L394.5,318.8 L395.5,319.3 L396.5,319.7 L397.5,320.1 L398.5,320.4 L399.5,320.7 L400.5,321.0 L401.5,321.3 L402.5,321.5 L403.5,321.7 L404.5,321.9 L405.5,322.1 L406.5,322.3 L407.5,322.4 L408.5,322.6 L409.5,322.7 L410.5,322.8 L411.5,322.9 L412.5,323.0 L413.5,323.1 L414.5,323.1 L415.5,323.2 L416.5,323.3 L417.5,323.3 L418.5,323.4 L419.5,323.4 L420.5,323.4 L421.5,323.5 L422.5,323.5 L423.5,323.6 L424.5,323.6 L425.5,323.6 L426.5,323.6 L427.5,323.7 L428.5,323.7 L429.5,323.7 L430.5,323.7 L431.5,323.8 L432.5,323.8 L433.5,323.8 L434.5,323.9 L435.5,323.9 L436.5,323.9 L437.5,323.9 L438.5,324.0 L439.5,324.0 L440.5,324.0 L441.5,324.1 L442.5,324.1 L443.5,324.2 L444.5,324.2 L445.5,324.2 L446.5,324.3 L447.5,324.3 L448.5,324.4 L449.5,324.4 L450.5,324.5 L451.5,324.5 L452.5,324.6 L453.5,324.6 L454.5,324.7 L455.5,324.7 L456.5,324.8 L457.5,324.9 L458.5,324.9 L459.5,325.0 L460.5,325.1 L461.5,325.1 L462.5,325.2 L463.5,325.3 L464.5,325.3 L465.5,325.4 L466.5,325.5 L467.5,325.6 L468.5,325.6 L469.5,325.7 L470.5,325.8 L471.5,325.9 L472.5,326.0 L473.5,326.0 L474.5,326.1 L475.5,326.2 L476.5,326.3 L477.5,326.4 L478.5,326.5 L479.5,326.5 L480.5,326.6 L481.5,326.7 L482.5,326.8 L483.5,326.9 L484.5,327.0 L485.5,327.1 L486.5,327.1 L487.5,327.2 L488.5,327.3 L489.5,327.4 L490.5,327.5 L491.5,327.6 L492.5,327.7 L493.5,327.7 L494.5,327.8 L495.5,327.9 L496.5,328.0 L497.5,328.1 L498.5,328.2 L499.5,328.3 L500.5,328.3 L501.5,328.4 L502.5,328.5 L503.5,328.6 L504.5,328.7 L505.5,328.7 L506.5,328.8 L507.5,328.9 L508.5,329.0 L509.5,329.1 L510.5,329.1 L511.5,329.2 L512.5,329.3 L513.5,329.4 L514.5,329.4 L515.5,329.5 L516.5,329.6 L517.5,329.6 L518.5,329.7 L519.5,329.8 L520.5,329.8 L521.5,329.9 L522.5,330.0 L523.5,330.0 L524.5,330.1 L525.5,330.2 L526.5,330.2 L527.5,330.3 L528.5,330.4 L529.5,330.4 L530.5,330.5 L531.5,330.5 L532.5,330.6 L533.5,330.7 L534.5,330.7 L535.5,330.8 L536.5,330.8 L537.5,330.9 L538.5,330.9 L539.5,331.0 L540.5,331.0 L541.5,331.1 L542.5,331.1 L543.5,331.2 L544.5,331.2 L545.5,331.3 L546.5,331.3 L547.5,331.3 L548.5,331.4 L549.5,331.4 L550.5,331.5 L551.5,331.5 L552.5,331.5 L553.5,331.6 L554.5,331.6 L555.5,331.6 L556.5,331.6 L557.5,331.7 L558.5,331.7 L559.5,331.7 L560.5,331.7 L561.5,331.7 L562.5,331.7 L563.5,331.7 L564.5,331.7 L565.5,331.7 L566.5,331.6 L567.5,331.6 L568.5,331.6 L569.5,331.5 L570.5,331.4 L571.5,331.4 L572.5,331.3 L573.5,331.2 L574.5,331.1 L575.5,330.9 L576.5,330.8 L577.5,330.6 L578.5,330.4 L579.5,330.1 L580.5,329.9 L581.5,329.6 L582.5,329.3 L583.5,328.9 L584.5,328.5 L585.5,328.0 L586.5,327.5 L587.5,326.9 L588.5,326.3 L589.5,325.6 L590.5,324.8 L591.5,323.9 L592.5,323.0 L593.5,322.0 L594.5,320.8 L595.5,319.6 L596.5,318.3 L597.5,316.8 L598.5,315.2 L599.5,313.5 L600.5,311.7 L601.5,309.7 L602.5,307.6 L603.5,305.4 L604.5,303.0 L605.5,300.5 L606.5,297.8 L607.5,295.0 L608.5,292.0 L609.5,288.9 L610.5,285.7 L611.5,282.3 L612.5,278.8 L613.5,275.2 L614.5,271.5 L615.5,267.6 L616.5,263.7 L617.5,259.6 L618.5,255.5 L619.5,251.3 L620.5,247.0 L621.5,242.6 L622.5,238.1 L623.5,233.6 L624.5,229.0 L625.5,224.4 L626.5,219.7 L627.5,215.0 L628.5,210.2 L629.5,205.4 L630.5,200.6 L631.5,195.7 L632.5,190.8 L633.5,185.9 L634.5,181.0 L635.5,176.0 L636.5,171.0 L637.0,168.5 C638.8,146.2 646.2,147.1 648.0,169.5 L648.0,169.5 L647.0,174.3 L646.0,179.2 L645.0,184.0 L644.0,188.8 L643.0,193.6 L642.0,198.5 L641.0,203.3 L640.0,208.1 L639.0,212.8 L638.0,217.6 L637.0,222.4 L636.0,227.1 L635.0,231.8 L634.0,236.5 L633.0,241.2 L632.0,245.8 L631.0,250.4 L630.0,254.9 L629.0,259.4 L628.0,263.9 L627.0,268.3 L626.0,272.6 L625.0,276.9 L624.0,281.0 L623.0,285.1 L622.0,289.1 L621.0,293.0 L620.0,296.7 L619.0,300.4 L618.0,303.9 L617.0,307.2 L616.0,310.4 L615.0,313.4 L614.0,316.3 L613.0,319.0 L612.0,321.5 L611.0,323.8 L610.0,326.0 L609.0,328.0 L608.0,329.9 L607.0,331.5 L606.0,333.0 L605.0,334.4 L604.0,335.7 L603.0,336.8 L602.0,337.8 L601.0,338.7 L600.0,339.4 L599.0,340.1 L598.0,340.8 L597.0,341.3 L596.0,341.8 L595.0,342.2 L594.0,342.6 L593.0,342.9 L592.0,343.2 L591.0,343.4 L590.0,343.6 L589.0,343.8 L588.0,344.0 L587.0,344.1 L586.0,344.2 L585.0,344.4 L584.0,344.5 L583.0,344.5 L582.0,344.6 L581.0,344.7 L580.0,344.7 L579.0,344.8 L578.0,344.8 L577.0,344.8 L576.0,344.9 L575.0,344.9 L574.0,344.9 L573.0,344.9 L572.0,345.0 L571.0,345.0 L570.0,345.0 L569.0,345.0 L568.0,345.0 L567.0,345.0 L566.0,345.0 L565.0,345.0 L564.0,345.0 L563.0,345.0 L562.0,345.0 L561.0,345.0 L560.0,345.0 L559.0,345.0 L558.0,345.1 L557.0,345.1 L556.0,345.1 L555.0,345.1 L554.0,345.1 L553.0,345.1 L552.0,345.1 L551.0,345.1 L550.0,345.1 L549.0,345.1 L548.0,345.1 L547.0,345.1 L546.0,345.1 L545.0,345.1 L544.0,345.1 L543.0,345.1 L542.0,345.1 L541.0,345.1 L540.0,345.1 L539.0,345.1 L538.0,345.1 L537.0,345.1 L536.0,345.1 L535.0,345.1 L534.0,345.1 L533.0,345.1 L532.0,345.1 L531.0,345.1 L530.0,345.1 L529.0,345.1 L528.0,345.1 L527.0,345.1 L526.0,345.1 L525.0,345.1 L524.0,345.1 L523.0,345.1 L522.0,345.1 L521.0,345.1 L520.0,345.1 L519.0,345.1 L518.0,345.1 L517.0,345.1 L516.0,345.1 L515.0,345.1 L514.0,345.1 L513.0,345.1 L512.0,345.1 L511.0,345.1 L510.0,345.1 L509.0,345.1 L508.0,345.1 L507.0,345.1 L506.0,345.1 L505.0,345.1 L504.0,345.1 L503.0,345.1 L502.0,345.1 L501.0,345.1 L500.0,345.1 L499.0,345.1 L498.0,345.1 L497.0,345.1 L496.0,345.1 L495.0,345.1 L494.0,345.1 L493.0,345.1 L492.0,345.1 L491.0,345.1 L490.0,345.1 L489.0,345.1 L488.0,345.1 L487.0,345.1 L486.0,345.1 L485.0,345.1 L484.0,345.1 L483.0,345.1 L482.0,345.1 L481.0,345.1 L480.0,345.1 L479.0,345.1 L478.0,345.1 L477.0,345.1 L476.0,345.1 L475.0,345.1 L474.0,345.1 L473.0,345.1 L472.0,345.1 L471.0,345.1 L470.0,345.1 L469.0,345.1 L468.0,345.1 L467.0,345.1 L466.0,345.1 L465.0,345.1 L464.0,345.1 L463.0,345.1 L462.0,345.1 L461.0,345.1 L460.0,345.1 L459.0,345.1 L458.0,345.1 L457.0,345.1 L456.0,345.1 L455.0,345.1 L454.0,345.1 L453.0,345.1 L452.0,345.1 L451.0,345.1 L450.0,345.1 L449.0,345.1 L448.0,345.1 L447.0,345.1 L446.0,345.1 L445.0,345.1 L444.0,345.1 L443.0,345.1 L442.0,345.1 L441.0,345.1 L440.0,345.1 L439.0,345.1 L438.0,345.1 L437.0,345.1 L436.0,345.1 L435.0,345.1 L434.0,345.1 L433.0,345.1 L432.0,345.1 L431.0,345.1 L430.0,345.1 L429.0,345.1 L428.0,345.1 L427.0,345.1 L426.0,345.1 L425.0,345.1 L424.0,345.1 L423.0,345.1 L422.0,345.1 L421.0,345.1 L420.0,345.1 L419.0,345.1 L418.0,345.1 L417.0,345.1 L416.0,345.1 L415.0,345.1 L414.0,345.1 L413.0,345.1 L412.0,345.1 L411.0,345.1 L410.0,345.1 L409.0,345.1 L408.0,345.1 L407.0,345.1 L406.0,345.1 L405.0,345.1 L404.0,345.1 L403.0,345.1 L402.0,345.1 L401.0,345.1 L400.0,345.1 L399.0,345.1 L398.0,345.1 L397.0,345.1 L396.0,345.1 L395.0,345.1 L394.0,345.1 L393.0,345.1 L392.0,345.1 L391.0,345.1 L390.0,345.1 L389.0,345.1 L388.0,345.1 L387.0,345.1 L386.0,345.1 L385.0,345.1 L384.0,345.1 L383.0,345.1 L382.0,345.1 L381.0,345.1 L380.0,345.1 L379.0,345.1 L378.0,345.1 L377.0,345.1 L376.0,345.1 L375.0,345.1 L374.0,345.1 L373.0,345.1 L372.0,345.1 L371.0,345.1 L370.0,345.1 L369.0,345.1 L368.0,345.1 L367.0,345.1 L366.0,345.1 L365.0,345.1 L364.0,345.1 L363.0,345.1 L362.0,345.1 L361.0,345.1 L360.0,345.1 L359.0,345.1 L358.0,345.2 L357.0,345.2 L356.0,345.2 L355.0,345.3 L354.0,345.3 L353.0,345.4 L352.0,345.5 L351.0,345.6 L350.0,345.7 L349.0,345.9 L348.0,346.0 L347.0,346.2 L346.0,346.5 L345.0,346.8 L344.0,347.1 L343.0,347.5 L342.0,348.0 L341.0,348.5 L340.0,349.1 L339.0,349.7 L338.0,350.5 L337.0,351.3 L336.0,352.2 L335.0,353.3 L334.0,354.4 L333.0,355.6 L332.0,356.9 L331.0,358.3 L330.0,359.8 L329.0,361.4 L328.0,363.0 L327.0,364.7 L326.0,366.5 L325.0,368.3 L324.0,370.2 L323.0,372.0 L322.0,373.8 L321.0,375.6 L320.0,377.3 L319.0,379.0 L318.0,380.6 L317.0,382.0 L316.0,383.3 L315.0,384.4 L314.0,385.4 L313.0,386.1 L312.0,386.7 L311.0,387.0 L310.0,387.2 L309.0,387.1 L308.0,386.9 L307.0,386.5 L306.0,386.0 L305.0,385.4 L304.0,384.6 L303.0,383.7 L302.0,382.7 L301.0,381.5 L300.0,380.1 L299.0,378.7 L298.0,377.0 L297.0,375.2 L296.0,373.2 L295.0,371.0 L294.0,368.6 L293.0,366.0 L292.0,363.2 L291.0,360.2 L290.0,357.0 L289.0,353.6 L288.0,349.9 L287.0,346.1 L286.0,342.1 L285.0,337.9 L284.0,333.5 L283.0,329.1 L282.0,324.6 L281.0,320.1 L280.0,315.7 L279.0,311.4 L278.0,307.2 L277.0,303.3 L276.0,299.7 L275.0,296.4 L274.0,293.6 L273.0,291.2 L272.0,289.3 L271.0,287.9 L270.0,287.1 L269.0,286.7 L268.0,286.6 L267.0,286.7 L266.0,287.0 L265.0,287.6 L264.0,288.5 L263.0,289.5 L262.0,290.8 L261.0,292.2 L260.0,293.8 L259.0,295.5 L258.0,297.4 L257.0,299.3 L256.0,301.4 L255.0,303.5 L254.0,305.6 L253.0,307.7 L252.0,309.9 L251.0,312.0 L250.0,314.2 L249.0,316.2 L248.0,318.2 L247.0,320.2 L246.0,322.1 L245.0,323.9 L244.0,325.6 L243.0,327.2 L242.0,328.7 L241.0,330.1 L240.0,331.4 L239.0,332.7 L238.0,333.8 L237.0,334.8 L236.0,335.8 L235.0,336.7 L234.0,337.4 L233.0,338.1 L232.0,338.8 L231.0,339.3 L230.0,339.8 L229.0,340.3 L228.0,340.7 L227.0,341.0 L226.0,341.3 L225.0,341.6 L224.0,341.8 L223.0,342.0 L222.0,342.2 L221.0,342.3 L220.0,342.4 L219.0,342.5 L218.0,342.6 L217.0,342.7 L216.0,342.8 L215.0,342.8 L214.0,342.9 L213.0,342.9 L212.0,342.9 L211.0,343.0 L210.0,343.0 L209.0,343.0 L208.0,343.0 L207.0,343.0 L206.0,343.0 L205.0,343.0 L204.0,343.0 L203.0,343.0 L202.0,343.0 L201.0,343.0 L200.0,343.1 L199.0,343.1 L198.0,343.1 L197.0,343.1 L196.0,343.1 L195.0,343.1 L194.0,343.0 L193.0,343.0 L192.0,343.0 L191.0,343.0 L190.0,343.0 L189.0,343.0 L188.0,343.0 L187.0,343.0 L186.0,343.0 L185.0,343.0 L184.0,342.9 L183.0,342.9 L182.0,342.8 L181.0,342.8 L180.0,342.7 L179.0,342.6 L178.0,342.5 L177.0,342.4 L176.0,342.2 L175.0,342.1 L174.0,341.8 L173.0,341.6 L172.0,341.3 L171.0,341.0 L170.0,340.6 L169.0,340.1 L168.0,339.6 L167.0,339.1 L166.0,338.5 L165.0,337.8 L164.0,337.0 L163.0,336.2 L162.0,335.3 L161.0,334.4 L160.0,333.4 L159.0,332.4 L158.0,331.3 L157.0,330.2 L156.0,329.1 L155.0,328.0 L154.0,326.9 L153.0,325.8 L152.0,324.7 L151.0,323.7 L150.0,322.8 L149.0,322.0 L148.0,321.3 L147.0,320.7 L146.0,320.2 L145.0,319.8 L144.0,319.6 L143.0,319.5 L142.0,319.6 L141.0,319.9 L140.0,320.4 L139.0,321.1 L138.0,321.9 L137.0,322.9 L136.0,324.1 L135.0,325.4 L134.0,326.9 L133.0,328.5 L132.0,330.3 L131.0,332.2 L130.0,334.3 L129.0,336.5 L128.0,338.8 L127.0,341.2 L126.0,343.8 L125.0,346.4 L124.0,349.2 L123.0,352.0 L122.0,354.9 L121.0,358.0 L120.0,361.1 L119.0,364.2 L118.0,367.5 L117.0,370.8 L116.0,374.2 L115.0,377.6 L114.0,381.1 L113.0,384.6 L112.0,388.1 L111.0,391.7 L110.0,395.3 L109.0,398.9 L108.0,402.6 L107.0,406.2 L106.0,409.9 C105.7,414.9 110.8,414.9 110.5,409.9 Z" stroke="#3adce6"/>
<path d="M111.1,395.9 L112.1,393.5 L113.1,391.1 L114.1,388.8 L115.1,386.4 L116.1,384.1 L117.1,381.8 L118.1,379.5 L119.1,377.2 L120.1,375.0 L121.1,372.9 L122.1,370.7 L123.1,368.6 L124.1,366.6 L125.1,364.6 L126.1,362.7 L127.1,360.8 L128.1,359.0 L129.1,357.3 L130.1,355.7 L131.1,354.1 L132.1,352.6 L133.1,351.2 L134.1,349.9 L135.1,348.7 L136.1,347.6 L137.1,346.7 L138.1,345.8 L139.1,345.0 L140.1,344.4 L141.1,343.9 L142.1,343.5 L143.1,343.2 L144.1,343.1 L145.1,343.1 L146.1,343.2 L147.1,343.3 L148.1,343.5 L149.1,343.8 L150.1,344.1 L151.1,344.5 L152.1,344.9 L153.1,345.3 L154.1,345.7 L155.1,346.2 L156.1,346.6 L157.1,347.0 L158.1,347.4 L159.1,347.8 L160.1,348.2 L161.1,348.5 L162.1,348.8 L163.1,349.0 L164.1,349.2 L165.1,349.4 L166.1,349.6 L167.1,349.7 L168.1,349.8 L169.1,349.9 L170.1,350.0 L171.1,350.0 L172.1,350.1 L173.1,350.1 L174.1,350.1 L175.1,350.2 L176.1,350.2 L177.1,350.2 L178.1,350.2 L179.1,350.2 L180.1,350.2 L181.1,350.2 L182.1,350.2 L183.1,350.2 L184.1,350.2 L185.1,350.2 L186.1,350.2 L187.1,350.2 L188.1,350.2 L189.1,350.2 L190.1,350.2 L191.1,350.2 L192.1,350.2 L193.1,350.2 L194.1,350.2 L195.1,350.2 L196.1,350.2 L197.1,350.2 L198.1,350.2 L199.1,350.2 L200.1,350.2 L201.1,350.2 L202.1,350.2 L203.1,350.2 L204.1,350.2 L205.1,350.2 L206.1,350.2 L207.1,350.2 L208.1,350.2 L209.1,350.2 L210.1,350.2 L211.1,350.2 L212.1,350.2 L213.1,350.2 L214.1,350.2 L215.1,350.2 L216.1,350.2 L217.1,350.2 L218.1,350.2 L219.1,350.2 L220.1,350.2 L221.1,350.2 L222.1,350.2 L223.1,350.2 L224.1,350.2 L225.1,350.2 L226.1,350.1 L227.1,350.1 L228.1,350.1 L229.1,350.1 L230.1,350.1 L231.1,350.0 L232.1,350.0 L233.1,350.0 L234.1,349.9 L235.1,349.9 L236.1,349.8 L237.1,349.8 L238.1,349.7 L239.1,349.6 L240.1,349.5 L241.1,349.4 L242.1,349.3 L243.1,349.2 L244.1,349.1 L245.1,348.9 L246.1,348.7 L247.1,348.5 L248.1,348.3 L249.1,348.0 L250.1,347.7 L251.1,347.4 L252.1,347.1 L253.1,346.7 L254.1,346.2 L255.1,345.7 L256.1,345.2 L257.1,344.6 L258.1,344.0 L259.1,343.2 L260.1,342.4 L261.1,341.6 L262.1,340.6 L263.1,339.6 L264.1,338.5 L265.1,337.2 L266.1,335.9 L267.1,334.4 L268.1,332.9 L269.1,331.2 L270.1,329.3 L271.1,327.3 L272.1,325.2 L273.1,322.9 L274.1,320.5 L275.1,317.9 L276.1,315.1 L277.1,312.1 L278.1,308.9 L279.1,305.5 L280.1,302.0 L281.1,298.2 L282.1,294.2 L283.1,290.0 L284.1,285.6 L285.1,281.0 L286.1,276.2 L287.1,271.1 L288.1,265.8 L289.1,260.3 L290.1,254.6 L291.1,248.7 L292.1,242.6 L293.1,236.3 L294.1,229.8 L295.1,223.1 L296.1,216.2 L297.1,209.2 L298.1,202.1 L299.1,194.8 L300.1,187.5 L301.1,180.0 L302.1,172.4 L303.1,164.8 L304.1,157.2 L305.1,149.6 L306.1,141.9 L307.1,134.3 L308.1,126.8 L309.1,119.4 L310.1,112.0 L311.1,104.8 L312.1,97.8 L313.1,90.9 L314.1,84.3 L315.1,77.9 L316.1,71.7 L317.1,65.9 L318.1,60.3 L319.1,55.1 L320.1,50.3 L321.1,45.8 L322.1,41.7 L323.1,38.0 L324.1,34.7 L325.1,31.9 L326.1,29.5 L327.1,27.5 L328.1,26.1 L329.1,25.1 L330.1,24.5 L331.1,24.5 L332.1,25.1 L333.1,26.3 L334.1,28.0 L335.1,30.3 L336.1,33.1 L337.1,36.5 L338.1,40.3 L339.1,44.7 L340.1,49.5 L341.1,54.8 L342.1,60.4 L343.1,66.5 L344.1,72.9 L345.1,79.6 L346.1,86.7 L347.1,93.9 L348.1,101.4 L349.1,109.1 L350.1,117.0 L351.1,124.9 L352.1,133.0 L353.1,141.1 L354.1,149.2 L355.1,157.3 L356.1,165.4 L357.1,173.4 L358.1,181.3 L359.1,189.1 L360.1,196.8 L361.1,204.3 L362.1,211.6 L363.1,218.8 L364.1,225.7 L365.1,232.5 L366.1,239.1 L367.1,245.6 L368.1,252.1 L369.1,258.7 L370.1,265.8 L371.1,273.7 L372.1,282.8 L373.1,293.3 L374.1,304.6 L375.1,315.1 L376.1,323.2 L377.1,328.5 L378.1,278.2 L379.1,282.4 L380.1,285.6 L381.1,288.2 L382.1,290.3 L383.1,292.2 L384.1,294.0 L385.1,295.5 L386.1,297.0 L387.1,298.3 L388.1,299.5 L389.1,300.6 L390.1,301.6 L391.1,302.5 L392.1,303.3 L393.1,304.1 L394.1,304.8 L395.1,305.5 L396.1,306.1 L397.1,306.7 L398.1,307.2 L399.1,307.6 L400.1,308.0 L401.1,308.4 L402.1,308.8 L403.1,309.1 L404.1,309.4 L405.1,309.7 L406.1,309.9 L407.1,310.2 L408.1,310.4 L409.1,310.6 L410.1,310.8 L411.1,310.9 L412.1,311.1 L413.1,311.2 L414.1,311.3 L415.1,311.5 L416.1,311.6 L417.1,311.7 L418.1,311.8 L419.1,311.8 L420.1,311.9 L421.1,312.0 L422.1,312.1 L423.1,312.1 L424.1,312.2 L425.1,312.2 L426.1,312.3 L427.1,312.3 L428.1,312.4 L429.1,312.4 L430.1,312.5 L431.1,312.5 L432.1,312.6 L433.1,312.6 L434.1,312.7 L435.1,312.7 L436.1,312.8 L437.1,312.8 L438.1,312.8 L439.1,312.9 L440.1,312.9 L441.1,313.0 L442.1,313.0 L443.1,313.1 L444.1,313.1 L445.1,313.1 L446.1,313.2 L447.1,313.2 L448.1,313.3 L449.1,313.3 L450.1,313.4 L451.1,313.4 L452.1,313.5 L453.1,313.5 L454.1,313.6 L455.1,313.7 L456.1,313.7 L457.1,313.8 L458.1,313.8 L459.1,313.9 L460.1,314.0 L461.1,314.0 L462.1,314.1 L463.1,314.1 L464.1,314.2 L465.1,314.3 L466.1,314.3 L467.1,314.4 L468.1,314.5 L469.1,314.6 L470.1,314.6 L471.1,314.7 L472.1,314.8 L473.1,314.8 L474.1,314.9 L475.1,315.0 L476.1,315.1 L477.1,315.2 L478.1,315.2 L479.1,315.3 L480.1,315.4 L481.1,315.5 L482.1,315.5 L483.1,315.6 L484.1,315.7 L485.1,315.8 L486.1,315.9 L487.1,315.9 L488.1,316.0 L489.1,316.1 L490.1,316.2 L491.1,316.3 L492.1,316.3 L493.1,316.4 L494.1,316.5 L495.1,316.6 L496.1,316.7 L497.1,316.8 L498.1,316.8 L499.1,316.9 L500.1,317.0 L501.1,317.1 L502.1,317.2 L503.1,317.2 L504.1,317.3 L505.1,317.4 L506.1,317.5 L507.1,317.6 L508.1,317.6 L509.1,317.7 L510.1,317.8 L511.1,317.9 L512.1,317.9 L513.1,318.0 L514.1,318.1 L515.1,318.2 L516.1,318.3 L517.1,318.3 L518.1,318.4 L519.1,318.5 L520.1,318.6 L521.1,318.6 L522.1,318.7 L523.1,318.8 L524.1,318.8 L525.1,318.9 L526.1,319.0 L527.1,319.1 L528.1,319.1 L529.1,319.2 L530.1,319.3 L531.1,319.3 L532.1,319.4 L533.1,319.5 L534.1,319.5 L535.1,319.6 L536.1,319.7 L537.1,319.7 L538.1,319.8 L539.1,319.9 L540.1,319.9 L541.1,320.0 L542.1,320.0 L543.1,320.1 L544.1,320.2 L545.1,320.2 L546.1,320.3 L547.1,320.3 L548.1,320.4 L549.1,320.4 L550.1,320.5 L551.1,320.5 L552.1,320.6 L553.1,320.6 L554.1,320.7 L555.1,320.7 L556.1,320.7 L557.1,320.8 L558.1,320.8 L559.1,320.8 L560.1,320.8 L561.1,320.9 L562.1,320.9 L563.1,320.9 L564.1,320.9 L565.1,320.9 L566.1,320.9 L567.1,320.8 L568.1,320.8 L569.1,320.8 L570.1,320.7 L571.1,320.6 L572.1,320.6 L573.1,320.5 L574.1,320.4 L575.1,320.2 L576.1,320.1 L577.1,319.9 L578.1,319.7 L579.1,319.5 L580.1,319.2 L581.1,318.9 L582.1,318.6 L583.1,318.2 L584.1,317.8 L585.1,317.3 L586.1,316.8 L587.1,316.2 L588.1,315.5 L589.1,314.8 L590.1,314.0 L591.1,313.1 L592.1,312.2 L593.1,311.1 L594.1,310.0 L595.1,308.7 L596.1,307.3 L597.1,305.8 L598.1,304.2 L599.1,302.5 L600.1,300.6 L601.1,298.6 L602.1,296.4 L603.1,294.1 L604.1,291.7 L605.1,289.1 L606.1,286.4 L607.1,283.5 L608.1,280.5 L609.1,277.4 L610.1,274.1 L611.1,270.7 L612.1,267.2 L613.1,263.5 L614.1,259.7 L615.1,255.9 L616.1,251.9 L617.1,247.8 L618.1,243.6 L619.1,239.4 L620.1,235.0 L621.1,230.6 L622.1,226.2 L623.1,221.6 L624.1,217.0 L625.1,212.4 L626.1,207.7 L627.1,203.0 L628.1,198.2 L629.1,193.4 L630.1,188.5 L631.1,183.7 L632.1,178.8 L633.1,173.8 L634.1,168.9 L635.1,163.9 L636.0,159.4 C637.8,137.4 645.2,138.8 647.0,160.9 L647.0,160.9 L646.6,162.8 L645.6,167.6 L644.6,172.5 L643.6,177.3 L642.6,182.1 L641.6,187.0 L640.6,191.8 L639.6,196.6 L638.6,201.4 L637.6,206.1 L636.6,210.9 L635.6,215.6 L634.6,220.4 L633.6,225.1 L632.6,229.7 L631.6,234.4 L630.6,239.0 L629.6,243.6 L628.6,248.1 L627.6,252.6 L626.6,257.0 L625.6,261.4 L624.6,265.7 L623.6,269.9 L622.6,274.0 L621.6,278.0 L620.6,282.0 L619.6,285.8 L618.6,289.5 L617.6,293.0 L616.6,296.4 L615.6,299.7 L614.6,302.8 L613.6,305.7 L612.6,308.5 L611.6,311.1 L610.6,313.6 L609.6,315.8 L608.6,317.9 L607.6,319.8 L606.6,321.6 L605.6,323.2 L604.6,324.6 L603.6,325.9 L602.6,327.1 L601.6,328.1 L600.6,329.1 L599.6,329.9 L598.6,330.6 L597.6,331.3 L596.6,331.9 L595.6,332.4 L594.6,332.8 L593.6,333.2 L592.6,333.6 L591.6,333.9 L590.6,334.1 L589.6,334.3 L588.6,334.6 L587.6,334.7 L586.6,334.9 L585.6,335.0 L584.6,335.1 L583.6,335.2 L582.6,335.3 L581.6,335.4 L580.6,335.5 L579.6,335.5 L578.6,335.6 L577.6,335.6 L576.6,335.6 L575.6,335.7 L574.6,335.7 L573.6,335.7 L572.6,335.7 L571.6,335.8 L570.6,335.8 L569.6,335.8 L568.6,335.8 L567.6,335.8 L566.6,335.8 L565.6,335.8 L564.6,335.8 L563.6,335.8 L562.6,335.9 L561.6,335.9 L560.6,335.9 L559.6,335.9 L558.6,335.9 L557.6,335.9 L556.6,335.9 L555.6,335.9 L554.6,335.9 L553.6,335.9 L552.6,335.9 L551.6,335.9 L550.6,335.9 L549.6,335.9 L548.6,335.9 L547.6,335.9 L546.6,335.9 L545.6,335.9 L544.6,335.9 L543.6,335.9 L542.6,335.9 L541.6,335.9 L540.6,335.9 L539.6,335.9 L538.6,335.9 L537.6,335.9 L536.6,335.9 L535.6,335.9 L534.6,335.9 L533.6,335.9 L532.6,335.9 L531.6,335.9 L530.6,335.9 L529.6,335.9 L528.6,335.9 L527.6,335.9 L526.6,335.9 L525.6,335.9 L524.6,335.9 L523.6,335.9 L522.6,335.9 L521.6,335.9 L520.6,335.9 L519.6,335.9 L518.6,335.9 L517.6,335.9 L516.6,335.9 L515.6,335.9 L514.6,335.9 L513.6,335.9 L512.6,335.9 L511.6,335.9 L510.6,335.9 L509.6,335.9 L508.6,335.9 L507.6,335.9 L506.6,335.9 L505.6,335.9 L504.6,335.9 L503.6,335.9 L502.6,335.9 L501.6,335.9 L500.6,335.9 L499.6,335.9 L498.6,335.9 L497.6,335.9 L496.6,335.9 L495.6,335.9 L494.6,335.9 L493.6,335.9 L492.6,335.9 L491.6,335.9 L490.6,335.9 L489.6,335.9 L488.6,335.9 L487.6,335.9 L486.6,335.9 L485.6,335.9 L484.6,335.9 L483.6,335.9 L482.6,335.9 L481.6,335.9 L480.6,335.9 L479.6,335.9 L478.6,335.9 L477.6,335.9 L476.6,335.9 L475.6,335.9 L474.6,335.9 L473.6,335.9 L472.6,335.9 L471.6,335.9 L470.6,335.9 L469.6,335.9 L468.6,335.9 L467.6,335.9 L466.6,335.9 L465.6,335.9 L464.6,335.9 L463.6,335.9 L462.6,335.9 L461.6,335.9 L460.6,335.9 L459.6,335.9 L458.6,335.9 L457.6,335.9 L456.6,335.9 L455.6,335.9 L454.6,335.9 L453.6,335.9 L452.6,335.9 L451.6,335.9 L450.6,335.9 L449.6,335.9 L448.6,335.9 L447.6,335.9 L446.6,335.9 L445.6,335.9 L444.6,335.9 L443.6,335.9 L442.6,335.9 L441.6,335.9 L440.6,335.9 L439.6,335.9 L438.6,335.9 L437.6,335.9 L436.6,335.9 L435.6,335.9 L434.6,335.9 L433.6,335.9 L432.6,335.9 L431.6,335.9 L430.6,335.9 L429.6,335.9 L428.6,335.9 L427.6,335.9 L426.6,335.9 L425.6,335.9 L424.6,335.9 L423.6,335.9 L422.6,335.9 L421.6,335.9 L420.6,335.9 L419.6,335.9 L418.6,335.9 L417.6,335.9 L416.6,335.9 L415.6,335.9 L414.6,335.9 L413.6,335.9 L412.6,335.9 L411.6,335.9 L410.6,335.9 L409.6,335.9 L408.6,335.9 L407.6,335.9 L406.6,335.9 L405.6,335.9 L404.6,335.9 L403.6,335.9 L402.6,335.9 L401.6,335.9 L400.6,335.9 L399.6,335.9 L398.6,335.9 L397.6,335.9 L396.6,335.9 L395.6,335.9 L394.6,335.9 L393.6,335.9 L392.6,335.9 L391.6,335.9 L390.6,335.9 L389.6,335.9 L388.6,335.9 L387.6,335.9 L386.6,335.9 L385.6,335.9 L384.6,335.9 L383.6,335.9 L382.6,335.9 L381.6,335.9 L380.6,335.9 L379.6,335.9 L378.6,335.9 L377.6,335.9 L376.6,335.9 L375.6,335.9 L374.6,335.9 L373.6,335.9 L372.6,335.9 L371.6,335.9 L370.6,335.9 L369.6,335.9 L368.6,335.9 L367.6,335.9 L366.6,335.9 L365.6,335.9 L364.6,336.0 L363.6,336.0 L362.6,336.0 L361.6,336.0 L360.6,336.1 L359.6,336.1 L358.6,336.2 L357.6,336.2 L356.6,336.3 L355.6,336.4 L354.6,336.5 L353.6,336.7 L352.6,336.8 L351.6,337.0 L350.6,337.2 L349.6,337.5 L348.6,337.8 L347.6,338.2 L346.6,338.6 L345.6,339.0 L344.6,339.6 L343.6,340.2 L342.6,340.8 L341.6,341.6 L340.6,342.4 L339.6,343.3 L338.6,344.3 L337.6,345.3 L336.6,346.5 L335.6,347.7 L334.6,349.0 L333.6,350.3 L332.6,351.7 L331.6,353.2 L330.6,354.7 L329.6,356.3 L328.6,357.8 L327.6,359.4 L326.6,360.9 L325.6,362.4 L324.6,363.9 L323.6,365.3 L322.6,366.6 L321.6,367.8 L320.6,368.8 L319.6,369.8 L318.6,370.5 L317.6,371.2 L316.6,371.6 L315.6,371.9 L314.6,372.0 L313.6,371.9 L312.6,371.7 L311.6,371.5 L310.6,371.1 L309.6,370.6 L308.6,369.9 L307.6,369.2 L306.6,368.3 L305.6,367.2 L304.6,366.1 L303.6,364.7 L302.6,363.2 L301.6,361.5 L300.6,359.6 L299.6,357.5 L298.6,355.2 L297.6,352.5 L296.6,349.6 L295.6,346.4 L294.6,342.9 L293.6,339.0 L292.6,334.7 L291.6,330.1 L290.6,325.2 L289.6,319.8 L288.6,314.2 L287.6,308.2 L286.6,302.0 L285.6,295.7 L284.6,289.1 L283.6,282.6 L282.6,276.1 L281.6,269.8 L280.6,263.7 L279.6,258.0 L278.6,252.7 L277.6,248.0 L276.6,244.0 L275.6,240.8 L274.6,238.3 L273.6,236.7 L272.6,236.0 L271.6,235.9 L270.6,236.2 L269.6,236.9 L268.6,238.0 L267.6,239.5 L266.6,241.3 L265.6,243.4 L264.6,245.9 L263.6,248.6 L262.6,251.6 L261.6,254.7 L260.6,258.1 L259.6,261.6 L258.6,265.2 L257.6,269.0 L256.6,272.7 L255.6,276.5 L254.6,280.2 L253.6,284.0 L252.6,287.6 L251.6,291.2 L250.6,294.7 L249.6,298.1 L248.6,301.3 L247.6,304.4 L246.6,307.3 L245.6,310.1 L244.6,312.7 L243.6,315.1 L242.6,317.3 L241.6,319.4 L240.6,321.4 L239.6,323.1 L238.6,324.7 L237.6,326.2 L236.6,327.5 L235.6,328.7 L234.6,329.8 L233.6,330.8 L232.6,331.6 L231.6,332.4 L230.6,333.0 L229.6,333.6 L228.6,334.1 L227.6,334.5 L226.6,334.9 L225.6,335.3 L224.6,335.5 L223.6,335.8 L222.6,336.0 L221.6,336.2 L220.6,336.3 L219.6,336.4 L218.6,336.6 L217.6,336.6 L216.6,336.7 L215.6,336.8 L214.6,336.8 L213.6,336.9 L212.6,336.9 L211.6,336.9 L210.6,336.9 L209.6,337.0 L208.6,337.0 L207.6,337.0 L206.6,337.0 L205.6,337.0 L204.6,337.0 L203.6,337.0 L202.6,337.0 L201.6,337.0 L200.6,337.0 L199.6,337.0 L198.6,337.0 L197.6,337.0 L196.6,337.0 L195.6,337.0 L194.6,337.0 L193.6,337.0 L192.6,337.0 L191.6,337.0 L190.6,337.0 L189.6,337.0 L188.6,337.0 L187.6,337.0 L186.6,336.9 L185.6,336.9 L184.6,336.9 L183.6,336.8 L182.6,336.8 L181.6,336.7 L180.6,336.6 L179.6,336.5 L178.6,336.4 L177.6,336.2 L176.6,336.0 L175.6,335.8 L174.6,335.6 L173.6,335.3 L172.6,335.0 L171.6,334.6 L170.6,334.2 L169.6,333.7 L168.6,333.2 L167.6,332.6 L166.6,331.9 L165.6,331.2 L164.6,330.5 L163.6,329.6 L162.6,328.8 L161.6,327.8 L160.6,326.9 L159.6,325.9 L158.6,324.9 L157.6,323.8 L156.6,322.8 L155.6,321.8 L154.6,320.8 L153.6,319.9 L152.6,319.0 L151.6,318.2 L150.6,317.5 L149.6,316.9 L148.6,316.4 L147.6,316.0 L146.6,315.7 L145.6,315.5 L144.6,315.5 L143.6,315.7 L142.6,316.0 L141.6,316.4 L140.6,317.0 L139.6,317.8 L138.6,318.7 L137.6,319.7 L136.6,320.9 L135.6,322.1 L134.6,323.6 L133.6,325.1 L132.6,326.7 L131.6,328.5 L130.6,330.3 L129.6,332.3 L128.6,334.4 L127.6,336.5 L126.6,338.8 L125.6,341.1 L124.6,343.5 L123.6,346.0 L122.6,348.5 L121.6,351.2 L120.6,353.9 L119.6,356.6 L118.6,359.4 L117.6,362.3 L116.6,365.2 L115.6,368.1 L114.6,371.1 L113.6,374.1 L112.6,377.2 L111.6,380.2 L110.6,383.3 L109.6,386.5 L108.6,389.6 L107.6,392.7 L106.6,395.9 C106.3,400.9 111.4,400.9 111.1,395.9 Z" stroke="#dd9a3a"/>
</g>
<rect x="93.8" y="11.75" width="570.7" height="459.65" fill="none" stroke="#000" stroke-width="2.8"/>
<line x1="84.2" y1="26.00" x2="93.8" y2="26.00" stroke="#000" stroke-width="2.6"/>
<text x="77.2" y="31.60" font-size="21.6" text-anchor="end">0.24</text>
<line x1="84.2" y1="112.08" x2="93.8" y2="112.08" stroke="#000" stroke-width="2.6"/>
<text x="77.2" y="117.68" font-size="21.6" text-anchor="end">0.21</text>
<line x1="84.2" y1="198.16" x2="93.8" y2="198.16" stroke="#000" stroke-width="2.6"/>
<text x="77.2" y="203.76" font-size="21.6" text-anchor="end">0.18</text>
<line x1="84.2" y1="284.24" x2="93.8" y2="284.24" stroke="#000" stroke-width="2.6"/>
<text x="77.2" y="289.84" font-size="21.6" text-anchor="end">0.15</text>
<line x1="84.2" y1="370.32" x2="93.8" y2="370.32" stroke="#000" stroke-width="2.6"/>
<text x="77.2" y="375.92" font-size="21.6" text-anchor="end">0.12</text>
<line x1="84.2" y1="456.40" x2="93.8" y2="456.40" stroke="#000" stroke-width="2.6"/>
<text x="77.2" y="462.00" font-size="21.6" text-anchor="end">0.09</text>
<line x1="88.5" y1="69.04" x2="93.8" y2="69.04" stroke="#000" stroke-width="2.6"/>
<line x1="88.5" y1="155.12" x2="93.8" y2="155.12" stroke="#000" stroke-width="2.6"/>
<line x1="88.5" y1="241.20" x2="93.8" y2="241.20" stroke="#000" stroke-width="2.6"/>
<line x1="88.5" y1="327.28" x2="93.8" y2="327.28" stroke="#000" stroke-width="2.6"/>
<line x1="88.5" y1="413.36" x2="93.8" y2="413.36" stroke="#000" stroke-width="2.6"/>
<line x1="106.80" y1="471.4" x2="106.80" y2="478.8" stroke="#000" stroke-width="2.6"/>
<text x="106.80" y="502.3" font-size="21.6" text-anchor="middle">-1.00</text>
<line x1="174.73" y1="471.4" x2="174.73" y2="478.8" stroke="#000" stroke-width="2.6"/>
<text x="174.73" y="502.3" font-size="21.6" text-anchor="middle">-0.75</text>
<line x1="242.65" y1="471.4" x2="242.65" y2="478.8" stroke="#000" stroke-width="2.6"/>
<text x="242.65" y="502.3" font-size="21.6" text-anchor="middle">-0.50</text>
<line x1="310.57" y1="471.4" x2="310.57" y2="478.8" stroke="#000" stroke-width="2.6"/>
<text x="310.57" y="502.3" font-size="21.6" text-anchor="middle">-0.25</text>
<line x1="378.50" y1="471.4" x2="378.50" y2="478.8" stroke="#000" stroke-width="2.6"/>
<text x="378.50" y="502.3" font-size="21.6" text-anchor="middle">0.00</text>
<line x1="446.43" y1="471.4" x2="446.43" y2="478.8" stroke="#000" stroke-width="2.6"/>
<text x="446.43" y="502.3" font-size="21.6" text-anchor="middle">0.25</text>
<line x1="514.35" y1="471.4" x2="514.35" y2="478.8" stroke="#000" stroke-width="2.6"/>
<text x="514.35" y="502.3" font-size="21.6" text-anchor="middle">0.50</text>
<line x1="582.27" y1="471.4" x2="582.27" y2="478.8" stroke="#000" stroke-width="2.6"/>
<text x="582.27" y="502.3" font-size="21.6" text-anchor="middle">0.75</text>
<line x1="650.20" y1="471.4" x2="650.20" y2="478.8" stroke="#000" stroke-width="2.6"/>
<text x="650.20" y="502.3" font-size="21.6" text-anchor="middle">1.00</text>
<line x1="140.76" y1="471.4" x2="140.76" y2="474.8" stroke="#000" stroke-width="2.6"/>
<line x1="208.69" y1="471.4" x2="208.69" y2="474.8" stroke="#000" stroke-width="2.6"/>
<line x1="276.61" y1="471.4" x2="276.61" y2="474.8" stroke="#000" stroke-width="2.6"/>
<line x1="344.54" y1="471.4" x2="344.54" y2="474.8" stroke="#000" stroke-width="2.6"/>
<line x1="412.46" y1="471.4" x2="412.46" y2="474.8" stroke="#000" stroke-width="2.6"/>
<line x1="480.39" y1="471.4" x2="480.39" y2="474.8" stroke="#000" stroke-width="2.6"/>
<line x1="548.31" y1="471.4" x2="548.31" y2="474.8" stroke="#000" stroke-width="2.6"/>
<line x1="616.24" y1="471.4" x2="616.24" y2="474.8" stroke="#000" stroke-width="2.6"/>
<text x="379" y="531" font-size="24" text-anchor="middle">Potential (V)</text>
<text transform="translate(27.5,241.8) rotate(-90)" font-size="24" text-anchor="middle">Current (mA)</text>
<text x="396" y="65.7" font-size="24">49.33 mg/mL</text>
<text x="394.5" y="294.4" font-size="24">5.23 mg/mL</text>
<line x1="419.6" y1="275.2" x2="419.6" y2="92" stroke="#000" stroke-width="3"/>
<path d="M419.6,71.4 L425.2,95.8 L414,95.8 Z" fill="#000"/>
<text x="580.5" y="443.8" font-size="31" letter-spacing="1.3">(a)</text>
<circle cx="117.5" cy="1032.3" r="8.1" fill="#c0504d"/>
<circle cx="175.2" cy="981.6" r="8.1" fill="#c0504d"/>
<circle cx="232.9" cy="934.0" r="8.1" fill="#c0504d"/>
<circle cx="289.6" cy="907.8" r="8.1" fill="#c0504d"/>
<circle cx="346.0" cy="848.6" r="8.1" fill="#c0504d"/>
<circle cx="401.3" cy="798.0" r="8.1" fill="#c0504d"/>
<circle cx="455.8" cy="768.9" r="8.1" fill="#c0504d"/>
<circle cx="510.0" cy="732.1" r="8.1" fill="#c0504d"/>
<circle cx="563.1" cy="706.6" r="8.1" fill="#c0504d"/>
<circle cx="616.2" cy="654.8" r="8.1" fill="#c0504d"/>
<line x1="117.8" y1="1026.0" x2="612.0" y2="657.5" stroke="#000" stroke-width="3.0" stroke-linecap="round" stroke-dasharray="0 7.7"/>
<path d="M104.1,611.7 H668.7 V1051.3" fill="none" stroke="#222" stroke-width="2.5"/>
<line x1="104.1" y1="610.5" x2="104.1" y2="1051.3" stroke="#000" stroke-width="3.2"/>
<line x1="102.6" y1="1051.3" x2="670.0" y2="1051.3" stroke="#000" stroke-width="3.4"/>
<line x1="96.9" y1="1051.30" x2="104.1" y2="1051.30" stroke="#000" stroke-width="3"/>
<text x="84.5" y="1058.10" font-size="23" text-anchor="end">0.14</text>
<line x1="96.9" y1="978.03" x2="104.1" y2="978.03" stroke="#000" stroke-width="3"/>
<text x="84.5" y="984.83" font-size="23" text-anchor="end">0.16</text>
<line x1="96.9" y1="904.77" x2="104.1" y2="904.77" stroke="#000" stroke-width="3"/>
<text x="84.5" y="911.57" font-size="23" text-anchor="end">0.18</text>
<line x1="96.9" y1="831.50" x2="104.1" y2="831.50" stroke="#000" stroke-width="3"/>
<text x="84.5" y="838.30" font-size="23" text-anchor="end">0.2</text>
<line x1="96.9" y1="758.24" x2="104.1" y2="758.24" stroke="#000" stroke-width="3"/>
<text x="84.5" y="765.04" font-size="23" text-anchor="end">0.22</text>
<line x1="96.9" y1="684.97" x2="104.1" y2="684.97" stroke="#000" stroke-width="3"/>
<text x="84.5" y="691.77" font-size="23" text-anchor="end">0.24</text>
<line x1="96.9" y1="611.70" x2="104.1" y2="611.70" stroke="#000" stroke-width="3"/>
<text x="84.5" y="618.50" font-size="23" text-anchor="end">0.26</text>
<line x1="98.4" y1="1014.67" x2="104.1" y2="1014.67" stroke="#000" stroke-width="3"/>
<line x1="98.4" y1="941.40" x2="104.1" y2="941.40" stroke="#000" stroke-width="3"/>
<line x1="98.4" y1="868.13" x2="104.1" y2="868.13" stroke="#000" stroke-width="3"/>
<line x1="98.4" y1="794.87" x2="104.1" y2="794.87" stroke="#000" stroke-width="3"/>
<line x1="98.4" y1="721.60" x2="104.1" y2="721.60" stroke="#000" stroke-width="3"/>
<line x1="98.4" y1="648.34" x2="104.1" y2="648.34" stroke="#000" stroke-width="3"/>
<line x1="104.10" y1="1051.3" x2="104.10" y2="1058.2" stroke="#000" stroke-width="3"/>
<text x="104.10" y="1086.8" font-size="23" text-anchor="middle">4</text>
<line x1="217.00" y1="1051.3" x2="217.00" y2="1058.2" stroke="#000" stroke-width="3"/>
<text x="217.00" y="1086.8" font-size="23" text-anchor="middle">14</text>
<line x1="329.90" y1="1051.3" x2="329.90" y2="1058.2" stroke="#000" stroke-width="3"/>
<text x="329.90" y="1086.8" font-size="23" text-anchor="middle">24</text>
<line x1="442.80" y1="1051.3" x2="442.80" y2="1058.2" stroke="#000" stroke-width="3"/>
<text x="442.80" y="1086.8" font-size="23" text-anchor="middle">34</text>
<line x1="555.70" y1="1051.3" x2="555.70" y2="1058.2" stroke="#000" stroke-width="3"/>
<text x="555.70" y="1086.8" font-size="23" text-anchor="middle">44</text>
<line x1="668.60" y1="1051.3" x2="668.60" y2="1058.2" stroke="#000" stroke-width="3"/>
<text x="668.60" y="1086.8" font-size="23" text-anchor="middle">54</text>
<line x1="160.55" y1="1051.3" x2="160.55" y2="1058.2" stroke="#000" stroke-width="3"/>
<line x1="273.45" y1="1051.3" x2="273.45" y2="1058.2" stroke="#000" stroke-width="3"/>
<line x1="386.35" y1="1051.3" x2="386.35" y2="1058.2" stroke="#000" stroke-width="3"/>
<line x1="499.25" y1="1051.3" x2="499.25" y2="1058.2" stroke="#000" stroke-width="3"/>
<line x1="612.15" y1="1051.3" x2="612.15" y2="1058.2" stroke="#000" stroke-width="3"/>
<text x="390.5" y="1117.2" font-size="27" text-anchor="middle">Std. ethanol (mg/mL)</text>
<text transform="translate(25.3,828) rotate(-90)" font-size="27" text-anchor="middle">Current (mA)</text>
<text x="203.1" y="641.3" font-size="23" text-anchor="middle">I = 0.0023c + 0.135</text>
<text x="203.1" y="667.6" font-size="23" text-anchor="middle">R<tspan font-size="13" dy="-6.5">2</tspan><tspan dy="6.5"> = 0.9951</tspan></text>
<text x="618.5" y="1031.5" font-size="29.5" letter-spacing="1.3">(b)</text>
</svg></body></html>
